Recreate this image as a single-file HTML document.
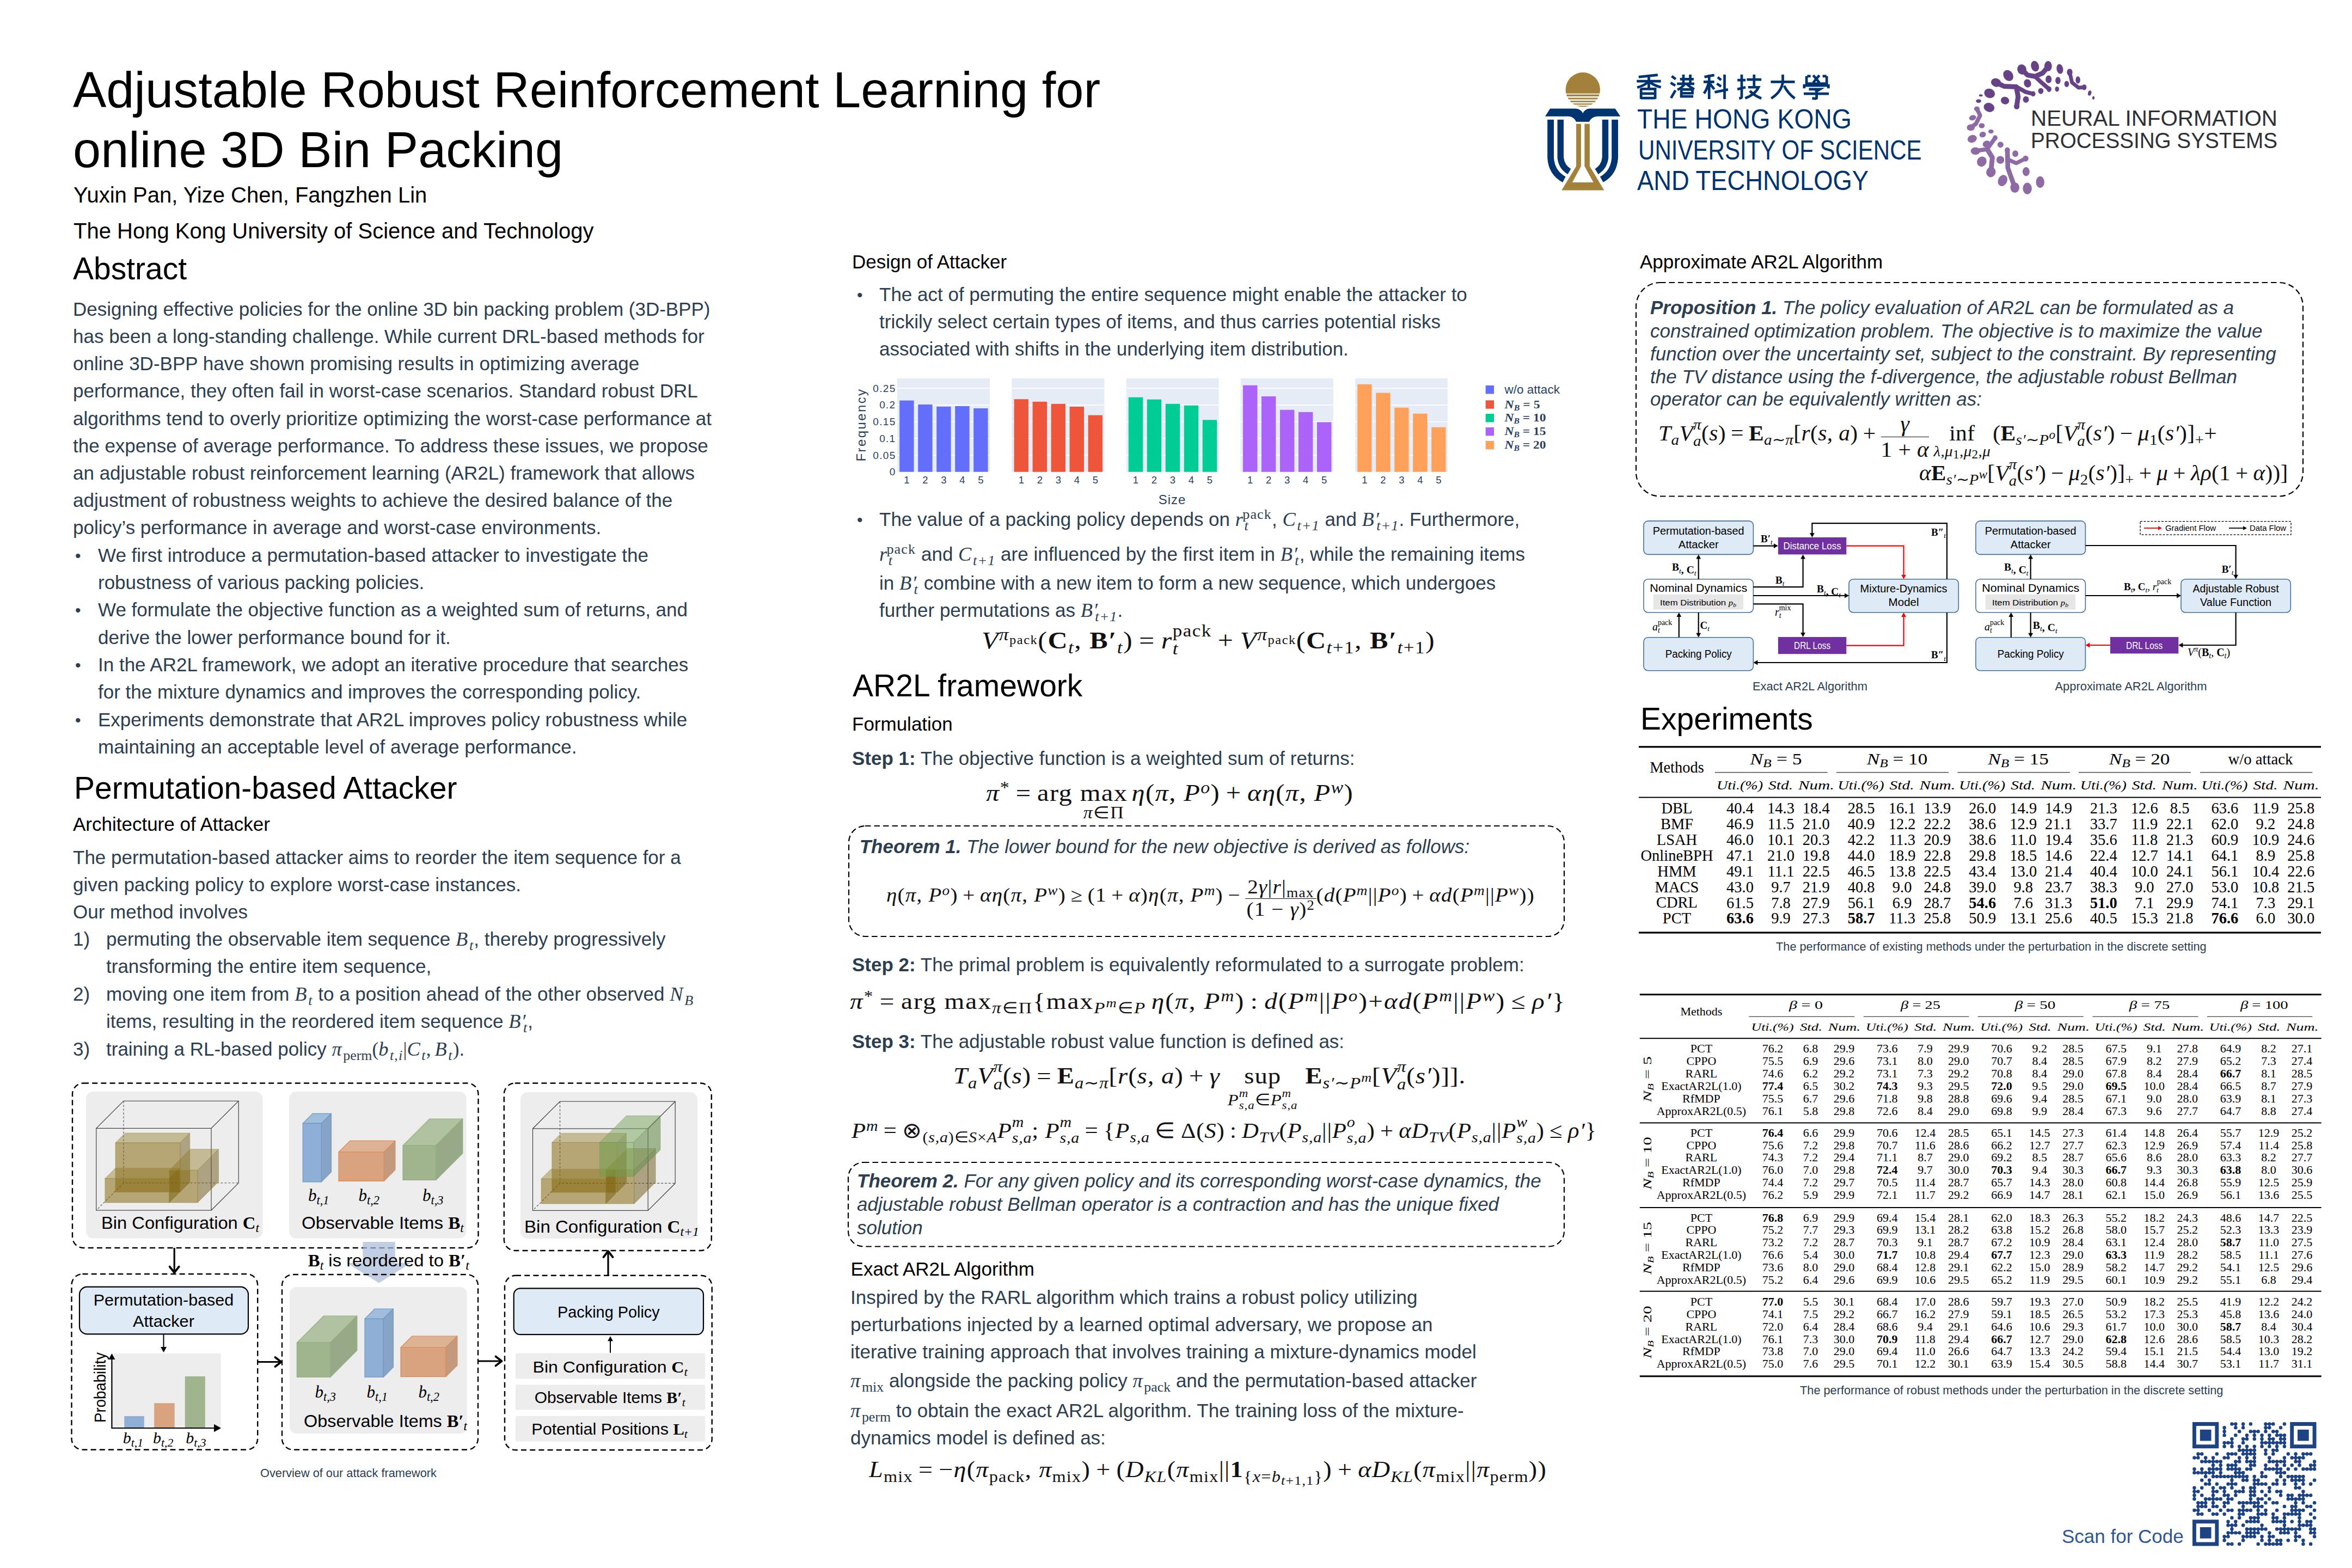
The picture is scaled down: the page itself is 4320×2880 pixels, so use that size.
<!DOCTYPE html>
<html><head><meta charset="utf-8"><title>AR2L poster</title>
<style>
html,body{margin:0;padding:0;background:#fff;}
body{width:4320px;height:2880px;position:relative;overflow:hidden;font-family:'Liberation Sans', sans-serif;}
.t{position:absolute;white-space:nowrap;}
.m{font-family:'Liberation Serif', serif;font-style:italic;font-size:1.04em;letter-spacing:0.03em;} .m sub,.m sup{font-size:72%;} .pr{margin-left:0.02em;}
.r{font-family:'Liberation Serif', serif;font-style:normal;}
.b{font-family:'Liberation Serif', serif;font-weight:bold;font-style:normal;}
sub,sup{font-size:74%;line-height:0;position:relative;vertical-align:baseline;margin-left:0.06em;}
sup{top:-0.5em;} sub{top:0.3em;}
svg{position:absolute;}
.eq{font-family:'Liberation Serif', serif;}
.eq i{font-style:italic;} .eq b{font-weight:bold;} .rm{font-style:normal;}
.sb{font-size:70%;position:relative;top:0.3em;line-height:0;}
.su{font-size:70%;position:relative;top:-0.45em;line-height:0;}
.su2{font-size:80%;position:relative;top:-0.5em;line-height:0;}
.sb2{font-size:80%;position:relative;top:0.2em;line-height:0;}
.ss{display:inline-block;vertical-align:-0.35em;line-height:1.05;font-size:70%;text-align:left;}
.ss .ssu,.ss .ssb{display:block;}
.ul{display:inline-table;vertical-align:baseline;text-align:center;line-height:1.0;}
.ul .ulb,.ul .ull{display:table-row;} .ul .ull{font-size:70%;line-height:0.95;}
.fr{display:inline-block;vertical-align:-0.75em;text-align:center;line-height:1.15;}
.fr .frn{display:block;border-bottom:1.5px solid currentColor;padding:0 0.1em;} .fr .frd{display:block;}
.cal{font-family:'Liberation Serif', serif;font-style:italic;}
.bbm{font-family:'Liberation Serif', serif;font-weight:bold;}
</style></head><body>
<div class="t" style="left:134px;top:106.3px;font-size:92px;line-height:119.6px;color:#000;font-family:'Liberation Sans', sans-serif;font-weight:normal;font-style:normal;">Adjustable Robust Reinforcement Learning for</div>
<div class="t" style="left:134px;top:216.3px;font-size:92px;line-height:119.6px;color:#000;font-family:'Liberation Sans', sans-serif;font-weight:normal;font-style:normal;">online 3D Bin Packing</div>
<div class="t" style="left:135px;top:332.1px;font-size:40px;line-height:52.0px;color:#000;font-family:'Liberation Sans', sans-serif;font-weight:normal;font-style:normal;">Yuxin Pan, Yize Chen, Fangzhen Lin</div>
<div class="t" style="left:135px;top:398.1px;font-size:40px;line-height:52.0px;color:#000;font-family:'Liberation Sans', sans-serif;font-weight:normal;font-style:normal;">The Hong Kong University of Science and Technology</div>
<div class="t" style="left:134px;top:456.2px;font-size:57px;line-height:74.1px;color:#000;font-family:'Liberation Sans', sans-serif;font-weight:normal;font-style:normal;">Abstract</div>
<div class="t" style="left:134px;top:544.8px;font-size:35px;line-height:45.5px;color:#2C3E50;font-family:'Liberation Sans', sans-serif;font-weight:normal;font-style:normal;">Designing effective policies for the online 3D bin packing problem (3D-BPP)</div>
<div class="t" style="left:134px;top:595.0px;font-size:35px;line-height:45.5px;color:#2C3E50;font-family:'Liberation Sans', sans-serif;font-weight:normal;font-style:normal;">has been a long-standing challenge. While current DRL-based methods for</div>
<div class="t" style="left:134px;top:645.2px;font-size:35px;line-height:45.5px;color:#2C3E50;font-family:'Liberation Sans', sans-serif;font-weight:normal;font-style:normal;">online 3D-BPP have shown promising results in optimizing average</div>
<div class="t" style="left:134px;top:695.4px;font-size:35px;line-height:45.5px;color:#2C3E50;font-family:'Liberation Sans', sans-serif;font-weight:normal;font-style:normal;">performance, they often fail in worst-case scenarios. Standard robust DRL</div>
<div class="t" style="left:134px;top:745.5px;font-size:35px;line-height:45.5px;color:#2C3E50;font-family:'Liberation Sans', sans-serif;font-weight:normal;font-style:normal;">algorithms tend to overly prioritize optimizing the worst-case performance at</div>
<div class="t" style="left:134px;top:795.7px;font-size:35px;line-height:45.5px;color:#2C3E50;font-family:'Liberation Sans', sans-serif;font-weight:normal;font-style:normal;">the expense of average performance. To address these issues, we propose</div>
<div class="t" style="left:134px;top:845.9px;font-size:35px;line-height:45.5px;color:#2C3E50;font-family:'Liberation Sans', sans-serif;font-weight:normal;font-style:normal;">an adjustable robust reinforcement learning (AR2L) framework that allows</div>
<div class="t" style="left:134px;top:896.1px;font-size:35px;line-height:45.5px;color:#2C3E50;font-family:'Liberation Sans', sans-serif;font-weight:normal;font-style:normal;">adjustment of robustness weights to achieve the desired balance of the</div>
<div class="t" style="left:134px;top:946.3px;font-size:35px;line-height:45.5px;color:#2C3E50;font-family:'Liberation Sans', sans-serif;font-weight:normal;font-style:normal;">policy&#8217;s performance in average and worst-case environments.</div>
<div class="t" style="left:180px;top:996.5px;font-size:35px;line-height:45.5px;color:#2C3E50;font-family:'Liberation Sans', sans-serif;font-weight:normal;font-style:normal;">We first introduce a permutation-based attacker to investigate the</div>
<div class="t" style="left:180px;top:1046.9px;font-size:35px;line-height:45.5px;color:#2C3E50;font-family:'Liberation Sans', sans-serif;font-weight:normal;font-style:normal;">robustness of various packing policies.</div>
<div class="t" style="left:180px;top:1097.2px;font-size:35px;line-height:45.5px;color:#2C3E50;font-family:'Liberation Sans', sans-serif;font-weight:normal;font-style:normal;">We formulate the objective function as a weighted sum of returns, and</div>
<div class="t" style="left:180px;top:1147.6px;font-size:35px;line-height:45.5px;color:#2C3E50;font-family:'Liberation Sans', sans-serif;font-weight:normal;font-style:normal;">derive the lower performance bound for it.</div>
<div class="t" style="left:180px;top:1198.0px;font-size:35px;line-height:45.5px;color:#2C3E50;font-family:'Liberation Sans', sans-serif;font-weight:normal;font-style:normal;">In the AR2L framework, we adopt an iterative procedure that searches</div>
<div class="t" style="left:180px;top:1248.3px;font-size:35px;line-height:45.5px;color:#2C3E50;font-family:'Liberation Sans', sans-serif;font-weight:normal;font-style:normal;">for the mixture dynamics and improves the corresponding policy.</div>
<div class="t" style="left:180px;top:1298.7px;font-size:35px;line-height:45.5px;color:#2C3E50;font-family:'Liberation Sans', sans-serif;font-weight:normal;font-style:normal;">Experiments demonstrate that AR2L improves policy robustness while</div>
<div class="t" style="left:180px;top:1349.0px;font-size:35px;line-height:45.5px;color:#2C3E50;font-family:'Liberation Sans', sans-serif;font-weight:normal;font-style:normal;">maintaining an acceptable level of average performance.</div>
<div class="t" style="left:138px;top:1000.5px;font-size:30px;line-height:39.0px;color:#2C3E50;font-family:'Liberation Sans', sans-serif;font-weight:normal;font-style:normal;">&#8226;</div>
<div class="t" style="left:138px;top:1101.2px;font-size:30px;line-height:39.0px;color:#2C3E50;font-family:'Liberation Sans', sans-serif;font-weight:normal;font-style:normal;">&#8226;</div>
<div class="t" style="left:138px;top:1201.9px;font-size:30px;line-height:39.0px;color:#2C3E50;font-family:'Liberation Sans', sans-serif;font-weight:normal;font-style:normal;">&#8226;</div>
<div class="t" style="left:138px;top:1302.7px;font-size:30px;line-height:39.0px;color:#2C3E50;font-family:'Liberation Sans', sans-serif;font-weight:normal;font-style:normal;">&#8226;</div>
<div class="t" style="left:136px;top:1410.2px;font-size:57px;line-height:74.1px;color:#000;font-family:'Liberation Sans', sans-serif;font-weight:normal;font-style:normal;">Permutation-based Attacker</div>
<div class="t" style="left:134px;top:1491.1px;font-size:35px;line-height:45.5px;color:#000;font-family:'Liberation Sans', sans-serif;font-weight:normal;font-style:normal;">Architecture of Attacker</div>
<div class="t" style="left:134px;top:1552.1px;font-size:35px;line-height:45.5px;color:#2C3E50;font-family:'Liberation Sans', sans-serif;font-weight:normal;font-style:normal;">The permutation-based attacker aims to reorder the item sequence for a</div>
<div class="t" style="left:134px;top:1601.8px;font-size:35px;line-height:45.5px;color:#2C3E50;font-family:'Liberation Sans', sans-serif;font-weight:normal;font-style:normal;">given packing policy to explore worst-case instances.</div>
<div class="t" style="left:134px;top:1651.5px;font-size:35px;line-height:45.5px;color:#2C3E50;font-family:'Liberation Sans', sans-serif;font-weight:normal;font-style:normal;">Our method involves</div>
<div class="t" style="left:195px;top:1702.1px;font-size:35px;line-height:45.5px;color:#2C3E50;font-family:'Liberation Sans', sans-serif;font-weight:normal;font-style:normal;">permuting the observable item sequence <span class="m">B<sub>t</sub></span>, thereby progressively</div>
<div class="t" style="left:195px;top:1752.1px;font-size:35px;line-height:45.5px;color:#2C3E50;font-family:'Liberation Sans', sans-serif;font-weight:normal;font-style:normal;">transforming the entire item sequence,</div>
<div class="t" style="left:195px;top:1803.1px;font-size:35px;line-height:45.5px;color:#2C3E50;font-family:'Liberation Sans', sans-serif;font-weight:normal;font-style:normal;">moving one item from <span class="m">B<sub>t</sub></span> to a position ahead of the other observed <span class="m">N<sub>B</sub></span></div>
<div class="t" style="left:195px;top:1852.8px;font-size:35px;line-height:45.5px;color:#2C3E50;font-family:'Liberation Sans', sans-serif;font-weight:normal;font-style:normal;">items, resulting in the reordered item sequence <span class="m">B&#8242;<sub style="margin-left:-0.22em">t</sub></span>,</div>
<div class="t" style="left:195px;top:1904.1px;font-size:35px;line-height:45.5px;color:#2C3E50;font-family:'Liberation Sans', sans-serif;font-weight:normal;font-style:normal;">training a RL-based policy <span class="m">&#960;</span><span class="r"><sub>perm</sub>(</span><span class="m">b<sub>t,i</sub></span><span class="r">|</span><span class="m">C<sub>t</sub></span><span class="r">,&#8201;</span><span class="m">B<sub>t</sub></span><span class="r">)</span>.</div>
<div class="t" style="left:134px;top:1702.1px;font-size:35px;line-height:45.5px;color:#2C3E50;font-family:'Liberation Sans', sans-serif;font-weight:normal;font-style:normal;">1)</div>
<div class="t" style="left:134px;top:1803.1px;font-size:35px;line-height:45.5px;color:#2C3E50;font-family:'Liberation Sans', sans-serif;font-weight:normal;font-style:normal;">2)</div>
<div class="t" style="left:134px;top:1904.1px;font-size:35px;line-height:45.5px;color:#2C3E50;font-family:'Liberation Sans', sans-serif;font-weight:normal;font-style:normal;">3)</div>
<div class="t" style="left:478px;top:2692.3px;font-size:21.75px;line-height:28.28px;color:#2C3E50;font-family:'Liberation Sans', sans-serif;font-weight:normal;font-style:normal;">Overview of our attack framework</div>
<div class="t" style="left:1565px;top:458.1px;font-size:35px;line-height:45.5px;color:#000;font-family:'Liberation Sans', sans-serif;font-weight:normal;font-style:normal;">Design of Attacker</div>
<div class="t" style="left:1615px;top:517.9px;font-size:35px;line-height:45.5px;color:#2C3E50;font-family:'Liberation Sans', sans-serif;font-weight:normal;font-style:normal;">The act of permuting the entire sequence might enable the attacker to</div>
<div class="t" style="left:1615px;top:568.1px;font-size:35px;line-height:45.5px;color:#2C3E50;font-family:'Liberation Sans', sans-serif;font-weight:normal;font-style:normal;">trickily select certain types of items, and thus carries potential risks</div>
<div class="t" style="left:1615px;top:617.9px;font-size:35px;line-height:45.5px;color:#2C3E50;font-family:'Liberation Sans', sans-serif;font-weight:normal;font-style:normal;">associated with shifts in the underlying item distribution.</div>
<div class="t" style="left:1574px;top:521.9px;font-size:30px;line-height:39.0px;color:#2C3E50;font-family:'Liberation Sans', sans-serif;font-weight:normal;font-style:normal;">&#8226;</div>
<div class="t" style="left:1615px;top:931.4px;font-size:35px;line-height:45.5px;color:#2C3E50;font-family:'Liberation Sans', sans-serif;font-weight:normal;font-style:normal;">The value of a packing policy depends on <span class="m">r<sub>t</sub><sup style="margin-left:-0.45em;font-style:normal">pack</sup></span>, <span class="m">C<sub>t+1</sub></span> and <span class="m">B&#8242;<sub style="margin-left:-0.22em">t+1</sub></span>. Furthermore,</div>
<div class="t" style="left:1615px;top:995.0px;font-size:35px;line-height:45.5px;color:#2C3E50;font-family:'Liberation Sans', sans-serif;font-weight:normal;font-style:normal;"><span class="m">r<sub>t</sub><sup style="margin-left:-0.45em;font-style:normal">pack</sup></span> and <span class="m">C<sub>t+1</sub></span> are influenced by the first item in <span class="m">B&#8242;<sub style="margin-left:-0.22em">t</sub></span>, while the remaining items</div>
<div class="t" style="left:1615px;top:1048.1px;font-size:35px;line-height:45.5px;color:#2C3E50;font-family:'Liberation Sans', sans-serif;font-weight:normal;font-style:normal;">in <span class="m">B&#8242;<sub style="margin-left:-0.22em">t</sub></span> combine with a new item to form a new sequence, which undergoes</div>
<div class="t" style="left:1615px;top:1097.9px;font-size:35px;line-height:45.5px;color:#2C3E50;font-family:'Liberation Sans', sans-serif;font-weight:normal;font-style:normal;">further permutations as <span class="m">B&#8242;<sub style="margin-left:-0.22em">t+1</sub></span>.</div>
<div class="t" style="left:1574px;top:935.4px;font-size:30px;line-height:39.0px;color:#2C3E50;font-family:'Liberation Sans', sans-serif;font-weight:normal;font-style:normal;">&#8226;</div>
<div class="t" style="left:1566px;top:1221.7px;font-size:57px;line-height:74.1px;color:#000;font-family:'Liberation Sans', sans-serif;font-weight:normal;font-style:normal;">AR2L framework</div>
<div class="t" style="left:1565px;top:1307.1px;font-size:35px;line-height:45.5px;color:#000;font-family:'Liberation Sans', sans-serif;font-weight:normal;font-style:normal;">Formulation</div>
<div class="t" style="left:1565px;top:1369.7px;font-size:35px;line-height:45.5px;color:#2C3E50;font-family:'Liberation Sans', sans-serif;font-weight:normal;font-style:normal;"><b>Step 1:</b> The objective function is a weighted sum of returns:</div>
<div class="t" style="left:1578.7px;top:1531.8px;font-size:35px;line-height:45.5px;color:#2C3E50;font-family:'Liberation Sans', sans-serif;font-weight:normal;font-style:italic;"><b>Theorem 1.</b> The lower bound for the new objective is derived as follows:</div>
<div class="t" style="left:1565px;top:1749.1px;font-size:35px;line-height:45.5px;color:#2C3E50;font-family:'Liberation Sans', sans-serif;font-weight:normal;font-style:normal;"><b>Step 2:</b> The primal problem is equivalently reformulated to a surrogate problem:</div>
<div class="t" style="left:1565px;top:1889.7px;font-size:35px;line-height:45.5px;color:#2C3E50;font-family:'Liberation Sans', sans-serif;font-weight:normal;font-style:normal;"><b>Step 3:</b> The adjustable robust value function is defined as:</div>
<div class="t" style="left:1574px;top:2145.7px;font-size:35px;line-height:45.5px;color:#2C3E50;font-family:'Liberation Sans', sans-serif;font-weight:normal;font-style:italic;"><b>Theorem 2.</b> For any given policy and its corresponding worst-case dynamics, the</div>
<div class="t" style="left:1574px;top:2189.1px;font-size:35px;line-height:45.5px;color:#2C3E50;font-family:'Liberation Sans', sans-serif;font-weight:normal;font-style:italic;">adjustable robust Bellman operator is a contraction and has the unique fixed</div>
<div class="t" style="left:1574px;top:2232.1px;font-size:35px;line-height:45.5px;color:#2C3E50;font-family:'Liberation Sans', sans-serif;font-weight:normal;font-style:italic;">solution</div>
<div class="t" style="left:1562.6px;top:2308.1px;font-size:35px;line-height:45.5px;color:#000;font-family:'Liberation Sans', sans-serif;font-weight:normal;font-style:normal;">Exact AR2L Algorithm</div>
<div class="t" style="left:1562px;top:2359.5px;font-size:35px;line-height:45.5px;color:#2C3E50;font-family:'Liberation Sans', sans-serif;font-weight:normal;font-style:normal;">Inspired by the RARL algorithm which trains a robust policy utilizing</div>
<div class="t" style="left:1562px;top:2410.1px;font-size:35px;line-height:45.5px;color:#2C3E50;font-family:'Liberation Sans', sans-serif;font-weight:normal;font-style:normal;">perturbations injected by a learned optimal adversary, we propose an</div>
<div class="t" style="left:1562px;top:2459.5px;font-size:35px;line-height:45.5px;color:#2C3E50;font-family:'Liberation Sans', sans-serif;font-weight:normal;font-style:normal;">iterative training approach that involves training a mixture-dynamics model</div>
<div class="t" style="left:1562px;top:2513.1px;font-size:35px;line-height:45.5px;color:#2C3E50;font-family:'Liberation Sans', sans-serif;font-weight:normal;font-style:normal;"><span class="m">&#960;</span><span class="r"><sub>mix</sub></span> alongside the packing policy <span class="m">&#960;</span><span class="r"><sub>pack</sub></span> and the permutation-based attacker</div>
<div class="t" style="left:1562px;top:2567.8px;font-size:35px;line-height:45.5px;color:#2C3E50;font-family:'Liberation Sans', sans-serif;font-weight:normal;font-style:normal;"><span class="m">&#960;</span><span class="r"><sub>perm</sub></span> to obtain the exact AR2L algorithm. The training loss of the mixture-</div>
<div class="t" style="left:1562px;top:2618.4px;font-size:35px;line-height:45.5px;color:#2C3E50;font-family:'Liberation Sans', sans-serif;font-weight:normal;font-style:normal;">dynamics model is defined as:</div>
<div class="t" style="left:3012px;top:457.6px;font-size:35px;line-height:45.5px;color:#000;font-family:'Liberation Sans', sans-serif;font-weight:normal;font-style:normal;">Approximate AR2L Algorithm</div>
<div class="t" style="left:3031px;top:542.1px;font-size:35px;line-height:45.5px;color:#2C3E50;font-family:'Liberation Sans', sans-serif;font-weight:normal;font-style:italic;"><b>Proposition 1.</b> The policy evaluation of AR2L can be formulated as a</div>
<div class="t" style="left:3031px;top:584.8px;font-size:35px;line-height:45.5px;color:#2C3E50;font-family:'Liberation Sans', sans-serif;font-weight:normal;font-style:italic;">constrained optimization problem. The objective is to maximize the value</div>
<div class="t" style="left:3031px;top:627.1px;font-size:35px;line-height:45.5px;color:#2C3E50;font-family:'Liberation Sans', sans-serif;font-weight:normal;font-style:italic;">function over the uncertainty set, subject to the constraint. By representing</div>
<div class="t" style="left:3031px;top:668.8px;font-size:35px;line-height:45.5px;color:#2C3E50;font-family:'Liberation Sans', sans-serif;font-weight:normal;font-style:italic;">the TV distance using the f-divergence, the adjustable robust Bellman</div>
<div class="t" style="left:3031px;top:710.1px;font-size:35px;line-height:45.5px;color:#2C3E50;font-family:'Liberation Sans', sans-serif;font-weight:normal;font-style:italic;">operator can be equivalently written as:</div>
<div class="t" style="left:3013px;top:1282.9px;font-size:57px;line-height:74.1px;color:#000;font-family:'Liberation Sans', sans-serif;font-weight:normal;font-style:normal;">Experiments</div>
<div class="t" style="left:3262px;top:1725.3px;font-size:21.75px;line-height:28.28px;color:#2C3E50;font-family:'Liberation Sans', sans-serif;font-weight:normal;font-style:normal;">The performance of existing methods under the perturbation in the discrete setting</div>
<div class="t" style="left:3306px;top:2540.3px;font-size:21.75px;line-height:28.28px;color:#2C3E50;font-family:'Liberation Sans', sans-serif;font-weight:normal;font-style:normal;">The performance of robust methods under the perturbation in the discrete setting</div>
<div class="t" style="left:3787px;top:2798.7px;font-size:35px;line-height:45.5px;color:#2F5597;font-family:'Liberation Sans', sans-serif;font-weight:normal;font-style:normal;">Scan for Code</div>
<svg style="left:1540px;top:680px" width="1360" height="260" viewBox="1540 680 1360 260"><rect x="1648" y="694.7" width="170" height="172" fill="#E5ECF6"/><rect x="1648" y="835.2" width="170" height="1.6" fill="#fff"/><rect x="1648" y="804.5" width="170" height="1.6" fill="#fff"/><rect x="1648" y="773.8" width="170" height="1.6" fill="#fff"/><rect x="1648" y="743.1" width="170" height="1.6" fill="#fff"/><rect x="1648" y="712.4" width="170" height="1.6" fill="#fff"/><rect x="1652.2" y="735.6" width="26.4" height="131.1" fill="#636EFA"/><text x="1665.4" y="888" font-size="18.5" text-anchor="middle" fill="#2a3f5f" font-family="Liberation Sans">1</text><rect x="1686.2" y="743" width="26.4" height="123.7" fill="#636EFA"/><text x="1699.4" y="888" font-size="18.5" text-anchor="middle" fill="#2a3f5f" font-family="Liberation Sans">2</text><rect x="1720.2" y="746.8" width="26.4" height="119.9" fill="#636EFA"/><text x="1733.4" y="888" font-size="18.5" text-anchor="middle" fill="#2a3f5f" font-family="Liberation Sans">3</text><rect x="1754.2" y="746" width="26.4" height="120.7" fill="#636EFA"/><text x="1767.4" y="888" font-size="18.5" text-anchor="middle" fill="#2a3f5f" font-family="Liberation Sans">4</text><rect x="1788.2" y="750" width="26.4" height="116.7" fill="#636EFA"/><text x="1801.4" y="888" font-size="18.5" text-anchor="middle" fill="#2a3f5f" font-family="Liberation Sans">5</text><rect x="1858.4" y="694.7" width="170" height="172" fill="#E5ECF6"/><rect x="1858.4" y="835.2" width="170" height="1.6" fill="#fff"/><rect x="1858.4" y="804.5" width="170" height="1.6" fill="#fff"/><rect x="1858.4" y="773.8" width="170" height="1.6" fill="#fff"/><rect x="1858.4" y="743.1" width="170" height="1.6" fill="#fff"/><rect x="1858.4" y="712.4" width="170" height="1.6" fill="#fff"/><rect x="1862.6" y="733.2" width="26.4" height="133.5" fill="#EF553B"/><text x="1875.8" y="888" font-size="18.5" text-anchor="middle" fill="#2a3f5f" font-family="Liberation Sans">1</text><rect x="1896.6" y="737.8" width="26.4" height="128.9" fill="#EF553B"/><text x="1909.8" y="888" font-size="18.5" text-anchor="middle" fill="#2a3f5f" font-family="Liberation Sans">2</text><rect x="1930.6" y="741.8" width="26.4" height="124.9" fill="#EF553B"/><text x="1943.8" y="888" font-size="18.5" text-anchor="middle" fill="#2a3f5f" font-family="Liberation Sans">3</text><rect x="1964.6" y="747" width="26.4" height="119.7" fill="#EF553B"/><text x="1977.8" y="888" font-size="18.5" text-anchor="middle" fill="#2a3f5f" font-family="Liberation Sans">4</text><rect x="1998.6" y="762.6" width="26.4" height="104.1" fill="#EF553B"/><text x="2011.8" y="888" font-size="18.5" text-anchor="middle" fill="#2a3f5f" font-family="Liberation Sans">5</text><rect x="2068.6" y="694.7" width="170" height="172" fill="#E5ECF6"/><rect x="2068.6" y="835.2" width="170" height="1.6" fill="#fff"/><rect x="2068.6" y="804.5" width="170" height="1.6" fill="#fff"/><rect x="2068.6" y="773.8" width="170" height="1.6" fill="#fff"/><rect x="2068.6" y="743.1" width="170" height="1.6" fill="#fff"/><rect x="2068.6" y="712.4" width="170" height="1.6" fill="#fff"/><rect x="2072.8" y="729.7" width="26.4" height="137.0" fill="#00CC96"/><text x="2086.0" y="888" font-size="18.5" text-anchor="middle" fill="#2a3f5f" font-family="Liberation Sans">1</text><rect x="2106.8" y="733.7" width="26.4" height="133.0" fill="#00CC96"/><text x="2120.0" y="888" font-size="18.5" text-anchor="middle" fill="#2a3f5f" font-family="Liberation Sans">2</text><rect x="2140.8" y="741.8" width="26.4" height="124.9" fill="#00CC96"/><text x="2154.0" y="888" font-size="18.5" text-anchor="middle" fill="#2a3f5f" font-family="Liberation Sans">3</text><rect x="2174.8" y="744.7" width="26.4" height="122.0" fill="#00CC96"/><text x="2188.0" y="888" font-size="18.5" text-anchor="middle" fill="#2a3f5f" font-family="Liberation Sans">4</text><rect x="2208.8" y="771.3" width="26.4" height="95.4" fill="#00CC96"/><text x="2222.0" y="888" font-size="18.5" text-anchor="middle" fill="#2a3f5f" font-family="Liberation Sans">5</text><rect x="2278.8" y="694.7" width="170" height="172" fill="#E5ECF6"/><rect x="2278.8" y="835.2" width="170" height="1.6" fill="#fff"/><rect x="2278.8" y="804.5" width="170" height="1.6" fill="#fff"/><rect x="2278.8" y="773.8" width="170" height="1.6" fill="#fff"/><rect x="2278.8" y="743.1" width="170" height="1.6" fill="#fff"/><rect x="2278.8" y="712.4" width="170" height="1.6" fill="#fff"/><rect x="2283.0" y="707.7" width="26.4" height="159.0" fill="#AB63FA"/><text x="2296.2" y="888" font-size="18.5" text-anchor="middle" fill="#2a3f5f" font-family="Liberation Sans">1</text><rect x="2317.0" y="728" width="26.4" height="138.7" fill="#AB63FA"/><text x="2330.2" y="888" font-size="18.5" text-anchor="middle" fill="#2a3f5f" font-family="Liberation Sans">2</text><rect x="2351.0" y="752.8" width="26.4" height="113.9" fill="#AB63FA"/><text x="2364.2" y="888" font-size="18.5" text-anchor="middle" fill="#2a3f5f" font-family="Liberation Sans">3</text><rect x="2385.0" y="756.9" width="26.4" height="109.8" fill="#AB63FA"/><text x="2398.2" y="888" font-size="18.5" text-anchor="middle" fill="#2a3f5f" font-family="Liberation Sans">4</text><rect x="2419.0" y="775.4" width="26.4" height="91.3" fill="#AB63FA"/><text x="2432.2" y="888" font-size="18.5" text-anchor="middle" fill="#2a3f5f" font-family="Liberation Sans">5</text><rect x="2489" y="694.7" width="170" height="172" fill="#E5ECF6"/><rect x="2489" y="835.2" width="170" height="1.6" fill="#fff"/><rect x="2489" y="804.5" width="170" height="1.6" fill="#fff"/><rect x="2489" y="773.8" width="170" height="1.6" fill="#fff"/><rect x="2489" y="743.1" width="170" height="1.6" fill="#fff"/><rect x="2489" y="712.4" width="170" height="1.6" fill="#fff"/><rect x="2493.2" y="705.8" width="26.4" height="160.9" fill="#FFA15A"/><text x="2506.4" y="888" font-size="18.5" text-anchor="middle" fill="#2a3f5f" font-family="Liberation Sans">1</text><rect x="2527.2" y="721.5" width="26.4" height="145.2" fill="#FFA15A"/><text x="2540.4" y="888" font-size="18.5" text-anchor="middle" fill="#2a3f5f" font-family="Liberation Sans">2</text><rect x="2561.2" y="748.7" width="26.4" height="118.0" fill="#FFA15A"/><text x="2574.4" y="888" font-size="18.5" text-anchor="middle" fill="#2a3f5f" font-family="Liberation Sans">3</text><rect x="2595.2" y="759.7" width="26.4" height="107.0" fill="#FFA15A"/><text x="2608.4" y="888" font-size="18.5" text-anchor="middle" fill="#2a3f5f" font-family="Liberation Sans">4</text><rect x="2629.2" y="784.7" width="26.4" height="82.0" fill="#FFA15A"/><text x="2642.4" y="888" font-size="18.5" text-anchor="middle" fill="#2a3f5f" font-family="Liberation Sans">5</text><text x="1645.5" y="873.2" font-size="19" text-anchor="end" fill="#2a3f5f" font-family="Liberation Sans" letter-spacing="1.3">0</text><text x="1645.5" y="842.5" font-size="19" text-anchor="end" fill="#2a3f5f" font-family="Liberation Sans" letter-spacing="1.3">0.05</text><text x="1645.5" y="811.8" font-size="19" text-anchor="end" fill="#2a3f5f" font-family="Liberation Sans" letter-spacing="1.3">0.1</text><text x="1645.5" y="781.1" font-size="19" text-anchor="end" fill="#2a3f5f" font-family="Liberation Sans" letter-spacing="1.3">0.15</text><text x="1645.5" y="750.4" font-size="19" text-anchor="end" fill="#2a3f5f" font-family="Liberation Sans" letter-spacing="1.3">0.2</text><text x="1645.5" y="719.7" font-size="19" text-anchor="end" fill="#2a3f5f" font-family="Liberation Sans" letter-spacing="1.3">0.25</text><text transform="translate(1589.5,780) rotate(-90)" font-size="24" text-anchor="middle" fill="#2a3f5f" font-family="Liberation Sans" letter-spacing="2.4">Frequency</text><text x="2153" y="925.7" font-size="24" text-anchor="middle" fill="#2a3f5f" font-family="Liberation Sans" letter-spacing="1">Size</text><rect x="2728.7" y="708.0" width="15.4" height="15.4" fill="#636EFA"/><text x="2763.6" y="723.0" font-size="22.5" fill="#2a3f5f" font-family="Liberation Sans">w/o attack</text><rect x="2728.7" y="735.3" width="15.4" height="15.4" fill="#EF553B"/><text x="2763.6" y="749.5" font-size="21" fill="#2a3f5f" font-family="Liberation Serif" font-weight="bold" textLength="65" lengthAdjust="spacingAndGlyphs"><tspan font-style="italic">N</tspan><tspan font-size="14" dy="4" font-style="italic">B</tspan><tspan dy="-4"> = 5</tspan></text><rect x="2728.7" y="760.0" width="15.4" height="15.4" fill="#00CC96"/><text x="2763.6" y="774.2" font-size="21" fill="#2a3f5f" font-family="Liberation Serif" font-weight="bold" textLength="76" lengthAdjust="spacingAndGlyphs"><tspan font-style="italic">N</tspan><tspan font-size="14" dy="4" font-style="italic">B</tspan><tspan dy="-4"> = 10</tspan></text><rect x="2728.7" y="785.0" width="15.4" height="15.4" fill="#AB63FA"/><text x="2763.6" y="799.2" font-size="21" fill="#2a3f5f" font-family="Liberation Serif" font-weight="bold" textLength="76" lengthAdjust="spacingAndGlyphs"><tspan font-style="italic">N</tspan><tspan font-size="14" dy="4" font-style="italic">B</tspan><tspan dy="-4"> = 15</tspan></text><rect x="2728.7" y="809.9" width="15.4" height="15.4" fill="#FFA15A"/><text x="2763.6" y="824.1" font-size="21" fill="#2a3f5f" font-family="Liberation Serif" font-weight="bold" textLength="76" lengthAdjust="spacingAndGlyphs"><tspan font-style="italic">N</tspan><tspan font-size="14" dy="4" font-style="italic">B</tspan><tspan dy="-4"> = 20</tspan></text></svg>
<svg style="left:100px;top:1960px" width="1260" height="740" viewBox="100 1960 1260 740"><rect x="133" y="1989.5" width="745.5" height="302.5" rx="20" fill="none" stroke="#000" stroke-width="2.4" stroke-dasharray="10 6.2"/><rect x="158" y="2005" width="324.5" height="269.5" rx="13" fill="#EDEDED"/><rect x="531" y="2005" width="325.5" height="269.5" rx="13" fill="#EDEDED"/><g fill="none" stroke="#333" stroke-width="1.1"><path d="M227.0,2022.2 V2172.8 H438.2 M227.0,2172.8 L176.8,2223.0" stroke-dasharray="4 3" stroke="#555"/><rect x="176.8" y="2072.4" width="211.2" height="150.6"/><path d="M176.8,2072.4 L227.0,2022.2 H438.2 V2172.8 L388.0,2223.0 M388.0,2072.4 L438.2,2022.2"/></g><g stroke="#9A8A3A" stroke-width="0.8" stroke-opacity="0.6"><polygon points="212,2098.9 229.8,2081.1 348.7,2081.1 330.9,2098.9" fill="#8C7420" fill-opacity="0.42"/><polygon points="330.9,2098.9 348.7,2081.1 348.7,2171.7 330.9,2189.5" fill="#6E5A18" fill-opacity="0.5"/><rect x="212" y="2098.9" width="118.9" height="90.6" fill="#7F6000" fill-opacity="0.5"/></g><g stroke="#9A8A3A" stroke-width="0.8" stroke-opacity="0.6"><polygon points="192.9,2164.4 211.9,2145.4 329.8,2145.4 310.8,2164.4" fill="#8C7420" fill-opacity="0.42"/><polygon points="310.8,2164.4 329.8,2145.4 329.8,2190.0 310.8,2209.0" fill="#6E5A18" fill-opacity="0.5"/><rect x="192.9" y="2164.4" width="117.9" height="44.6" fill="#7F6000" fill-opacity="0.5"/></g><g stroke="#9A8A3A" stroke-width="0.8" stroke-opacity="0.6"><polygon points="310.8,2149.3 349.3,2110.8 401.5,2110.8 363.0,2149.3" fill="#8C7420" fill-opacity="0.42"/><polygon points="363.0,2149.3 401.5,2110.8 401.5,2170.5 363.0,2209.0" fill="#6E5A18" fill-opacity="0.5"/><rect x="310.8" y="2149.3" width="52.2" height="59.7" fill="#7F6000" fill-opacity="0.5"/></g><text x="186" y="2257.2" font-size="32" font-family="Liberation Sans" fill="#000" text-anchor="start" font-weight="normal" font-style="normal" textLength="290" lengthAdjust="spacingAndGlyphs" >Bin Configuration <tspan font-family="Liberation Serif" font-weight="bold">C</tspan><tspan font-family="Liberation Serif" font-style="italic" font-size="23" dy="6">t</tspan></text><g opacity="1" stroke="#6E98C8" stroke-width="1.2" stroke-linejoin="round"><polygon points="556.2,2063.3 574.2,2045.3000000000002 608.3000000000001,2045.3000000000002 590.3000000000001,2063.3" fill="#A1BDDC"/><polygon points="590.3000000000001,2063.3 608.3000000000001,2045.3000000000002 608.3000000000001,2152.8 590.3000000000001,2170.8" fill="#87A4C6"/><rect x="556.2" y="2063.3" width="34.1" height="107.5" fill="#8FAFD6"/></g><g opacity="1" stroke="#DB8B5A" stroke-width="1.2" stroke-linejoin="round"><polygon points="622,2116 642.7,2095.3 725.9000000000001,2095.3 705.2,2116" fill="#DEB295"/><polygon points="705.2,2116 725.9000000000001,2095.3 725.9000000000001,2148.7000000000003 705.2,2169.4" fill="#C49A7E"/><rect x="622" y="2116" width="83.2" height="53.4" fill="#D9A37F"/></g><g opacity="1" stroke="#90B07E" stroke-width="1.2" stroke-linejoin="round"><polygon points="740,2104 789,2055 849.8,2055 800.8,2104" fill="#B0C2A0"/><polygon points="800.8,2104 849.8,2055 849.8,2118.4 800.8,2167.4" fill="#97A986"/><rect x="740" y="2104" width="60.8" height="63.4" fill="#A0B58D"/></g><text x="566" y="2206" font-size="31" font-family="Liberation Serif" font-style="italic" fill="#000">b<tspan font-size="22.3" dy="6.2">t,1</tspan></text><text x="658.6" y="2206" font-size="31" font-family="Liberation Serif" font-style="italic" fill="#000">b<tspan font-size="22.3" dy="6.2">t,2</tspan></text><text x="776" y="2206" font-size="31" font-family="Liberation Serif" font-style="italic" fill="#000">b<tspan font-size="22.3" dy="6.2">t,3</tspan></text><text x="554" y="2257.2" font-size="32" font-family="Liberation Sans" fill="#000" text-anchor="start" font-weight="normal" font-style="normal" textLength="298" lengthAdjust="spacingAndGlyphs" >Observable Items <tspan font-family="Liberation Serif" font-weight="bold">B</tspan><tspan font-family="Liberation Serif" font-style="italic" font-size="23" dy="6">t</tspan></text><rect x="925.8" y="1989.5" width="381.0" height="307.5" rx="20" fill="none" stroke="#000" stroke-width="2.4" stroke-dasharray="10 6.2"/><rect x="956" y="2006" width="325" height="269" rx="13" fill="#EDEDED"/><g fill="none" stroke="#333" stroke-width="1.1"><path d="M1028.5,2023 V2173.4 H1240.2 M1028.5,2173.4 L978.5,2223.4" stroke-dasharray="4 3" stroke="#555"/><rect x="978.5" y="2073" width="211.7" height="150.4"/><path d="M978.5,2073 L1028.5,2023 H1240.2 V2173.4 L1190.2,2223.4 M1190.2,2073 L1240.2,2023"/></g><g stroke="#9A8A3A" stroke-width="0.8" stroke-opacity="0.6"><polygon points="1013.8,2098.4 1030.8,2081.4 1150.5,2081.4 1133.5,2098.4" fill="#8C7420" fill-opacity="0.42"/><polygon points="1133.5,2098.4 1150.5,2081.4 1150.5,2173.0 1133.5,2190.0" fill="#6E5A18" fill-opacity="0.5"/><rect x="1013.8" y="2098.4" width="119.7" height="91.6" fill="#7F6000" fill-opacity="0.5"/></g><g stroke="#9A8A3A" stroke-width="0.8" stroke-opacity="0.6"><polygon points="994,2165.3 1012,2147.3 1130.5,2147.3 1112.5,2165.3" fill="#8C7420" fill-opacity="0.42"/><polygon points="1112.5,2165.3 1130.5,2147.3 1130.5,2193.0 1112.5,2211.0" fill="#6E5A18" fill-opacity="0.5"/><rect x="994" y="2165.3" width="118.5" height="45.7" fill="#7F6000" fill-opacity="0.5"/></g><g stroke="#9A8A3A" stroke-width="0.8" stroke-opacity="0.6"><polygon points="1112.5,2148.8 1151.8,2109.5 1204.1,2109.5 1164.8,2148.8" fill="#8C7420" fill-opacity="0.42"/><polygon points="1164.8,2148.8 1204.1,2109.5 1204.1,2171.7 1164.8,2211.0" fill="#6E5A18" fill-opacity="0.5"/><rect x="1112.5" y="2148.8" width="52.3" height="62.2" fill="#7F6000" fill-opacity="0.5"/></g><g stroke="#6F9A55" stroke-width="0.8" stroke-opacity="0.7"><polygon points="1101.4,2098.4 1150.4,2049.4 1212.9,2049.4 1163.9,2098.4" fill="#82A868" fill-opacity="0.55"/><polygon points="1163.9,2098.4 1212.9,2049.4 1212.9,2112.0 1163.9,2161.0" fill="#6A8F52" fill-opacity="0.6000000000000001"/><rect x="1101.4" y="2098.4" width="62.5" height="62.6" fill="#70A050" fill-opacity="0.55"/></g><text x="963" y="2263.6" font-size="32" font-family="Liberation Sans" fill="#000" text-anchor="start" font-weight="normal" font-style="normal" textLength="321" lengthAdjust="spacingAndGlyphs" >Bin Configuration <tspan font-family="Liberation Serif" font-weight="bold">C</tspan><tspan font-family="Liberation Serif" font-style="italic" font-size="23" dy="6">t+1</tspan></text><polygon points="666.3,2281 725.8,2281 725.8,2319.5 755,2319.5 696,2356.5 636.5,2319.5 666.3,2319.5" fill="#A9BBD8" fill-opacity="0.72"/><text x="565.8" y="2326" font-size="32" font-family="Liberation Sans" fill="#000" text-anchor="start" font-weight="normal" font-style="normal" textLength="296" lengthAdjust="spacingAndGlyphs" ><tspan font-family="Liberation Serif" font-weight="bold">B</tspan><tspan font-family="Liberation Serif" font-style="italic" font-size="23" dy="6">t</tspan><tspan dy="-6"> is reordered to </tspan><tspan font-family="Liberation Serif" font-weight="bold">B&#8242;</tspan><tspan font-family="Liberation Serif" font-style="italic" font-size="23" dy="6">t</tspan></text><line x1="320.2" y1="2292" x2="320.2" y2="2337.5" stroke="#000" stroke-width="3.2"/><polyline points="311.7,2326.5 320.2,2337.5 328.7,2326.5" fill="none" stroke="#000" stroke-width="3.8" stroke-linecap="round" stroke-linejoin="round"/><line x1="473.5" y1="2501.5" x2="516.5" y2="2501.5" stroke="#000" stroke-width="3.2"/><polyline points="505.5,2493.0 516.5,2501.5 505.5,2510.0" fill="none" stroke="#000" stroke-width="3.8" stroke-linecap="round" stroke-linejoin="round"/><line x1="878.5" y1="2500" x2="921.5" y2="2500" stroke="#000" stroke-width="3.2"/><polyline points="910.5,2491.5 921.5,2500 910.5,2508.5" fill="none" stroke="#000" stroke-width="3.8" stroke-linecap="round" stroke-linejoin="round"/><line x1="1117" y1="2342" x2="1117" y2="2298" stroke="#000" stroke-width="3.2"/><polyline points="1108.5,2309 1117,2298 1125.5,2309" fill="none" stroke="#000" stroke-width="3.8" stroke-linecap="round" stroke-linejoin="round"/><rect x="131.5" y="2340" width="341.7" height="322.6999999999998" rx="20" fill="none" stroke="#000" stroke-width="2.4" stroke-dasharray="10 6.2"/><rect x="146" y="2363.7" width="310" height="86.7" rx="14" fill="#DEEAF6" stroke="#000" stroke-width="2.2"/><text x="300.5" y="2397.9" font-size="29" font-family="Liberation Sans" fill="#000" text-anchor="middle" font-weight="normal" font-style="normal" textLength="257.5" lengthAdjust="spacingAndGlyphs" >Permutation-based</text><text x="300.5" y="2436.9" font-size="29" font-family="Liberation Sans" fill="#000" text-anchor="middle" font-weight="normal" font-style="normal" textLength="113" lengthAdjust="spacingAndGlyphs" >Attacker</text><line x1="300.5" y1="2450.4" x2="300.5" y2="2476" stroke="#000" stroke-width="2"/><polygon points="300.5,2484 295.0,2474 306.0,2474" fill="#000"/><rect x="206" y="2486" width="199.6" height="137" fill="#EDEDED"/><rect x="228.3" y="2601" width="36.5" height="22" fill="#8FAFD6"/><rect x="283.2" y="2577.2" width="37.5" height="45.8" fill="#D9A37F"/><rect x="339.8" y="2528" width="37" height="95" fill="#A0B58D"/><polyline points="205.4,2494 205.4,2623 398,2623" fill="none" stroke="#000" stroke-width="2.2"/><polygon points="205.4,2486 199.35,2497 211.45000000000002,2497" fill="#000"/><polygon points="406,2623 393,2615.85 393,2630.15" fill="#000"/><text transform="translate(193.5,2548.5) rotate(-90)" font-size="29" font-family="Liberation Sans" text-anchor="middle" textLength="129" lengthAdjust="spacingAndGlyphs">Probability</text><text x="225.8" y="2651" font-size="30" font-family="Liberation Serif" font-style="italic" fill="#000">b<tspan font-size="21.6" dy="6.0">t,1</tspan></text><text x="281" y="2651" font-size="30" font-family="Liberation Serif" font-style="italic" fill="#000">b<tspan font-size="21.6" dy="6.0">t,2</tspan></text><text x="341.3" y="2651" font-size="30" font-family="Liberation Serif" font-style="italic" fill="#000">b<tspan font-size="21.6" dy="6.0">t,3</tspan></text><rect x="518" y="2341" width="360" height="321.6999999999998" rx="20" fill="none" stroke="#000" stroke-width="2.4" stroke-dasharray="10 6.2"/><rect x="532" y="2363.7" width="325.7" height="269.6" rx="13" fill="#EDEDED"/><g opacity="1" stroke="#90B07E" stroke-width="1.2" stroke-linejoin="round"><polygon points="545.4,2466.2 594.6,2417.0 655.8000000000001,2417.0 606.6,2466.2" fill="#B0C2A0"/><polygon points="606.6,2466.2 655.8000000000001,2417.0 655.8000000000001,2480.3 606.6,2529.5" fill="#97A986"/><rect x="545.4" y="2466.2" width="61.2" height="63.3" fill="#A0B58D"/></g><g opacity="1" stroke="#6E98C8" stroke-width="1.2" stroke-linejoin="round"><polygon points="670,2422.3 688.3,2404.0 722.3,2404.0 704,2422.3" fill="#A1BDDC"/><polygon points="704,2422.3 722.3,2404.0 722.3,2511.2 704,2529.5" fill="#87A4C6"/><rect x="670" y="2422.3" width="34" height="107.2" fill="#8FAFD6"/></g><g opacity="1" stroke="#DB8B5A" stroke-width="1.2" stroke-linejoin="round"><polygon points="736,2475 757,2454 839.9,2454 818.9,2475" fill="#DEB295"/><polygon points="818.9,2475 839.9,2454 839.9,2507.7 818.9,2528.7" fill="#C49A7E"/><rect x="736" y="2475" width="82.9" height="53.7" fill="#D9A37F"/></g><text x="578.6" y="2567" font-size="31" font-family="Liberation Serif" font-style="italic" fill="#000">b<tspan font-size="22.3" dy="6.2">t,3</tspan></text><text x="673.5" y="2567" font-size="31" font-family="Liberation Serif" font-style="italic" fill="#000">b<tspan font-size="22.3" dy="6.2">t,1</tspan></text><text x="768.4" y="2567" font-size="31" font-family="Liberation Serif" font-style="italic" fill="#000">b<tspan font-size="22.3" dy="6.2">t,2</tspan></text><text x="558" y="2620.6" font-size="32" font-family="Liberation Sans" fill="#000" text-anchor="start" font-weight="normal" font-style="normal" textLength="300" lengthAdjust="spacingAndGlyphs" >Observable Items <tspan font-family="Liberation Serif" font-weight="bold">B&#8242;</tspan><tspan font-family="Liberation Serif" font-style="italic" font-size="23" dy="6">t</tspan></text><rect x="927" y="2342.7" width="380.70000000000005" height="320.60000000000036" rx="20" fill="none" stroke="#000" stroke-width="2.4" stroke-dasharray="10 6.2"/><rect x="943.7" y="2366.3" width="348.3" height="84.9" rx="12" fill="#DEEAF6" stroke="#000" stroke-width="2.2"/><text x="1024" y="2420" font-size="30" font-family="Liberation Sans" fill="#000" text-anchor="start" font-weight="normal" font-style="normal" textLength="187.7" lengthAdjust="spacingAndGlyphs" >Packing Policy</text><line x1="1121" y1="2484.7" x2="1121" y2="2462" stroke="#000" stroke-width="2"/><polygon points="1121,2454.3 1116.05,2463.3 1125.95,2463.3" fill="#000"/><rect x="946.8" y="2485.6" width="348.4" height="46.9" rx="3" fill="#EDEDED"/><rect x="946.8" y="2543.6" width="348.4" height="46.0" rx="3" fill="#EDEDED"/><rect x="946.8" y="2600.8" width="348.4" height="46.9" rx="3" fill="#EDEDED"/><text x="978.5" y="2521.3" font-size="29" font-family="Liberation Sans" fill="#000" text-anchor="start" font-weight="normal" font-style="normal" textLength="284.5" lengthAdjust="spacingAndGlyphs" >Bin Configuration <tspan font-family="Liberation Serif" font-weight="bold">C</tspan><tspan font-family="Liberation Serif" font-style="italic" font-size="21" dy="6">t</tspan></text><text x="981.7" y="2577" font-size="29" font-family="Liberation Sans" fill="#000" text-anchor="start" font-weight="normal" font-style="normal" textLength="277" lengthAdjust="spacingAndGlyphs" >Observable Items <tspan font-family="Liberation Serif" font-weight="bold">B&#8242;</tspan><tspan font-family="Liberation Serif" font-style="italic" font-size="21" dy="6">t</tspan></text><text x="976.3" y="2635.2" font-size="29" font-family="Liberation Sans" fill="#000" text-anchor="start" font-weight="normal" font-style="normal" textLength="286.7" lengthAdjust="spacingAndGlyphs" >Potential Positions <tspan font-family="Liberation Serif" font-weight="bold">L</tspan><tspan font-family="Liberation Serif" font-style="italic" font-size="21" dy="6">t</tspan></text></svg>
<svg style="left:2990px;top:940px" width="1300" height="350" viewBox="2990 940 1300 350"><rect x="3019" y="956.9" width="201.4000000000001" height="61.5" rx="8" fill="#DEEAF6" stroke="#41719C" stroke-width="1.6"/><text x="3119.7" y="982" font-size="19.5" font-family="Liberation Sans" fill="#000" text-anchor="middle" font-weight="normal" font-style="normal" textLength="168" lengthAdjust="spacingAndGlyphs" >Permutation-based</text><text x="3119.7" y="1006.7" font-size="19.5" font-family="Liberation Sans" fill="#000" text-anchor="middle" font-weight="normal" font-style="normal" textLength="74" lengthAdjust="spacingAndGlyphs" >Attacker</text><rect x="3019" y="1063.8" width="201.4000000000001" height="61.200000000000045" rx="8" fill="#fff" stroke="#41719C" stroke-width="1.6"/><text x="3119.7" y="1087" font-size="20" font-family="Liberation Sans" fill="#000" text-anchor="middle" font-weight="normal" font-style="normal" textLength="179" lengthAdjust="spacingAndGlyphs" >Nominal Dynamics</text><rect x="3036.7" y="1091.8" width="165.3" height="27.8" fill="#E7E6E6"/><text x="3049" y="1112" font-size="14.5" font-family="Liberation Sans" fill="#000" text-anchor="start" font-weight="normal" font-style="normal" textLength="140" lengthAdjust="spacingAndGlyphs" >Item Distribution <tspan font-family="Liberation Serif" font-style="italic">p</tspan><tspan font-family="Liberation Serif" font-style="italic" font-size="10" dy="3">b</tspan></text><rect x="3019" y="1170.7" width="201.4000000000001" height="61.0" rx="8" fill="#DEEAF6" stroke="#41719C" stroke-width="1.6"/><text x="3119.7" y="1208" font-size="20" font-family="Liberation Sans" fill="#000" text-anchor="middle" font-weight="normal" font-style="normal" textLength="122" lengthAdjust="spacingAndGlyphs" >Packing Policy</text><polyline points="3119.7,1063.8 3119.7,1026" fill="none" stroke="#000" stroke-width="2.2"/><polygon points="3119.7,1018.4 3115.2999999999997,1026.4 3124.1,1026.4" fill="#000"/><text x="3071" y="1048.3" font-size="19" font-family="Liberation Sans" fill="#000" text-anchor="start" font-weight="normal" font-style="normal" textLength="44.6" lengthAdjust="spacingAndGlyphs" ><tspan font-family="Liberation Serif" font-weight="bold">B</tspan><tspan font-family="Liberation Serif" font-style="italic" font-size="13.3" dy="4.2">t</tspan><tspan dy="-4.2"></tspan><tspan font-family="Liberation Serif" font-weight="bold">, </tspan><tspan font-family="Liberation Serif" font-weight="bold">C</tspan><tspan font-family="Liberation Serif" font-style="italic" font-size="13.3" dy="4.2">t</tspan><tspan dy="-4.2"></tspan></text><polyline points="3083.8,1170.7 3083.8,1133" fill="none" stroke="#000" stroke-width="2.2"/><polygon points="3083.8,1125 3079.4,1133 3088.2000000000003,1133" fill="#000"/><text x="3035" y="1157.7" font-size="20" font-family="Liberation Serif" font-style="italic">a<tspan font-size="14" dy="4">t</tspan><tspan font-style="normal" font-size="14" dy="-14" dx="-4">pack</tspan></text><polyline points="3119.7,1125 3119.7,1163" fill="none" stroke="#000" stroke-width="2.2"/><polygon points="3119.7,1170.7 3115.2999999999997,1162.7 3124.1,1162.7" fill="#000"/><text x="3122.4" y="1155" font-size="19" font-family="Liberation Sans" fill="#000" text-anchor="start" font-weight="normal" font-style="normal" ><tspan font-family="Liberation Serif" font-weight="bold">C</tspan><tspan font-family="Liberation Serif" font-style="italic" font-size="13.3" dy="4.2">t</tspan><tspan dy="-4.2"></tspan></text><rect x="3265.9" y="987" width="125.40000000000009" height="31.399999999999977" rx="0" fill="#7030A0" stroke="#7030A0" stroke-width="0"/><text x="3328.6" y="1009.4" font-size="17.5" font-family="Liberation Sans" fill="#fff" text-anchor="middle" font-weight="normal" font-style="normal" textLength="106" lengthAdjust="spacingAndGlyphs" >Distance Loss</text><rect x="3265.9" y="1170" width="125.40000000000009" height="31.200000000000045" rx="0" fill="#7030A0" stroke="#7030A0" stroke-width="0"/><text x="3328.6" y="1191.7" font-size="17.5" font-family="Liberation Sans" fill="#fff" text-anchor="middle" font-weight="normal" font-style="normal" textLength="67" lengthAdjust="spacingAndGlyphs" >DRL Loss</text><rect x="3396" y="1063.8" width="201.30000000000018" height="61.200000000000045" rx="8" fill="#DEEAF6" stroke="#41719C" stroke-width="1.6"/><text x="3496.6" y="1088.3" font-size="20" font-family="Liberation Sans" fill="#000" text-anchor="middle" font-weight="normal" font-style="normal" textLength="160" lengthAdjust="spacingAndGlyphs" >Mixture-Dynamics</text><text x="3496.6" y="1112.8" font-size="20" font-family="Liberation Sans" fill="#000" text-anchor="middle" font-weight="normal" font-style="normal" textLength="56" lengthAdjust="spacingAndGlyphs" >Model</text><polyline points="3220.4,1002.6 3258,1002.6" fill="none" stroke="#000" stroke-width="2.2"/><polygon points="3265.9,1002.6 3257.9,998.2 3257.9,1007.0" fill="#000"/><text x="3234" y="995.8" font-size="19" font-family="Liberation Sans" fill="#000" text-anchor="start" font-weight="normal" font-style="normal" ><tspan font-family="Liberation Serif" font-weight="bold">B&#8242;</tspan><tspan font-family="Liberation Serif" font-style="italic" font-size="13.3" dy="4.2">t</tspan><tspan dy="-4.2"></tspan></text><polyline points="3576,1063.8 3576,961.2 3328.4,961.2 3328.4,979" fill="none" stroke="#000" stroke-width="2.2"/><polygon points="3328.4,987 3324.0,979 3332.8,979" fill="#000"/><text x="3547" y="983.5" font-size="19" font-family="Liberation Sans" fill="#000" text-anchor="start" font-weight="normal" font-style="normal" ><tspan font-family="Liberation Serif" font-weight="bold">B&#8243;</tspan><tspan font-family="Liberation Serif" font-style="italic" font-size="13.3" dy="4.2">t</tspan><tspan dy="-4.2"></tspan></text><polyline points="3391.3,1002.6 3496.6,1002.6 3496.6,1056" fill="none" stroke="#FF0000" stroke-width="2.2"/><polygon points="3496.6,1063.8 3492.2,1055.8 3501.0,1055.8" fill="#FF0000"/><polyline points="3391.3,1185.7 3496.6,1185.7 3496.6,1133" fill="none" stroke="#FF0000" stroke-width="2.2"/><polygon points="3496.6,1125 3492.2,1133 3501.0,1133" fill="#FF0000"/><polyline points="3220.4,1078.2 3311.6,1078.2 3311.6,1026" fill="none" stroke="#000" stroke-width="2.2"/><polygon points="3311.6,1018.4 3307.2,1026.4 3316.0,1026.4" fill="#000"/><text x="3261" y="1072" font-size="19" font-family="Liberation Sans" fill="#000" text-anchor="start" font-weight="normal" font-style="normal" ><tspan font-family="Liberation Serif" font-weight="bold">B</tspan><tspan font-family="Liberation Serif" font-style="italic" font-size="13.3" dy="4.2">t</tspan><tspan dy="-4.2"></tspan></text><polyline points="3220.4,1094 3388,1094" fill="none" stroke="#000" stroke-width="2.2"/><polygon points="3396,1094 3388,1089.6 3388,1098.4" fill="#000"/><text x="3337" y="1088.3" font-size="19" font-family="Liberation Sans" fill="#000" text-anchor="start" font-weight="normal" font-style="normal" textLength="44" lengthAdjust="spacingAndGlyphs" ><tspan font-family="Liberation Serif" font-weight="bold">B</tspan><tspan font-family="Liberation Serif" font-style="italic" font-size="13.3" dy="4.2">t</tspan><tspan dy="-4.2"></tspan><tspan font-family="Liberation Serif" font-weight="bold">, </tspan><tspan font-family="Liberation Serif" font-weight="bold">C</tspan><tspan font-family="Liberation Serif" font-style="italic" font-size="13.3" dy="4.2">t</tspan><tspan dy="-4.2"></tspan></text><polyline points="3220.4,1109.3 3311.6,1109.3 3311.6,1162" fill="none" stroke="#000" stroke-width="2.2"/><polygon points="3311.6,1170 3307.2,1162 3316.0,1162" fill="#000"/><text x="3260" y="1130.5" font-size="20" font-family="Liberation Serif" font-style="italic">r<tspan font-size="14" dy="4">t</tspan><tspan font-style="normal" font-size="14" dy="-14" dx="-4">mix</tspan></text><polyline points="3576,1125 3576,1217 3228,1217" fill="none" stroke="#000" stroke-width="2.2"/><polygon points="3220.4,1217 3228.4,1212.6 3228.4,1221.4" fill="#000"/><text x="3547" y="1209.4" font-size="19" font-family="Liberation Sans" fill="#000" text-anchor="start" font-weight="normal" font-style="normal" ><tspan font-family="Liberation Serif" font-weight="bold">B&#8243;</tspan><tspan font-family="Liberation Serif" font-style="italic" font-size="13.3" dy="4.2">t</tspan><tspan dy="-4.2"></tspan></text><text x="3324.5" y="1268" font-size="22" font-family="Liberation Sans" fill="#2C3E50" text-anchor="middle" font-weight="normal" font-style="normal" textLength="211" lengthAdjust="spacingAndGlyphs" >Exact AR2L Algorithm</text><rect x="3629" y="956.9" width="201.4000000000001" height="61.5" rx="8" fill="#DEEAF6" stroke="#41719C" stroke-width="1.6"/><text x="3729.7" y="982" font-size="19.5" font-family="Liberation Sans" fill="#000" text-anchor="middle" font-weight="normal" font-style="normal" textLength="168" lengthAdjust="spacingAndGlyphs" >Permutation-based</text><text x="3729.7" y="1006.7" font-size="19.5" font-family="Liberation Sans" fill="#000" text-anchor="middle" font-weight="normal" font-style="normal" textLength="74" lengthAdjust="spacingAndGlyphs" >Attacker</text><rect x="3629" y="1063.8" width="201.4000000000001" height="61.200000000000045" rx="8" fill="#fff" stroke="#41719C" stroke-width="1.6"/><text x="3729.7" y="1087" font-size="20" font-family="Liberation Sans" fill="#000" text-anchor="middle" font-weight="normal" font-style="normal" textLength="179" lengthAdjust="spacingAndGlyphs" >Nominal Dynamics</text><rect x="3646.7" y="1091.8" width="165.3" height="27.8" fill="#E7E6E6"/><text x="3659" y="1112" font-size="14.5" font-family="Liberation Sans" fill="#000" text-anchor="start" font-weight="normal" font-style="normal" textLength="140" lengthAdjust="spacingAndGlyphs" >Item Distribution <tspan font-family="Liberation Serif" font-style="italic">p</tspan><tspan font-family="Liberation Serif" font-style="italic" font-size="10" dy="3">b</tspan></text><rect x="3629" y="1170.7" width="201.4000000000001" height="61.0" rx="8" fill="#DEEAF6" stroke="#41719C" stroke-width="1.6"/><text x="3729.7" y="1208" font-size="20" font-family="Liberation Sans" fill="#000" text-anchor="middle" font-weight="normal" font-style="normal" textLength="122" lengthAdjust="spacingAndGlyphs" >Packing Policy</text><polyline points="3729.7,1063.8 3729.7,1026" fill="none" stroke="#000" stroke-width="2.2"/><polygon points="3729.7,1018.4 3725.2999999999997,1026.4 3734.1,1026.4" fill="#000"/><text x="3681" y="1048.3" font-size="19" font-family="Liberation Sans" fill="#000" text-anchor="start" font-weight="normal" font-style="normal" textLength="44.6" lengthAdjust="spacingAndGlyphs" ><tspan font-family="Liberation Serif" font-weight="bold">B</tspan><tspan font-family="Liberation Serif" font-style="italic" font-size="13.3" dy="4.2">t</tspan><tspan dy="-4.2"></tspan><tspan font-family="Liberation Serif" font-weight="bold">, </tspan><tspan font-family="Liberation Serif" font-weight="bold">C</tspan><tspan font-family="Liberation Serif" font-style="italic" font-size="13.3" dy="4.2">t</tspan><tspan dy="-4.2"></tspan></text><polyline points="3693.8,1170.7 3693.8,1133" fill="none" stroke="#000" stroke-width="2.2"/><polygon points="3693.8,1125 3689.4,1133 3698.2000000000003,1133" fill="#000"/><text x="3645" y="1157.7" font-size="20" font-family="Liberation Serif" font-style="italic">a<tspan font-size="14" dy="4">t</tspan><tspan font-style="normal" font-size="14" dy="-14" dx="-4">pack</tspan></text><polyline points="3729.7,1125 3729.7,1163" fill="none" stroke="#000" stroke-width="2.2"/><polygon points="3729.7,1170.7 3725.2999999999997,1162.7 3734.1,1162.7" fill="#000"/><text x="3733.8" y="1155" font-size="19" font-family="Liberation Sans" fill="#000" text-anchor="start" font-weight="normal" font-style="normal" textLength="45" lengthAdjust="spacingAndGlyphs" ><tspan font-family="Liberation Serif" font-weight="bold">B</tspan><tspan font-family="Liberation Serif" font-style="italic" font-size="13.3" dy="4.2">t</tspan><tspan dy="-4.2"></tspan><tspan font-family="Liberation Serif" font-weight="bold">, </tspan><tspan font-family="Liberation Serif" font-weight="bold">C</tspan><tspan font-family="Liberation Serif" font-style="italic" font-size="13.3" dy="4.2">t</tspan><tspan dy="-4.2"></tspan></text><rect x="4006" y="1063.8" width="201.30000000000018" height="61.200000000000045" rx="8" fill="#DEEAF6" stroke="#41719C" stroke-width="1.6"/><text x="4106.6" y="1088.3" font-size="20" font-family="Liberation Sans" fill="#000" text-anchor="middle" font-weight="normal" font-style="normal" textLength="158" lengthAdjust="spacingAndGlyphs" >Adjustable Robust</text><text x="4106.6" y="1112.8" font-size="20" font-family="Liberation Sans" fill="#000" text-anchor="middle" font-weight="normal" font-style="normal" textLength="131" lengthAdjust="spacingAndGlyphs" >Value Function</text><rect x="3875.9" y="1170" width="125.40000000000009" height="30.40000000000009" rx="0" fill="#7030A0" stroke="#7030A0" stroke-width="0"/><text x="3938.6" y="1191.5" font-size="17.5" font-family="Liberation Sans" fill="#fff" text-anchor="middle" font-weight="normal" font-style="normal" textLength="67" lengthAdjust="spacingAndGlyphs" >DRL Loss</text><polyline points="3830.4,1002 4106.6,1002 4106.6,1056" fill="none" stroke="#000" stroke-width="2.2"/><polygon points="4106.6,1063.8 4102.200000000001,1055.8 4111.0,1055.8" fill="#000"/><text x="4080.7" y="1051.6" font-size="19" font-family="Liberation Sans" fill="#000" text-anchor="start" font-weight="normal" font-style="normal" ><tspan font-family="Liberation Serif" font-weight="bold">B&#8242;</tspan><tspan font-family="Liberation Serif" font-style="italic" font-size="13.3" dy="4.2">t</tspan><tspan dy="-4.2"></tspan></text><polyline points="3830.4,1094 3998,1094" fill="none" stroke="#000" stroke-width="2.2"/><polygon points="4006,1094 3998,1089.6 3998,1098.4" fill="#000"/><text x="3901" y="1083.7" font-size="19" font-family="Liberation Serif" font-weight="bold">B<tspan font-style="italic" font-weight="normal" font-size="13" dy="4">t</tspan><tspan dy="-4">, C</tspan><tspan font-style="italic" font-weight="normal" font-size="13" dy="4">t</tspan><tspan dy="-4" font-weight="normal">, </tspan><tspan font-style="italic" font-weight="normal">r</tspan><tspan font-style="italic" font-weight="normal" font-size="13" dy="4">t</tspan><tspan font-weight="normal" font-size="14" dy="-15" dx="-3">pack</tspan></text><polyline points="4106.6,1125 4106.6,1185 4009,1185" fill="none" stroke="#000" stroke-width="2.2"/><polygon points="4001.3,1185 4009.3,1180.6 4009.3,1189.4" fill="#000"/><polyline points="3875.9,1185 3838,1185" fill="none" stroke="#FF0000" stroke-width="2.2"/><polygon points="3830.4,1185 3838.4,1180.6 3838.4,1189.4" fill="#FF0000"/><text x="4018" y="1205.3" font-size="20" font-family="Liberation Serif" font-style="italic">V<tspan font-size="14" dy="-8">&#960;</tspan><tspan dy="8" font-style="normal">(</tspan><tspan font-weight="bold" font-style="normal">B</tspan><tspan font-size="14" dy="4">t</tspan><tspan dy="-4" font-style="normal">, </tspan><tspan font-weight="bold" font-style="normal">C</tspan><tspan font-size="14" dy="4">t</tspan><tspan dy="-4" font-style="normal">)</tspan></text><rect x="3931" y="957.7" width="277" height="24.5" rx="0" fill="none" stroke="#000" stroke-width="1.3" stroke-dasharray="4 2.5"/><polyline points="3938,970 3964,970" fill="none" stroke="#FF0000" stroke-width="1.8"/><polygon points="3971,970 3964,966.15 3964,973.85" fill="#FF0000"/><text x="3977" y="974.8" font-size="14" font-family="Liberation Sans" fill="#000" text-anchor="start" font-weight="normal" font-style="normal" textLength="93" lengthAdjust="spacingAndGlyphs" >Gradient Flow</text><polyline points="4094,970 4120,970" fill="none" stroke="#000" stroke-width="1.8"/><polygon points="4127,970 4120,966.15 4120,973.85" fill="#000"/><text x="4132" y="974.8" font-size="14" font-family="Liberation Sans" fill="#000" text-anchor="start" font-weight="normal" font-style="normal" textLength="67" lengthAdjust="spacingAndGlyphs" >Data Flow</text><text x="3914" y="1268" font-size="22" font-family="Liberation Sans" fill="#2C3E50" text-anchor="middle" font-weight="normal" font-style="normal" textLength="279" lengthAdjust="spacingAndGlyphs" >Approximate AR2L Algorithm</text></svg>
<svg style="left:2990px;top:1350px" width="1300" height="1200" viewBox="2990 1350 1300 1200"><rect x="3010" y="1370.20" width="1253.0" height="3.2" fill="#000"/><text x="3080" y="1419.3" font-size="28.5" font-family="Liberation Serif" font-weight="normal" font-style="normal" text-anchor="middle" >Methods</text><text x="3262" y="1404" font-size="28.5" font-family="Liberation Serif" font-weight="normal" font-style="normal" text-anchor="middle" textLength="95.5" lengthAdjust="spacingAndGlyphs" ><tspan font-style="italic">N</tspan><tspan font-style="italic" font-size="20.5" dy="5">B</tspan><tspan dy="-5"> = 5</tspan></text><text x="3484.5" y="1404" font-size="28.5" font-family="Liberation Serif" font-weight="normal" font-style="normal" text-anchor="middle" textLength="111.7" lengthAdjust="spacingAndGlyphs" ><tspan font-style="italic">N</tspan><tspan font-style="italic" font-size="20.5" dy="5">B</tspan><tspan dy="-5"> = 10</tspan></text><text x="3707" y="1404" font-size="28.5" font-family="Liberation Serif" font-weight="normal" font-style="normal" text-anchor="middle" textLength="111.7" lengthAdjust="spacingAndGlyphs" ><tspan font-style="italic">N</tspan><tspan font-style="italic" font-size="20.5" dy="5">B</tspan><tspan dy="-5"> = 15</tspan></text><text x="3929.6" y="1404" font-size="28.5" font-family="Liberation Serif" font-weight="normal" font-style="normal" text-anchor="middle" textLength="111.7" lengthAdjust="spacingAndGlyphs" ><tspan font-style="italic">N</tspan><tspan font-style="italic" font-size="20.5" dy="5">B</tspan><tspan dy="-5"> = 20</tspan></text><text x="4152" y="1404" font-size="28.5" font-family="Liberation Serif" font-weight="normal" font-style="normal" text-anchor="middle" textLength="119" lengthAdjust="spacingAndGlyphs" >w/o attack</text><rect x="3150" y="1417.90" width="206.6" height="1.6" fill="#555"/><rect x="3372.9" y="1417.90" width="206.1" height="1.6" fill="#555"/><rect x="3595.5" y="1417.90" width="206.3" height="1.6" fill="#555"/><rect x="3818" y="1417.90" width="206.0" height="1.6" fill="#555"/><rect x="4041" y="1417.90" width="206.3" height="1.6" fill="#555"/><text x="3153.0" y="1450" font-size="24" font-family="Liberation Serif" font-weight="normal" font-style="italic" text-anchor="start" textLength="85" lengthAdjust="spacingAndGlyphs" >Uti.(%)</text><text x="3248.0" y="1450" font-size="24" font-family="Liberation Serif" font-weight="normal" font-style="italic" text-anchor="start" textLength="45" lengthAdjust="spacingAndGlyphs" >Std.</text><text x="3303.0" y="1450" font-size="24" font-family="Liberation Serif" font-weight="normal" font-style="italic" text-anchor="start" textLength="66" lengthAdjust="spacingAndGlyphs" >Num.</text><text x="3375.6" y="1450" font-size="24" font-family="Liberation Serif" font-weight="normal" font-style="italic" text-anchor="start" textLength="85" lengthAdjust="spacingAndGlyphs" >Uti.(%)</text><text x="3470.6" y="1450" font-size="24" font-family="Liberation Serif" font-weight="normal" font-style="italic" text-anchor="start" textLength="45" lengthAdjust="spacingAndGlyphs" >Std.</text><text x="3525.6" y="1450" font-size="24" font-family="Liberation Serif" font-weight="normal" font-style="italic" text-anchor="start" textLength="66" lengthAdjust="spacingAndGlyphs" >Num.</text><text x="3598.2" y="1450" font-size="24" font-family="Liberation Serif" font-weight="normal" font-style="italic" text-anchor="start" textLength="85" lengthAdjust="spacingAndGlyphs" >Uti.(%)</text><text x="3693.2" y="1450" font-size="24" font-family="Liberation Serif" font-weight="normal" font-style="italic" text-anchor="start" textLength="45" lengthAdjust="spacingAndGlyphs" >Std.</text><text x="3748.2" y="1450" font-size="24" font-family="Liberation Serif" font-weight="normal" font-style="italic" text-anchor="start" textLength="66" lengthAdjust="spacingAndGlyphs" >Num.</text><text x="3820.8" y="1450" font-size="24" font-family="Liberation Serif" font-weight="normal" font-style="italic" text-anchor="start" textLength="85" lengthAdjust="spacingAndGlyphs" >Uti.(%)</text><text x="3915.8" y="1450" font-size="24" font-family="Liberation Serif" font-weight="normal" font-style="italic" text-anchor="start" textLength="45" lengthAdjust="spacingAndGlyphs" >Std.</text><text x="3970.8" y="1450" font-size="24" font-family="Liberation Serif" font-weight="normal" font-style="italic" text-anchor="start" textLength="66" lengthAdjust="spacingAndGlyphs" >Num.</text><text x="4043.4" y="1450" font-size="24" font-family="Liberation Serif" font-weight="normal" font-style="italic" text-anchor="start" textLength="85" lengthAdjust="spacingAndGlyphs" >Uti.(%)</text><text x="4138.4" y="1450" font-size="24" font-family="Liberation Serif" font-weight="normal" font-style="italic" text-anchor="start" textLength="45" lengthAdjust="spacingAndGlyphs" >Std.</text><text x="4193.4" y="1450" font-size="24" font-family="Liberation Serif" font-weight="normal" font-style="italic" text-anchor="start" textLength="66" lengthAdjust="spacingAndGlyphs" >Num.</text><rect x="3010" y="1463.60" width="1253.0" height="2" fill="#000"/><text x="3080" y="1494.3" font-size="28.5" font-family="Liberation Serif" font-weight="normal" font-style="normal" text-anchor="middle" >DBL</text><text x="3196.0" y="1494.3" font-size="28.5" font-family="Liberation Serif" font-weight="normal" font-style="normal" text-anchor="middle" >40.4</text><text x="3271.0" y="1494.3" font-size="28.5" font-family="Liberation Serif" font-weight="normal" font-style="normal" text-anchor="middle" >14.3</text><text x="3335.8" y="1494.3" font-size="28.5" font-family="Liberation Serif" font-weight="normal" font-style="normal" text-anchor="middle" >18.4</text><text x="3418.6" y="1494.3" font-size="28.5" font-family="Liberation Serif" font-weight="normal" font-style="normal" text-anchor="middle" >28.5</text><text x="3493.6" y="1494.3" font-size="28.5" font-family="Liberation Serif" font-weight="normal" font-style="normal" text-anchor="middle" >16.1</text><text x="3558.4" y="1494.3" font-size="28.5" font-family="Liberation Serif" font-weight="normal" font-style="normal" text-anchor="middle" >13.9</text><text x="3641.2" y="1494.3" font-size="28.5" font-family="Liberation Serif" font-weight="normal" font-style="normal" text-anchor="middle" >26.0</text><text x="3716.2" y="1494.3" font-size="28.5" font-family="Liberation Serif" font-weight="normal" font-style="normal" text-anchor="middle" >14.9</text><text x="3781.0" y="1494.3" font-size="28.5" font-family="Liberation Serif" font-weight="normal" font-style="normal" text-anchor="middle" >14.9</text><text x="3863.8" y="1494.3" font-size="28.5" font-family="Liberation Serif" font-weight="normal" font-style="normal" text-anchor="middle" >21.3</text><text x="3938.8" y="1494.3" font-size="28.5" font-family="Liberation Serif" font-weight="normal" font-style="normal" text-anchor="middle" >12.6</text><text x="4003.6" y="1494.3" font-size="28.5" font-family="Liberation Serif" font-weight="normal" font-style="normal" text-anchor="middle" >8.5</text><text x="4086.4" y="1494.3" font-size="28.5" font-family="Liberation Serif" font-weight="normal" font-style="normal" text-anchor="middle" >63.6</text><text x="4161.4" y="1494.3" font-size="28.5" font-family="Liberation Serif" font-weight="normal" font-style="normal" text-anchor="middle" >11.9</text><text x="4226.2" y="1494.3" font-size="28.5" font-family="Liberation Serif" font-weight="normal" font-style="normal" text-anchor="middle" >25.8</text><text x="3080" y="1523.1599999999999" font-size="28.5" font-family="Liberation Serif" font-weight="normal" font-style="normal" text-anchor="middle" >BMF</text><text x="3196.0" y="1523.2" font-size="28.5" font-family="Liberation Serif" font-weight="normal" font-style="normal" text-anchor="middle" >46.9</text><text x="3271.0" y="1523.2" font-size="28.5" font-family="Liberation Serif" font-weight="normal" font-style="normal" text-anchor="middle" >11.5</text><text x="3335.8" y="1523.2" font-size="28.5" font-family="Liberation Serif" font-weight="normal" font-style="normal" text-anchor="middle" >21.0</text><text x="3418.6" y="1523.2" font-size="28.5" font-family="Liberation Serif" font-weight="normal" font-style="normal" text-anchor="middle" >40.9</text><text x="3493.6" y="1523.2" font-size="28.5" font-family="Liberation Serif" font-weight="normal" font-style="normal" text-anchor="middle" >12.2</text><text x="3558.4" y="1523.2" font-size="28.5" font-family="Liberation Serif" font-weight="normal" font-style="normal" text-anchor="middle" >22.2</text><text x="3641.2" y="1523.2" font-size="28.5" font-family="Liberation Serif" font-weight="normal" font-style="normal" text-anchor="middle" >38.6</text><text x="3716.2" y="1523.2" font-size="28.5" font-family="Liberation Serif" font-weight="normal" font-style="normal" text-anchor="middle" >12.9</text><text x="3781.0" y="1523.2" font-size="28.5" font-family="Liberation Serif" font-weight="normal" font-style="normal" text-anchor="middle" >21.1</text><text x="3863.8" y="1523.2" font-size="28.5" font-family="Liberation Serif" font-weight="normal" font-style="normal" text-anchor="middle" >33.7</text><text x="3938.8" y="1523.2" font-size="28.5" font-family="Liberation Serif" font-weight="normal" font-style="normal" text-anchor="middle" >11.9</text><text x="4003.6" y="1523.2" font-size="28.5" font-family="Liberation Serif" font-weight="normal" font-style="normal" text-anchor="middle" >22.1</text><text x="4086.4" y="1523.2" font-size="28.5" font-family="Liberation Serif" font-weight="normal" font-style="normal" text-anchor="middle" >62.0</text><text x="4161.4" y="1523.2" font-size="28.5" font-family="Liberation Serif" font-weight="normal" font-style="normal" text-anchor="middle" >9.2</text><text x="4226.2" y="1523.2" font-size="28.5" font-family="Liberation Serif" font-weight="normal" font-style="normal" text-anchor="middle" >24.8</text><text x="3080" y="1552.02" font-size="28.5" font-family="Liberation Serif" font-weight="normal" font-style="normal" text-anchor="middle" >LSAH</text><text x="3196.0" y="1552.0" font-size="28.5" font-family="Liberation Serif" font-weight="normal" font-style="normal" text-anchor="middle" >46.0</text><text x="3271.0" y="1552.0" font-size="28.5" font-family="Liberation Serif" font-weight="normal" font-style="normal" text-anchor="middle" >10.1</text><text x="3335.8" y="1552.0" font-size="28.5" font-family="Liberation Serif" font-weight="normal" font-style="normal" text-anchor="middle" >20.3</text><text x="3418.6" y="1552.0" font-size="28.5" font-family="Liberation Serif" font-weight="normal" font-style="normal" text-anchor="middle" >42.2</text><text x="3493.6" y="1552.0" font-size="28.5" font-family="Liberation Serif" font-weight="normal" font-style="normal" text-anchor="middle" >11.3</text><text x="3558.4" y="1552.0" font-size="28.5" font-family="Liberation Serif" font-weight="normal" font-style="normal" text-anchor="middle" >20.9</text><text x="3641.2" y="1552.0" font-size="28.5" font-family="Liberation Serif" font-weight="normal" font-style="normal" text-anchor="middle" >38.6</text><text x="3716.2" y="1552.0" font-size="28.5" font-family="Liberation Serif" font-weight="normal" font-style="normal" text-anchor="middle" >11.0</text><text x="3781.0" y="1552.0" font-size="28.5" font-family="Liberation Serif" font-weight="normal" font-style="normal" text-anchor="middle" >19.4</text><text x="3863.8" y="1552.0" font-size="28.5" font-family="Liberation Serif" font-weight="normal" font-style="normal" text-anchor="middle" >35.6</text><text x="3938.8" y="1552.0" font-size="28.5" font-family="Liberation Serif" font-weight="normal" font-style="normal" text-anchor="middle" >11.8</text><text x="4003.6" y="1552.0" font-size="28.5" font-family="Liberation Serif" font-weight="normal" font-style="normal" text-anchor="middle" >21.3</text><text x="4086.4" y="1552.0" font-size="28.5" font-family="Liberation Serif" font-weight="normal" font-style="normal" text-anchor="middle" >60.9</text><text x="4161.4" y="1552.0" font-size="28.5" font-family="Liberation Serif" font-weight="normal" font-style="normal" text-anchor="middle" >10.9</text><text x="4226.2" y="1552.0" font-size="28.5" font-family="Liberation Serif" font-weight="normal" font-style="normal" text-anchor="middle" >24.6</text><text x="3080" y="1580.8799999999999" font-size="28.5" font-family="Liberation Serif" font-weight="normal" font-style="normal" text-anchor="middle" >OnlineBPH</text><text x="3196.0" y="1580.9" font-size="28.5" font-family="Liberation Serif" font-weight="normal" font-style="normal" text-anchor="middle" >47.1</text><text x="3271.0" y="1580.9" font-size="28.5" font-family="Liberation Serif" font-weight="normal" font-style="normal" text-anchor="middle" >21.0</text><text x="3335.8" y="1580.9" font-size="28.5" font-family="Liberation Serif" font-weight="normal" font-style="normal" text-anchor="middle" >19.8</text><text x="3418.6" y="1580.9" font-size="28.5" font-family="Liberation Serif" font-weight="normal" font-style="normal" text-anchor="middle" >44.0</text><text x="3493.6" y="1580.9" font-size="28.5" font-family="Liberation Serif" font-weight="normal" font-style="normal" text-anchor="middle" >18.9</text><text x="3558.4" y="1580.9" font-size="28.5" font-family="Liberation Serif" font-weight="normal" font-style="normal" text-anchor="middle" >22.8</text><text x="3641.2" y="1580.9" font-size="28.5" font-family="Liberation Serif" font-weight="normal" font-style="normal" text-anchor="middle" >29.8</text><text x="3716.2" y="1580.9" font-size="28.5" font-family="Liberation Serif" font-weight="normal" font-style="normal" text-anchor="middle" >18.5</text><text x="3781.0" y="1580.9" font-size="28.5" font-family="Liberation Serif" font-weight="normal" font-style="normal" text-anchor="middle" >14.6</text><text x="3863.8" y="1580.9" font-size="28.5" font-family="Liberation Serif" font-weight="normal" font-style="normal" text-anchor="middle" >22.4</text><text x="3938.8" y="1580.9" font-size="28.5" font-family="Liberation Serif" font-weight="normal" font-style="normal" text-anchor="middle" >12.7</text><text x="4003.6" y="1580.9" font-size="28.5" font-family="Liberation Serif" font-weight="normal" font-style="normal" text-anchor="middle" >14.1</text><text x="4086.4" y="1580.9" font-size="28.5" font-family="Liberation Serif" font-weight="normal" font-style="normal" text-anchor="middle" >64.1</text><text x="4161.4" y="1580.9" font-size="28.5" font-family="Liberation Serif" font-weight="normal" font-style="normal" text-anchor="middle" >8.9</text><text x="4226.2" y="1580.9" font-size="28.5" font-family="Liberation Serif" font-weight="normal" font-style="normal" text-anchor="middle" >25.8</text><text x="3080" y="1609.74" font-size="28.5" font-family="Liberation Serif" font-weight="normal" font-style="normal" text-anchor="middle" >HMM</text><text x="3196.0" y="1609.7" font-size="28.5" font-family="Liberation Serif" font-weight="normal" font-style="normal" text-anchor="middle" >49.1</text><text x="3271.0" y="1609.7" font-size="28.5" font-family="Liberation Serif" font-weight="normal" font-style="normal" text-anchor="middle" >11.1</text><text x="3335.8" y="1609.7" font-size="28.5" font-family="Liberation Serif" font-weight="normal" font-style="normal" text-anchor="middle" >22.5</text><text x="3418.6" y="1609.7" font-size="28.5" font-family="Liberation Serif" font-weight="normal" font-style="normal" text-anchor="middle" >46.5</text><text x="3493.6" y="1609.7" font-size="28.5" font-family="Liberation Serif" font-weight="normal" font-style="normal" text-anchor="middle" >13.8</text><text x="3558.4" y="1609.7" font-size="28.5" font-family="Liberation Serif" font-weight="normal" font-style="normal" text-anchor="middle" >22.5</text><text x="3641.2" y="1609.7" font-size="28.5" font-family="Liberation Serif" font-weight="normal" font-style="normal" text-anchor="middle" >43.4</text><text x="3716.2" y="1609.7" font-size="28.5" font-family="Liberation Serif" font-weight="normal" font-style="normal" text-anchor="middle" >13.0</text><text x="3781.0" y="1609.7" font-size="28.5" font-family="Liberation Serif" font-weight="normal" font-style="normal" text-anchor="middle" >21.4</text><text x="3863.8" y="1609.7" font-size="28.5" font-family="Liberation Serif" font-weight="normal" font-style="normal" text-anchor="middle" >40.4</text><text x="3938.8" y="1609.7" font-size="28.5" font-family="Liberation Serif" font-weight="normal" font-style="normal" text-anchor="middle" >10.0</text><text x="4003.6" y="1609.7" font-size="28.5" font-family="Liberation Serif" font-weight="normal" font-style="normal" text-anchor="middle" >24.1</text><text x="4086.4" y="1609.7" font-size="28.5" font-family="Liberation Serif" font-weight="normal" font-style="normal" text-anchor="middle" >56.1</text><text x="4161.4" y="1609.7" font-size="28.5" font-family="Liberation Serif" font-weight="normal" font-style="normal" text-anchor="middle" >10.4</text><text x="4226.2" y="1609.7" font-size="28.5" font-family="Liberation Serif" font-weight="normal" font-style="normal" text-anchor="middle" >22.6</text><text x="3080" y="1638.6" font-size="28.5" font-family="Liberation Serif" font-weight="normal" font-style="normal" text-anchor="middle" >MACS</text><text x="3196.0" y="1638.6" font-size="28.5" font-family="Liberation Serif" font-weight="normal" font-style="normal" text-anchor="middle" >43.0</text><text x="3271.0" y="1638.6" font-size="28.5" font-family="Liberation Serif" font-weight="normal" font-style="normal" text-anchor="middle" >9.7</text><text x="3335.8" y="1638.6" font-size="28.5" font-family="Liberation Serif" font-weight="normal" font-style="normal" text-anchor="middle" >21.9</text><text x="3418.6" y="1638.6" font-size="28.5" font-family="Liberation Serif" font-weight="normal" font-style="normal" text-anchor="middle" >40.8</text><text x="3493.6" y="1638.6" font-size="28.5" font-family="Liberation Serif" font-weight="normal" font-style="normal" text-anchor="middle" >9.0</text><text x="3558.4" y="1638.6" font-size="28.5" font-family="Liberation Serif" font-weight="normal" font-style="normal" text-anchor="middle" >24.8</text><text x="3641.2" y="1638.6" font-size="28.5" font-family="Liberation Serif" font-weight="normal" font-style="normal" text-anchor="middle" >39.0</text><text x="3716.2" y="1638.6" font-size="28.5" font-family="Liberation Serif" font-weight="normal" font-style="normal" text-anchor="middle" >9.8</text><text x="3781.0" y="1638.6" font-size="28.5" font-family="Liberation Serif" font-weight="normal" font-style="normal" text-anchor="middle" >23.7</text><text x="3863.8" y="1638.6" font-size="28.5" font-family="Liberation Serif" font-weight="normal" font-style="normal" text-anchor="middle" >38.3</text><text x="3938.8" y="1638.6" font-size="28.5" font-family="Liberation Serif" font-weight="normal" font-style="normal" text-anchor="middle" >9.0</text><text x="4003.6" y="1638.6" font-size="28.5" font-family="Liberation Serif" font-weight="normal" font-style="normal" text-anchor="middle" >27.0</text><text x="4086.4" y="1638.6" font-size="28.5" font-family="Liberation Serif" font-weight="normal" font-style="normal" text-anchor="middle" >53.0</text><text x="4161.4" y="1638.6" font-size="28.5" font-family="Liberation Serif" font-weight="normal" font-style="normal" text-anchor="middle" >10.8</text><text x="4226.2" y="1638.6" font-size="28.5" font-family="Liberation Serif" font-weight="normal" font-style="normal" text-anchor="middle" >21.5</text><text x="3080" y="1667.46" font-size="28.5" font-family="Liberation Serif" font-weight="normal" font-style="normal" text-anchor="middle" >CDRL</text><text x="3196.0" y="1667.5" font-size="28.5" font-family="Liberation Serif" font-weight="normal" font-style="normal" text-anchor="middle" >61.5</text><text x="3271.0" y="1667.5" font-size="28.5" font-family="Liberation Serif" font-weight="normal" font-style="normal" text-anchor="middle" >7.8</text><text x="3335.8" y="1667.5" font-size="28.5" font-family="Liberation Serif" font-weight="normal" font-style="normal" text-anchor="middle" >27.9</text><text x="3418.6" y="1667.5" font-size="28.5" font-family="Liberation Serif" font-weight="normal" font-style="normal" text-anchor="middle" >56.1</text><text x="3493.6" y="1667.5" font-size="28.5" font-family="Liberation Serif" font-weight="normal" font-style="normal" text-anchor="middle" >6.9</text><text x="3558.4" y="1667.5" font-size="28.5" font-family="Liberation Serif" font-weight="normal" font-style="normal" text-anchor="middle" >28.7</text><text x="3641.2" y="1667.5" font-size="28.5" font-family="Liberation Serif" font-weight="bold" font-style="normal" text-anchor="middle" >54.6</text><text x="3716.2" y="1667.5" font-size="28.5" font-family="Liberation Serif" font-weight="normal" font-style="normal" text-anchor="middle" >7.6</text><text x="3781.0" y="1667.5" font-size="28.5" font-family="Liberation Serif" font-weight="normal" font-style="normal" text-anchor="middle" >31.3</text><text x="3863.8" y="1667.5" font-size="28.5" font-family="Liberation Serif" font-weight="bold" font-style="normal" text-anchor="middle" >51.0</text><text x="3938.8" y="1667.5" font-size="28.5" font-family="Liberation Serif" font-weight="normal" font-style="normal" text-anchor="middle" >7.1</text><text x="4003.6" y="1667.5" font-size="28.5" font-family="Liberation Serif" font-weight="normal" font-style="normal" text-anchor="middle" >29.9</text><text x="4086.4" y="1667.5" font-size="28.5" font-family="Liberation Serif" font-weight="normal" font-style="normal" text-anchor="middle" >74.1</text><text x="4161.4" y="1667.5" font-size="28.5" font-family="Liberation Serif" font-weight="normal" font-style="normal" text-anchor="middle" >7.3</text><text x="4226.2" y="1667.5" font-size="28.5" font-family="Liberation Serif" font-weight="normal" font-style="normal" text-anchor="middle" >29.1</text><text x="3080" y="1696.32" font-size="28.5" font-family="Liberation Serif" font-weight="normal" font-style="normal" text-anchor="middle" >PCT</text><text x="3196.0" y="1696.3" font-size="28.5" font-family="Liberation Serif" font-weight="bold" font-style="normal" text-anchor="middle" >63.6</text><text x="3271.0" y="1696.3" font-size="28.5" font-family="Liberation Serif" font-weight="normal" font-style="normal" text-anchor="middle" >9.9</text><text x="3335.8" y="1696.3" font-size="28.5" font-family="Liberation Serif" font-weight="normal" font-style="normal" text-anchor="middle" >27.3</text><text x="3418.6" y="1696.3" font-size="28.5" font-family="Liberation Serif" font-weight="bold" font-style="normal" text-anchor="middle" >58.7</text><text x="3493.6" y="1696.3" font-size="28.5" font-family="Liberation Serif" font-weight="normal" font-style="normal" text-anchor="middle" >11.3</text><text x="3558.4" y="1696.3" font-size="28.5" font-family="Liberation Serif" font-weight="normal" font-style="normal" text-anchor="middle" >25.8</text><text x="3641.2" y="1696.3" font-size="28.5" font-family="Liberation Serif" font-weight="normal" font-style="normal" text-anchor="middle" >50.9</text><text x="3716.2" y="1696.3" font-size="28.5" font-family="Liberation Serif" font-weight="normal" font-style="normal" text-anchor="middle" >13.1</text><text x="3781.0" y="1696.3" font-size="28.5" font-family="Liberation Serif" font-weight="normal" font-style="normal" text-anchor="middle" >25.6</text><text x="3863.8" y="1696.3" font-size="28.5" font-family="Liberation Serif" font-weight="normal" font-style="normal" text-anchor="middle" >40.5</text><text x="3938.8" y="1696.3" font-size="28.5" font-family="Liberation Serif" font-weight="normal" font-style="normal" text-anchor="middle" >15.3</text><text x="4003.6" y="1696.3" font-size="28.5" font-family="Liberation Serif" font-weight="normal" font-style="normal" text-anchor="middle" >21.8</text><text x="4086.4" y="1696.3" font-size="28.5" font-family="Liberation Serif" font-weight="bold" font-style="normal" text-anchor="middle" >76.6</text><text x="4161.4" y="1696.3" font-size="28.5" font-family="Liberation Serif" font-weight="normal" font-style="normal" text-anchor="middle" >6.0</text><text x="4226.2" y="1696.3" font-size="28.5" font-family="Liberation Serif" font-weight="normal" font-style="normal" text-anchor="middle" >30.0</text><rect x="3010" y="1711.40" width="1253.0" height="3.2" fill="#000"/><rect x="3011.8" y="1825.20" width="1251.9" height="3" fill="#000"/><text x="3124.9" y="1865" font-size="22" font-family="Liberation Serif" font-weight="normal" font-style="normal" text-anchor="middle" >Methods</text><text x="3317" y="1853.3" font-size="22" font-family="Liberation Serif" font-weight="normal" font-style="normal" text-anchor="middle" textLength="62" lengthAdjust="spacingAndGlyphs" ><tspan font-style="italic">&#946;</tspan> = 0</text><text x="3527.6" y="1853.3" font-size="22" font-family="Liberation Serif" font-weight="normal" font-style="normal" text-anchor="middle" textLength="73" lengthAdjust="spacingAndGlyphs" ><tspan font-style="italic">&#946;</tspan> = 25</text><text x="3738" y="1853.3" font-size="22" font-family="Liberation Serif" font-weight="normal" font-style="normal" text-anchor="middle" textLength="74.6" lengthAdjust="spacingAndGlyphs" ><tspan font-style="italic">&#946;</tspan> = 50</text><text x="3948" y="1853.3" font-size="22" font-family="Liberation Serif" font-weight="normal" font-style="normal" text-anchor="middle" textLength="74.4" lengthAdjust="spacingAndGlyphs" ><tspan font-style="italic">&#946;</tspan> = 75</text><text x="4158.8" y="1853.3" font-size="22" font-family="Liberation Serif" font-weight="normal" font-style="normal" text-anchor="middle" textLength="87.8" lengthAdjust="spacingAndGlyphs" ><tspan font-style="italic">&#946;</tspan> = 100</text><rect x="3212.4" y="1866.60" width="193.9" height="1.4" fill="#555"/><rect x="3423" y="1866.60" width="193.5" height="1.4" fill="#555"/><rect x="3632.7" y="1866.60" width="194.1" height="1.4" fill="#555"/><rect x="3843.5" y="1866.60" width="194.0" height="1.4" fill="#555"/><rect x="4053.9" y="1866.60" width="193.4" height="1.4" fill="#555"/><text x="3216.6" y="1892.6" font-size="19" font-family="Liberation Serif" font-weight="normal" font-style="italic" text-anchor="start" textLength="78" lengthAdjust="spacingAndGlyphs" >Uti.(%)</text><text x="3305.9" y="1892.6" font-size="19" font-family="Liberation Serif" font-weight="normal" font-style="italic" text-anchor="start" textLength="41" lengthAdjust="spacingAndGlyphs" >Std.</text><text x="3357.8" y="1892.6" font-size="19" font-family="Liberation Serif" font-weight="normal" font-style="italic" text-anchor="start" textLength="59.5" lengthAdjust="spacingAndGlyphs" >Num.</text><text x="3426.9" y="1892.6" font-size="19" font-family="Liberation Serif" font-weight="normal" font-style="italic" text-anchor="start" textLength="78" lengthAdjust="spacingAndGlyphs" >Uti.(%)</text><text x="3516.2000000000003" y="1892.6" font-size="19" font-family="Liberation Serif" font-weight="normal" font-style="italic" text-anchor="start" textLength="41" lengthAdjust="spacingAndGlyphs" >Std.</text><text x="3568.1000000000004" y="1892.6" font-size="19" font-family="Liberation Serif" font-weight="normal" font-style="italic" text-anchor="start" textLength="59.5" lengthAdjust="spacingAndGlyphs" >Num.</text><text x="3637.2" y="1892.6" font-size="19" font-family="Liberation Serif" font-weight="normal" font-style="italic" text-anchor="start" textLength="78" lengthAdjust="spacingAndGlyphs" >Uti.(%)</text><text x="3726.5" y="1892.6" font-size="19" font-family="Liberation Serif" font-weight="normal" font-style="italic" text-anchor="start" textLength="41" lengthAdjust="spacingAndGlyphs" >Std.</text><text x="3778.4" y="1892.6" font-size="19" font-family="Liberation Serif" font-weight="normal" font-style="italic" text-anchor="start" textLength="59.5" lengthAdjust="spacingAndGlyphs" >Num.</text><text x="3847.5" y="1892.6" font-size="19" font-family="Liberation Serif" font-weight="normal" font-style="italic" text-anchor="start" textLength="78" lengthAdjust="spacingAndGlyphs" >Uti.(%)</text><text x="3936.8" y="1892.6" font-size="19" font-family="Liberation Serif" font-weight="normal" font-style="italic" text-anchor="start" textLength="41" lengthAdjust="spacingAndGlyphs" >Std.</text><text x="3988.7000000000003" y="1892.6" font-size="19" font-family="Liberation Serif" font-weight="normal" font-style="italic" text-anchor="start" textLength="59.5" lengthAdjust="spacingAndGlyphs" >Num.</text><text x="4057.8" y="1892.6" font-size="19" font-family="Liberation Serif" font-weight="normal" font-style="italic" text-anchor="start" textLength="78" lengthAdjust="spacingAndGlyphs" >Uti.(%)</text><text x="4147.1" y="1892.6" font-size="19" font-family="Liberation Serif" font-weight="normal" font-style="italic" text-anchor="start" textLength="41" lengthAdjust="spacingAndGlyphs" >Std.</text><text x="4199.0" y="1892.6" font-size="19" font-family="Liberation Serif" font-weight="normal" font-style="italic" text-anchor="start" textLength="59.5" lengthAdjust="spacingAndGlyphs" >Num.</text><rect x="3011.8" y="1906.20" width="1251.9" height="2" fill="#000"/><text x="3124.9" y="1933.3" font-size="22" font-family="Liberation Serif" font-weight="normal" font-style="normal" text-anchor="middle" >PCT</text><text x="3256.0" y="1933.3" font-size="22" font-family="Liberation Serif" font-weight="normal" font-style="normal" text-anchor="middle" >76.2</text><text x="3325.5" y="1933.3" font-size="22" font-family="Liberation Serif" font-weight="normal" font-style="normal" text-anchor="middle" >6.8</text><text x="3387.0" y="1933.3" font-size="22" font-family="Liberation Serif" font-weight="normal" font-style="normal" text-anchor="middle" >29.9</text><text x="3466.2" y="1933.3" font-size="22" font-family="Liberation Serif" font-weight="normal" font-style="normal" text-anchor="middle" >73.6</text><text x="3535.9" y="1933.3" font-size="22" font-family="Liberation Serif" font-weight="normal" font-style="normal" text-anchor="middle" >7.9</text><text x="3597.2" y="1933.3" font-size="22" font-family="Liberation Serif" font-weight="normal" font-style="normal" text-anchor="middle" >29.9</text><text x="3676.5" y="1933.3" font-size="22" font-family="Liberation Serif" font-weight="normal" font-style="normal" text-anchor="middle" >70.6</text><text x="3746.3" y="1933.3" font-size="22" font-family="Liberation Serif" font-weight="normal" font-style="normal" text-anchor="middle" >9.2</text><text x="3807.5" y="1933.3" font-size="22" font-family="Liberation Serif" font-weight="normal" font-style="normal" text-anchor="middle" >28.5</text><text x="3886.8" y="1933.3" font-size="22" font-family="Liberation Serif" font-weight="normal" font-style="normal" text-anchor="middle" >67.5</text><text x="3956.7" y="1933.3" font-size="22" font-family="Liberation Serif" font-weight="normal" font-style="normal" text-anchor="middle" >9.1</text><text x="4017.8" y="1933.3" font-size="22" font-family="Liberation Serif" font-weight="normal" font-style="normal" text-anchor="middle" >27.8</text><text x="4097.0" y="1933.3" font-size="22" font-family="Liberation Serif" font-weight="normal" font-style="normal" text-anchor="middle" >64.9</text><text x="4167.1" y="1933.3" font-size="22" font-family="Liberation Serif" font-weight="normal" font-style="normal" text-anchor="middle" >8.2</text><text x="4228.0" y="1933.3" font-size="22" font-family="Liberation Serif" font-weight="normal" font-style="normal" text-anchor="middle" >27.1</text><text x="3124.9" y="1956.2" font-size="22" font-family="Liberation Serif" font-weight="normal" font-style="normal" text-anchor="middle" >CPPO</text><text x="3256.0" y="1956.2" font-size="22" font-family="Liberation Serif" font-weight="normal" font-style="normal" text-anchor="middle" >75.5</text><text x="3325.5" y="1956.2" font-size="22" font-family="Liberation Serif" font-weight="normal" font-style="normal" text-anchor="middle" >6.9</text><text x="3387.0" y="1956.2" font-size="22" font-family="Liberation Serif" font-weight="normal" font-style="normal" text-anchor="middle" >29.6</text><text x="3466.2" y="1956.2" font-size="22" font-family="Liberation Serif" font-weight="normal" font-style="normal" text-anchor="middle" >73.1</text><text x="3535.9" y="1956.2" font-size="22" font-family="Liberation Serif" font-weight="normal" font-style="normal" text-anchor="middle" >8.0</text><text x="3597.2" y="1956.2" font-size="22" font-family="Liberation Serif" font-weight="normal" font-style="normal" text-anchor="middle" >29.0</text><text x="3676.5" y="1956.2" font-size="22" font-family="Liberation Serif" font-weight="normal" font-style="normal" text-anchor="middle" >70.7</text><text x="3746.3" y="1956.2" font-size="22" font-family="Liberation Serif" font-weight="normal" font-style="normal" text-anchor="middle" >8.4</text><text x="3807.5" y="1956.2" font-size="22" font-family="Liberation Serif" font-weight="normal" font-style="normal" text-anchor="middle" >28.5</text><text x="3886.8" y="1956.2" font-size="22" font-family="Liberation Serif" font-weight="normal" font-style="normal" text-anchor="middle" >67.9</text><text x="3956.7" y="1956.2" font-size="22" font-family="Liberation Serif" font-weight="normal" font-style="normal" text-anchor="middle" >8.2</text><text x="4017.8" y="1956.2" font-size="22" font-family="Liberation Serif" font-weight="normal" font-style="normal" text-anchor="middle" >27.9</text><text x="4097.0" y="1956.2" font-size="22" font-family="Liberation Serif" font-weight="normal" font-style="normal" text-anchor="middle" >65.2</text><text x="4167.1" y="1956.2" font-size="22" font-family="Liberation Serif" font-weight="normal" font-style="normal" text-anchor="middle" >7.3</text><text x="4228.0" y="1956.2" font-size="22" font-family="Liberation Serif" font-weight="normal" font-style="normal" text-anchor="middle" >27.4</text><text x="3124.9" y="1979.1" font-size="22" font-family="Liberation Serif" font-weight="normal" font-style="normal" text-anchor="middle" >RARL</text><text x="3256.0" y="1979.1" font-size="22" font-family="Liberation Serif" font-weight="normal" font-style="normal" text-anchor="middle" >74.6</text><text x="3325.5" y="1979.1" font-size="22" font-family="Liberation Serif" font-weight="normal" font-style="normal" text-anchor="middle" >6.2</text><text x="3387.0" y="1979.1" font-size="22" font-family="Liberation Serif" font-weight="normal" font-style="normal" text-anchor="middle" >29.2</text><text x="3466.2" y="1979.1" font-size="22" font-family="Liberation Serif" font-weight="normal" font-style="normal" text-anchor="middle" >73.1</text><text x="3535.9" y="1979.1" font-size="22" font-family="Liberation Serif" font-weight="normal" font-style="normal" text-anchor="middle" >7.3</text><text x="3597.2" y="1979.1" font-size="22" font-family="Liberation Serif" font-weight="normal" font-style="normal" text-anchor="middle" >29.2</text><text x="3676.5" y="1979.1" font-size="22" font-family="Liberation Serif" font-weight="normal" font-style="normal" text-anchor="middle" >70.8</text><text x="3746.3" y="1979.1" font-size="22" font-family="Liberation Serif" font-weight="normal" font-style="normal" text-anchor="middle" >8.4</text><text x="3807.5" y="1979.1" font-size="22" font-family="Liberation Serif" font-weight="normal" font-style="normal" text-anchor="middle" >29.0</text><text x="3886.8" y="1979.1" font-size="22" font-family="Liberation Serif" font-weight="normal" font-style="normal" text-anchor="middle" >67.8</text><text x="3956.7" y="1979.1" font-size="22" font-family="Liberation Serif" font-weight="normal" font-style="normal" text-anchor="middle" >8.4</text><text x="4017.8" y="1979.1" font-size="22" font-family="Liberation Serif" font-weight="normal" font-style="normal" text-anchor="middle" >28.4</text><text x="4097.0" y="1979.1" font-size="22" font-family="Liberation Serif" font-weight="bold" font-style="normal" text-anchor="middle" >66.7</text><text x="4167.1" y="1979.1" font-size="22" font-family="Liberation Serif" font-weight="normal" font-style="normal" text-anchor="middle" >8.1</text><text x="4228.0" y="1979.1" font-size="22" font-family="Liberation Serif" font-weight="normal" font-style="normal" text-anchor="middle" >28.5</text><text x="3124.9" y="2002.0" font-size="22" font-family="Liberation Serif" font-weight="normal" font-style="normal" text-anchor="middle" >ExactAR2L(1.0)</text><text x="3256.0" y="2002.0" font-size="22" font-family="Liberation Serif" font-weight="bold" font-style="normal" text-anchor="middle" >77.4</text><text x="3325.5" y="2002.0" font-size="22" font-family="Liberation Serif" font-weight="normal" font-style="normal" text-anchor="middle" >6.5</text><text x="3387.0" y="2002.0" font-size="22" font-family="Liberation Serif" font-weight="normal" font-style="normal" text-anchor="middle" >30.2</text><text x="3466.2" y="2002.0" font-size="22" font-family="Liberation Serif" font-weight="bold" font-style="normal" text-anchor="middle" >74.3</text><text x="3535.9" y="2002.0" font-size="22" font-family="Liberation Serif" font-weight="normal" font-style="normal" text-anchor="middle" >9.3</text><text x="3597.2" y="2002.0" font-size="22" font-family="Liberation Serif" font-weight="normal" font-style="normal" text-anchor="middle" >29.5</text><text x="3676.5" y="2002.0" font-size="22" font-family="Liberation Serif" font-weight="bold" font-style="normal" text-anchor="middle" >72.0</text><text x="3746.3" y="2002.0" font-size="22" font-family="Liberation Serif" font-weight="normal" font-style="normal" text-anchor="middle" >9.5</text><text x="3807.5" y="2002.0" font-size="22" font-family="Liberation Serif" font-weight="normal" font-style="normal" text-anchor="middle" >29.0</text><text x="3886.8" y="2002.0" font-size="22" font-family="Liberation Serif" font-weight="bold" font-style="normal" text-anchor="middle" >69.5</text><text x="3956.7" y="2002.0" font-size="22" font-family="Liberation Serif" font-weight="normal" font-style="normal" text-anchor="middle" >10.0</text><text x="4017.8" y="2002.0" font-size="22" font-family="Liberation Serif" font-weight="normal" font-style="normal" text-anchor="middle" >28.4</text><text x="4097.0" y="2002.0" font-size="22" font-family="Liberation Serif" font-weight="normal" font-style="normal" text-anchor="middle" >66.5</text><text x="4167.1" y="2002.0" font-size="22" font-family="Liberation Serif" font-weight="normal" font-style="normal" text-anchor="middle" >8.7</text><text x="4228.0" y="2002.0" font-size="22" font-family="Liberation Serif" font-weight="normal" font-style="normal" text-anchor="middle" >27.9</text><text x="3124.9" y="2024.9" font-size="22" font-family="Liberation Serif" font-weight="normal" font-style="normal" text-anchor="middle" >RfMDP</text><text x="3256.0" y="2024.9" font-size="22" font-family="Liberation Serif" font-weight="normal" font-style="normal" text-anchor="middle" >75.5</text><text x="3325.5" y="2024.9" font-size="22" font-family="Liberation Serif" font-weight="normal" font-style="normal" text-anchor="middle" >6.7</text><text x="3387.0" y="2024.9" font-size="22" font-family="Liberation Serif" font-weight="normal" font-style="normal" text-anchor="middle" >29.6</text><text x="3466.2" y="2024.9" font-size="22" font-family="Liberation Serif" font-weight="normal" font-style="normal" text-anchor="middle" >71.8</text><text x="3535.9" y="2024.9" font-size="22" font-family="Liberation Serif" font-weight="normal" font-style="normal" text-anchor="middle" >9.8</text><text x="3597.2" y="2024.9" font-size="22" font-family="Liberation Serif" font-weight="normal" font-style="normal" text-anchor="middle" >28.8</text><text x="3676.5" y="2024.9" font-size="22" font-family="Liberation Serif" font-weight="normal" font-style="normal" text-anchor="middle" >69.6</text><text x="3746.3" y="2024.9" font-size="22" font-family="Liberation Serif" font-weight="normal" font-style="normal" text-anchor="middle" >9.4</text><text x="3807.5" y="2024.9" font-size="22" font-family="Liberation Serif" font-weight="normal" font-style="normal" text-anchor="middle" >28.5</text><text x="3886.8" y="2024.9" font-size="22" font-family="Liberation Serif" font-weight="normal" font-style="normal" text-anchor="middle" >67.1</text><text x="3956.7" y="2024.9" font-size="22" font-family="Liberation Serif" font-weight="normal" font-style="normal" text-anchor="middle" >9.0</text><text x="4017.8" y="2024.9" font-size="22" font-family="Liberation Serif" font-weight="normal" font-style="normal" text-anchor="middle" >28.0</text><text x="4097.0" y="2024.9" font-size="22" font-family="Liberation Serif" font-weight="normal" font-style="normal" text-anchor="middle" >63.9</text><text x="4167.1" y="2024.9" font-size="22" font-family="Liberation Serif" font-weight="normal" font-style="normal" text-anchor="middle" >8.1</text><text x="4228.0" y="2024.9" font-size="22" font-family="Liberation Serif" font-weight="normal" font-style="normal" text-anchor="middle" >27.3</text><text x="3124.9" y="2047.8" font-size="22" font-family="Liberation Serif" font-weight="normal" font-style="normal" text-anchor="middle" >ApproxAR2L(0.5)</text><text x="3256.0" y="2047.8" font-size="22" font-family="Liberation Serif" font-weight="normal" font-style="normal" text-anchor="middle" >76.1</text><text x="3325.5" y="2047.8" font-size="22" font-family="Liberation Serif" font-weight="normal" font-style="normal" text-anchor="middle" >5.8</text><text x="3387.0" y="2047.8" font-size="22" font-family="Liberation Serif" font-weight="normal" font-style="normal" text-anchor="middle" >29.8</text><text x="3466.2" y="2047.8" font-size="22" font-family="Liberation Serif" font-weight="normal" font-style="normal" text-anchor="middle" >72.6</text><text x="3535.9" y="2047.8" font-size="22" font-family="Liberation Serif" font-weight="normal" font-style="normal" text-anchor="middle" >8.4</text><text x="3597.2" y="2047.8" font-size="22" font-family="Liberation Serif" font-weight="normal" font-style="normal" text-anchor="middle" >29.0</text><text x="3676.5" y="2047.8" font-size="22" font-family="Liberation Serif" font-weight="normal" font-style="normal" text-anchor="middle" >69.8</text><text x="3746.3" y="2047.8" font-size="22" font-family="Liberation Serif" font-weight="normal" font-style="normal" text-anchor="middle" >9.9</text><text x="3807.5" y="2047.8" font-size="22" font-family="Liberation Serif" font-weight="normal" font-style="normal" text-anchor="middle" >28.4</text><text x="3886.8" y="2047.8" font-size="22" font-family="Liberation Serif" font-weight="normal" font-style="normal" text-anchor="middle" >67.3</text><text x="3956.7" y="2047.8" font-size="22" font-family="Liberation Serif" font-weight="normal" font-style="normal" text-anchor="middle" >9.6</text><text x="4017.8" y="2047.8" font-size="22" font-family="Liberation Serif" font-weight="normal" font-style="normal" text-anchor="middle" >27.7</text><text x="4097.0" y="2047.8" font-size="22" font-family="Liberation Serif" font-weight="normal" font-style="normal" text-anchor="middle" >64.7</text><text x="4167.1" y="2047.8" font-size="22" font-family="Liberation Serif" font-weight="normal" font-style="normal" text-anchor="middle" >8.8</text><text x="4228.0" y="2047.8" font-size="22" font-family="Liberation Serif" font-weight="normal" font-style="normal" text-anchor="middle" >27.4</text><text transform="translate(3033,1982.3) rotate(-90)" font-size="22" font-family="Liberation Serif" text-anchor="middle" textLength="84.5" lengthAdjust="spacingAndGlyphs"><tspan font-style="italic">N</tspan><tspan font-style="italic" font-size="15" dy="4">B</tspan><tspan dy="-4"> = 5</tspan></text><rect x="3011.8" y="2061.40" width="1251.9" height="2" fill="#000"/><text x="3124.9" y="2087.6" font-size="22" font-family="Liberation Serif" font-weight="normal" font-style="normal" text-anchor="middle" >PCT</text><text x="3256.0" y="2087.6" font-size="22" font-family="Liberation Serif" font-weight="bold" font-style="normal" text-anchor="middle" >76.4</text><text x="3325.5" y="2087.6" font-size="22" font-family="Liberation Serif" font-weight="normal" font-style="normal" text-anchor="middle" >6.6</text><text x="3387.0" y="2087.6" font-size="22" font-family="Liberation Serif" font-weight="normal" font-style="normal" text-anchor="middle" >29.9</text><text x="3466.2" y="2087.6" font-size="22" font-family="Liberation Serif" font-weight="normal" font-style="normal" text-anchor="middle" >70.6</text><text x="3535.9" y="2087.6" font-size="22" font-family="Liberation Serif" font-weight="normal" font-style="normal" text-anchor="middle" >12.4</text><text x="3597.2" y="2087.6" font-size="22" font-family="Liberation Serif" font-weight="normal" font-style="normal" text-anchor="middle" >28.5</text><text x="3676.5" y="2087.6" font-size="22" font-family="Liberation Serif" font-weight="normal" font-style="normal" text-anchor="middle" >65.1</text><text x="3746.3" y="2087.6" font-size="22" font-family="Liberation Serif" font-weight="normal" font-style="normal" text-anchor="middle" >14.5</text><text x="3807.5" y="2087.6" font-size="22" font-family="Liberation Serif" font-weight="normal" font-style="normal" text-anchor="middle" >27.3</text><text x="3886.8" y="2087.6" font-size="22" font-family="Liberation Serif" font-weight="normal" font-style="normal" text-anchor="middle" >61.4</text><text x="3956.7" y="2087.6" font-size="22" font-family="Liberation Serif" font-weight="normal" font-style="normal" text-anchor="middle" >14.8</text><text x="4017.8" y="2087.6" font-size="22" font-family="Liberation Serif" font-weight="normal" font-style="normal" text-anchor="middle" >26.4</text><text x="4097.0" y="2087.6" font-size="22" font-family="Liberation Serif" font-weight="normal" font-style="normal" text-anchor="middle" >55.7</text><text x="4167.1" y="2087.6" font-size="22" font-family="Liberation Serif" font-weight="normal" font-style="normal" text-anchor="middle" >12.9</text><text x="4228.0" y="2087.6" font-size="22" font-family="Liberation Serif" font-weight="normal" font-style="normal" text-anchor="middle" >25.2</text><text x="3124.9" y="2110.5" font-size="22" font-family="Liberation Serif" font-weight="normal" font-style="normal" text-anchor="middle" >CPPO</text><text x="3256.0" y="2110.5" font-size="22" font-family="Liberation Serif" font-weight="normal" font-style="normal" text-anchor="middle" >75.6</text><text x="3325.5" y="2110.5" font-size="22" font-family="Liberation Serif" font-weight="normal" font-style="normal" text-anchor="middle" >7.2</text><text x="3387.0" y="2110.5" font-size="22" font-family="Liberation Serif" font-weight="normal" font-style="normal" text-anchor="middle" >29.8</text><text x="3466.2" y="2110.5" font-size="22" font-family="Liberation Serif" font-weight="normal" font-style="normal" text-anchor="middle" >70.7</text><text x="3535.9" y="2110.5" font-size="22" font-family="Liberation Serif" font-weight="normal" font-style="normal" text-anchor="middle" >11.6</text><text x="3597.2" y="2110.5" font-size="22" font-family="Liberation Serif" font-weight="normal" font-style="normal" text-anchor="middle" >28.6</text><text x="3676.5" y="2110.5" font-size="22" font-family="Liberation Serif" font-weight="normal" font-style="normal" text-anchor="middle" >66.2</text><text x="3746.3" y="2110.5" font-size="22" font-family="Liberation Serif" font-weight="normal" font-style="normal" text-anchor="middle" >12.7</text><text x="3807.5" y="2110.5" font-size="22" font-family="Liberation Serif" font-weight="normal" font-style="normal" text-anchor="middle" >27.7</text><text x="3886.8" y="2110.5" font-size="22" font-family="Liberation Serif" font-weight="normal" font-style="normal" text-anchor="middle" >62.3</text><text x="3956.7" y="2110.5" font-size="22" font-family="Liberation Serif" font-weight="normal" font-style="normal" text-anchor="middle" >12.9</text><text x="4017.8" y="2110.5" font-size="22" font-family="Liberation Serif" font-weight="normal" font-style="normal" text-anchor="middle" >26.9</text><text x="4097.0" y="2110.5" font-size="22" font-family="Liberation Serif" font-weight="normal" font-style="normal" text-anchor="middle" >57.4</text><text x="4167.1" y="2110.5" font-size="22" font-family="Liberation Serif" font-weight="normal" font-style="normal" text-anchor="middle" >11.4</text><text x="4228.0" y="2110.5" font-size="22" font-family="Liberation Serif" font-weight="normal" font-style="normal" text-anchor="middle" >25.8</text><text x="3124.9" y="2133.4" font-size="22" font-family="Liberation Serif" font-weight="normal" font-style="normal" text-anchor="middle" >RARL</text><text x="3256.0" y="2133.4" font-size="22" font-family="Liberation Serif" font-weight="normal" font-style="normal" text-anchor="middle" >74.3</text><text x="3325.5" y="2133.4" font-size="22" font-family="Liberation Serif" font-weight="normal" font-style="normal" text-anchor="middle" >7.2</text><text x="3387.0" y="2133.4" font-size="22" font-family="Liberation Serif" font-weight="normal" font-style="normal" text-anchor="middle" >29.4</text><text x="3466.2" y="2133.4" font-size="22" font-family="Liberation Serif" font-weight="normal" font-style="normal" text-anchor="middle" >71.1</text><text x="3535.9" y="2133.4" font-size="22" font-family="Liberation Serif" font-weight="normal" font-style="normal" text-anchor="middle" >8.7</text><text x="3597.2" y="2133.4" font-size="22" font-family="Liberation Serif" font-weight="normal" font-style="normal" text-anchor="middle" >29.0</text><text x="3676.5" y="2133.4" font-size="22" font-family="Liberation Serif" font-weight="normal" font-style="normal" text-anchor="middle" >69.2</text><text x="3746.3" y="2133.4" font-size="22" font-family="Liberation Serif" font-weight="normal" font-style="normal" text-anchor="middle" >8.5</text><text x="3807.5" y="2133.4" font-size="22" font-family="Liberation Serif" font-weight="normal" font-style="normal" text-anchor="middle" >28.7</text><text x="3886.8" y="2133.4" font-size="22" font-family="Liberation Serif" font-weight="normal" font-style="normal" text-anchor="middle" >65.6</text><text x="3956.7" y="2133.4" font-size="22" font-family="Liberation Serif" font-weight="normal" font-style="normal" text-anchor="middle" >8.6</text><text x="4017.8" y="2133.4" font-size="22" font-family="Liberation Serif" font-weight="normal" font-style="normal" text-anchor="middle" >28.0</text><text x="4097.0" y="2133.4" font-size="22" font-family="Liberation Serif" font-weight="normal" font-style="normal" text-anchor="middle" >63.3</text><text x="4167.1" y="2133.4" font-size="22" font-family="Liberation Serif" font-weight="normal" font-style="normal" text-anchor="middle" >8.2</text><text x="4228.0" y="2133.4" font-size="22" font-family="Liberation Serif" font-weight="normal" font-style="normal" text-anchor="middle" >27.7</text><text x="3124.9" y="2156.3" font-size="22" font-family="Liberation Serif" font-weight="normal" font-style="normal" text-anchor="middle" >ExactAR2L(1.0)</text><text x="3256.0" y="2156.3" font-size="22" font-family="Liberation Serif" font-weight="normal" font-style="normal" text-anchor="middle" >76.0</text><text x="3325.5" y="2156.3" font-size="22" font-family="Liberation Serif" font-weight="normal" font-style="normal" text-anchor="middle" >7.0</text><text x="3387.0" y="2156.3" font-size="22" font-family="Liberation Serif" font-weight="normal" font-style="normal" text-anchor="middle" >29.8</text><text x="3466.2" y="2156.3" font-size="22" font-family="Liberation Serif" font-weight="bold" font-style="normal" text-anchor="middle" >72.4</text><text x="3535.9" y="2156.3" font-size="22" font-family="Liberation Serif" font-weight="normal" font-style="normal" text-anchor="middle" >9.7</text><text x="3597.2" y="2156.3" font-size="22" font-family="Liberation Serif" font-weight="normal" font-style="normal" text-anchor="middle" >30.0</text><text x="3676.5" y="2156.3" font-size="22" font-family="Liberation Serif" font-weight="bold" font-style="normal" text-anchor="middle" >70.3</text><text x="3746.3" y="2156.3" font-size="22" font-family="Liberation Serif" font-weight="normal" font-style="normal" text-anchor="middle" >9.4</text><text x="3807.5" y="2156.3" font-size="22" font-family="Liberation Serif" font-weight="normal" font-style="normal" text-anchor="middle" >30.3</text><text x="3886.8" y="2156.3" font-size="22" font-family="Liberation Serif" font-weight="bold" font-style="normal" text-anchor="middle" >66.7</text><text x="3956.7" y="2156.3" font-size="22" font-family="Liberation Serif" font-weight="normal" font-style="normal" text-anchor="middle" >9.3</text><text x="4017.8" y="2156.3" font-size="22" font-family="Liberation Serif" font-weight="normal" font-style="normal" text-anchor="middle" >30.3</text><text x="4097.0" y="2156.3" font-size="22" font-family="Liberation Serif" font-weight="bold" font-style="normal" text-anchor="middle" >63.8</text><text x="4167.1" y="2156.3" font-size="22" font-family="Liberation Serif" font-weight="normal" font-style="normal" text-anchor="middle" >8.0</text><text x="4228.0" y="2156.3" font-size="22" font-family="Liberation Serif" font-weight="normal" font-style="normal" text-anchor="middle" >30.6</text><text x="3124.9" y="2179.2" font-size="22" font-family="Liberation Serif" font-weight="normal" font-style="normal" text-anchor="middle" >RfMDP</text><text x="3256.0" y="2179.2" font-size="22" font-family="Liberation Serif" font-weight="normal" font-style="normal" text-anchor="middle" >74.4</text><text x="3325.5" y="2179.2" font-size="22" font-family="Liberation Serif" font-weight="normal" font-style="normal" text-anchor="middle" >7.2</text><text x="3387.0" y="2179.2" font-size="22" font-family="Liberation Serif" font-weight="normal" font-style="normal" text-anchor="middle" >29.7</text><text x="3466.2" y="2179.2" font-size="22" font-family="Liberation Serif" font-weight="normal" font-style="normal" text-anchor="middle" >70.5</text><text x="3535.9" y="2179.2" font-size="22" font-family="Liberation Serif" font-weight="normal" font-style="normal" text-anchor="middle" >11.4</text><text x="3597.2" y="2179.2" font-size="22" font-family="Liberation Serif" font-weight="normal" font-style="normal" text-anchor="middle" >28.7</text><text x="3676.5" y="2179.2" font-size="22" font-family="Liberation Serif" font-weight="normal" font-style="normal" text-anchor="middle" >65.7</text><text x="3746.3" y="2179.2" font-size="22" font-family="Liberation Serif" font-weight="normal" font-style="normal" text-anchor="middle" >14.3</text><text x="3807.5" y="2179.2" font-size="22" font-family="Liberation Serif" font-weight="normal" font-style="normal" text-anchor="middle" >28.0</text><text x="3886.8" y="2179.2" font-size="22" font-family="Liberation Serif" font-weight="normal" font-style="normal" text-anchor="middle" >60.8</text><text x="3956.7" y="2179.2" font-size="22" font-family="Liberation Serif" font-weight="normal" font-style="normal" text-anchor="middle" >14.4</text><text x="4017.8" y="2179.2" font-size="22" font-family="Liberation Serif" font-weight="normal" font-style="normal" text-anchor="middle" >26.8</text><text x="4097.0" y="2179.2" font-size="22" font-family="Liberation Serif" font-weight="normal" font-style="normal" text-anchor="middle" >55.9</text><text x="4167.1" y="2179.2" font-size="22" font-family="Liberation Serif" font-weight="normal" font-style="normal" text-anchor="middle" >12.5</text><text x="4228.0" y="2179.2" font-size="22" font-family="Liberation Serif" font-weight="normal" font-style="normal" text-anchor="middle" >25.9</text><text x="3124.9" y="2202.1" font-size="22" font-family="Liberation Serif" font-weight="normal" font-style="normal" text-anchor="middle" >ApproxAR2L(0.5)</text><text x="3256.0" y="2202.1" font-size="22" font-family="Liberation Serif" font-weight="normal" font-style="normal" text-anchor="middle" >76.2</text><text x="3325.5" y="2202.1" font-size="22" font-family="Liberation Serif" font-weight="normal" font-style="normal" text-anchor="middle" >5.9</text><text x="3387.0" y="2202.1" font-size="22" font-family="Liberation Serif" font-weight="normal" font-style="normal" text-anchor="middle" >29.9</text><text x="3466.2" y="2202.1" font-size="22" font-family="Liberation Serif" font-weight="normal" font-style="normal" text-anchor="middle" >72.1</text><text x="3535.9" y="2202.1" font-size="22" font-family="Liberation Serif" font-weight="normal" font-style="normal" text-anchor="middle" >11.7</text><text x="3597.2" y="2202.1" font-size="22" font-family="Liberation Serif" font-weight="normal" font-style="normal" text-anchor="middle" >29.2</text><text x="3676.5" y="2202.1" font-size="22" font-family="Liberation Serif" font-weight="normal" font-style="normal" text-anchor="middle" >66.9</text><text x="3746.3" y="2202.1" font-size="22" font-family="Liberation Serif" font-weight="normal" font-style="normal" text-anchor="middle" >14.7</text><text x="3807.5" y="2202.1" font-size="22" font-family="Liberation Serif" font-weight="normal" font-style="normal" text-anchor="middle" >28.1</text><text x="3886.8" y="2202.1" font-size="22" font-family="Liberation Serif" font-weight="normal" font-style="normal" text-anchor="middle" >62.1</text><text x="3956.7" y="2202.1" font-size="22" font-family="Liberation Serif" font-weight="normal" font-style="normal" text-anchor="middle" >15.0</text><text x="4017.8" y="2202.1" font-size="22" font-family="Liberation Serif" font-weight="normal" font-style="normal" text-anchor="middle" >26.9</text><text x="4097.0" y="2202.1" font-size="22" font-family="Liberation Serif" font-weight="normal" font-style="normal" text-anchor="middle" >56.1</text><text x="4167.1" y="2202.1" font-size="22" font-family="Liberation Serif" font-weight="normal" font-style="normal" text-anchor="middle" >13.6</text><text x="4228.0" y="2202.1" font-size="22" font-family="Liberation Serif" font-weight="normal" font-style="normal" text-anchor="middle" >25.5</text><text transform="translate(3033,2136.6) rotate(-90)" font-size="22" font-family="Liberation Serif" text-anchor="middle" textLength="96.8" lengthAdjust="spacingAndGlyphs"><tspan font-style="italic">N</tspan><tspan font-style="italic" font-size="15" dy="4">B</tspan><tspan dy="-4"> = 10</tspan></text><rect x="3011.8" y="2217.00" width="1251.9" height="2" fill="#000"/><text x="3124.9" y="2243.5" font-size="22" font-family="Liberation Serif" font-weight="normal" font-style="normal" text-anchor="middle" >PCT</text><text x="3256.0" y="2243.5" font-size="22" font-family="Liberation Serif" font-weight="bold" font-style="normal" text-anchor="middle" >76.8</text><text x="3325.5" y="2243.5" font-size="22" font-family="Liberation Serif" font-weight="normal" font-style="normal" text-anchor="middle" >6.9</text><text x="3387.0" y="2243.5" font-size="22" font-family="Liberation Serif" font-weight="normal" font-style="normal" text-anchor="middle" >29.9</text><text x="3466.2" y="2243.5" font-size="22" font-family="Liberation Serif" font-weight="normal" font-style="normal" text-anchor="middle" >69.4</text><text x="3535.9" y="2243.5" font-size="22" font-family="Liberation Serif" font-weight="normal" font-style="normal" text-anchor="middle" >15.4</text><text x="3597.2" y="2243.5" font-size="22" font-family="Liberation Serif" font-weight="normal" font-style="normal" text-anchor="middle" >28.1</text><text x="3676.5" y="2243.5" font-size="22" font-family="Liberation Serif" font-weight="normal" font-style="normal" text-anchor="middle" >62.0</text><text x="3746.3" y="2243.5" font-size="22" font-family="Liberation Serif" font-weight="normal" font-style="normal" text-anchor="middle" >18.3</text><text x="3807.5" y="2243.5" font-size="22" font-family="Liberation Serif" font-weight="normal" font-style="normal" text-anchor="middle" >26.3</text><text x="3886.8" y="2243.5" font-size="22" font-family="Liberation Serif" font-weight="normal" font-style="normal" text-anchor="middle" >55.2</text><text x="3956.7" y="2243.5" font-size="22" font-family="Liberation Serif" font-weight="normal" font-style="normal" text-anchor="middle" >18.2</text><text x="4017.8" y="2243.5" font-size="22" font-family="Liberation Serif" font-weight="normal" font-style="normal" text-anchor="middle" >24.3</text><text x="4097.0" y="2243.5" font-size="22" font-family="Liberation Serif" font-weight="normal" font-style="normal" text-anchor="middle" >48.6</text><text x="4167.1" y="2243.5" font-size="22" font-family="Liberation Serif" font-weight="normal" font-style="normal" text-anchor="middle" >14.7</text><text x="4228.0" y="2243.5" font-size="22" font-family="Liberation Serif" font-weight="normal" font-style="normal" text-anchor="middle" >22.5</text><text x="3124.9" y="2266.4" font-size="22" font-family="Liberation Serif" font-weight="normal" font-style="normal" text-anchor="middle" >CPPO</text><text x="3256.0" y="2266.4" font-size="22" font-family="Liberation Serif" font-weight="normal" font-style="normal" text-anchor="middle" >75.2</text><text x="3325.5" y="2266.4" font-size="22" font-family="Liberation Serif" font-weight="normal" font-style="normal" text-anchor="middle" >7.7</text><text x="3387.0" y="2266.4" font-size="22" font-family="Liberation Serif" font-weight="normal" font-style="normal" text-anchor="middle" >29.3</text><text x="3466.2" y="2266.4" font-size="22" font-family="Liberation Serif" font-weight="normal" font-style="normal" text-anchor="middle" >69.9</text><text x="3535.9" y="2266.4" font-size="22" font-family="Liberation Serif" font-weight="normal" font-style="normal" text-anchor="middle" >13.1</text><text x="3597.2" y="2266.4" font-size="22" font-family="Liberation Serif" font-weight="normal" font-style="normal" text-anchor="middle" >28.2</text><text x="3676.5" y="2266.4" font-size="22" font-family="Liberation Serif" font-weight="normal" font-style="normal" text-anchor="middle" >63.8</text><text x="3746.3" y="2266.4" font-size="22" font-family="Liberation Serif" font-weight="normal" font-style="normal" text-anchor="middle" >15.2</text><text x="3807.5" y="2266.4" font-size="22" font-family="Liberation Serif" font-weight="normal" font-style="normal" text-anchor="middle" >26.8</text><text x="3886.8" y="2266.4" font-size="22" font-family="Liberation Serif" font-weight="normal" font-style="normal" text-anchor="middle" >58.0</text><text x="3956.7" y="2266.4" font-size="22" font-family="Liberation Serif" font-weight="normal" font-style="normal" text-anchor="middle" >15.7</text><text x="4017.8" y="2266.4" font-size="22" font-family="Liberation Serif" font-weight="normal" font-style="normal" text-anchor="middle" >25.2</text><text x="4097.0" y="2266.4" font-size="22" font-family="Liberation Serif" font-weight="normal" font-style="normal" text-anchor="middle" >52.3</text><text x="4167.1" y="2266.4" font-size="22" font-family="Liberation Serif" font-weight="normal" font-style="normal" text-anchor="middle" >13.3</text><text x="4228.0" y="2266.4" font-size="22" font-family="Liberation Serif" font-weight="normal" font-style="normal" text-anchor="middle" >23.9</text><text x="3124.9" y="2289.3" font-size="22" font-family="Liberation Serif" font-weight="normal" font-style="normal" text-anchor="middle" >RARL</text><text x="3256.0" y="2289.3" font-size="22" font-family="Liberation Serif" font-weight="normal" font-style="normal" text-anchor="middle" >73.2</text><text x="3325.5" y="2289.3" font-size="22" font-family="Liberation Serif" font-weight="normal" font-style="normal" text-anchor="middle" >7.2</text><text x="3387.0" y="2289.3" font-size="22" font-family="Liberation Serif" font-weight="normal" font-style="normal" text-anchor="middle" >28.7</text><text x="3466.2" y="2289.3" font-size="22" font-family="Liberation Serif" font-weight="normal" font-style="normal" text-anchor="middle" >70.3</text><text x="3535.9" y="2289.3" font-size="22" font-family="Liberation Serif" font-weight="normal" font-style="normal" text-anchor="middle" >9.1</text><text x="3597.2" y="2289.3" font-size="22" font-family="Liberation Serif" font-weight="normal" font-style="normal" text-anchor="middle" >28.7</text><text x="3676.5" y="2289.3" font-size="22" font-family="Liberation Serif" font-weight="normal" font-style="normal" text-anchor="middle" >67.2</text><text x="3746.3" y="2289.3" font-size="22" font-family="Liberation Serif" font-weight="normal" font-style="normal" text-anchor="middle" >10.9</text><text x="3807.5" y="2289.3" font-size="22" font-family="Liberation Serif" font-weight="normal" font-style="normal" text-anchor="middle" >28.4</text><text x="3886.8" y="2289.3" font-size="22" font-family="Liberation Serif" font-weight="normal" font-style="normal" text-anchor="middle" >63.1</text><text x="3956.7" y="2289.3" font-size="22" font-family="Liberation Serif" font-weight="normal" font-style="normal" text-anchor="middle" >12.4</text><text x="4017.8" y="2289.3" font-size="22" font-family="Liberation Serif" font-weight="normal" font-style="normal" text-anchor="middle" >28.0</text><text x="4097.0" y="2289.3" font-size="22" font-family="Liberation Serif" font-weight="bold" font-style="normal" text-anchor="middle" >58.7</text><text x="4167.1" y="2289.3" font-size="22" font-family="Liberation Serif" font-weight="normal" font-style="normal" text-anchor="middle" >11.0</text><text x="4228.0" y="2289.3" font-size="22" font-family="Liberation Serif" font-weight="normal" font-style="normal" text-anchor="middle" >27.5</text><text x="3124.9" y="2312.2" font-size="22" font-family="Liberation Serif" font-weight="normal" font-style="normal" text-anchor="middle" >ExactAR2L(1.0)</text><text x="3256.0" y="2312.2" font-size="22" font-family="Liberation Serif" font-weight="normal" font-style="normal" text-anchor="middle" >76.6</text><text x="3325.5" y="2312.2" font-size="22" font-family="Liberation Serif" font-weight="normal" font-style="normal" text-anchor="middle" >5.4</text><text x="3387.0" y="2312.2" font-size="22" font-family="Liberation Serif" font-weight="normal" font-style="normal" text-anchor="middle" >30.0</text><text x="3466.2" y="2312.2" font-size="22" font-family="Liberation Serif" font-weight="bold" font-style="normal" text-anchor="middle" >71.7</text><text x="3535.9" y="2312.2" font-size="22" font-family="Liberation Serif" font-weight="normal" font-style="normal" text-anchor="middle" >10.8</text><text x="3597.2" y="2312.2" font-size="22" font-family="Liberation Serif" font-weight="normal" font-style="normal" text-anchor="middle" >29.4</text><text x="3676.5" y="2312.2" font-size="22" font-family="Liberation Serif" font-weight="bold" font-style="normal" text-anchor="middle" >67.7</text><text x="3746.3" y="2312.2" font-size="22" font-family="Liberation Serif" font-weight="normal" font-style="normal" text-anchor="middle" >12.3</text><text x="3807.5" y="2312.2" font-size="22" font-family="Liberation Serif" font-weight="normal" font-style="normal" text-anchor="middle" >29.0</text><text x="3886.8" y="2312.2" font-size="22" font-family="Liberation Serif" font-weight="bold" font-style="normal" text-anchor="middle" >63.3</text><text x="3956.7" y="2312.2" font-size="22" font-family="Liberation Serif" font-weight="normal" font-style="normal" text-anchor="middle" >11.9</text><text x="4017.8" y="2312.2" font-size="22" font-family="Liberation Serif" font-weight="normal" font-style="normal" text-anchor="middle" >28.2</text><text x="4097.0" y="2312.2" font-size="22" font-family="Liberation Serif" font-weight="normal" font-style="normal" text-anchor="middle" >58.5</text><text x="4167.1" y="2312.2" font-size="22" font-family="Liberation Serif" font-weight="normal" font-style="normal" text-anchor="middle" >11.1</text><text x="4228.0" y="2312.2" font-size="22" font-family="Liberation Serif" font-weight="normal" font-style="normal" text-anchor="middle" >27.6</text><text x="3124.9" y="2335.1" font-size="22" font-family="Liberation Serif" font-weight="normal" font-style="normal" text-anchor="middle" >RfMDP</text><text x="3256.0" y="2335.1" font-size="22" font-family="Liberation Serif" font-weight="normal" font-style="normal" text-anchor="middle" >73.6</text><text x="3325.5" y="2335.1" font-size="22" font-family="Liberation Serif" font-weight="normal" font-style="normal" text-anchor="middle" >8.0</text><text x="3387.0" y="2335.1" font-size="22" font-family="Liberation Serif" font-weight="normal" font-style="normal" text-anchor="middle" >29.0</text><text x="3466.2" y="2335.1" font-size="22" font-family="Liberation Serif" font-weight="normal" font-style="normal" text-anchor="middle" >68.4</text><text x="3535.9" y="2335.1" font-size="22" font-family="Liberation Serif" font-weight="normal" font-style="normal" text-anchor="middle" >12.8</text><text x="3597.2" y="2335.1" font-size="22" font-family="Liberation Serif" font-weight="normal" font-style="normal" text-anchor="middle" >29.1</text><text x="3676.5" y="2335.1" font-size="22" font-family="Liberation Serif" font-weight="normal" font-style="normal" text-anchor="middle" >62.2</text><text x="3746.3" y="2335.1" font-size="22" font-family="Liberation Serif" font-weight="normal" font-style="normal" text-anchor="middle" >15.0</text><text x="3807.5" y="2335.1" font-size="22" font-family="Liberation Serif" font-weight="normal" font-style="normal" text-anchor="middle" >28.9</text><text x="3886.8" y="2335.1" font-size="22" font-family="Liberation Serif" font-weight="normal" font-style="normal" text-anchor="middle" >58.2</text><text x="3956.7" y="2335.1" font-size="22" font-family="Liberation Serif" font-weight="normal" font-style="normal" text-anchor="middle" >14.7</text><text x="4017.8" y="2335.1" font-size="22" font-family="Liberation Serif" font-weight="normal" font-style="normal" text-anchor="middle" >29.2</text><text x="4097.0" y="2335.1" font-size="22" font-family="Liberation Serif" font-weight="normal" font-style="normal" text-anchor="middle" >54.1</text><text x="4167.1" y="2335.1" font-size="22" font-family="Liberation Serif" font-weight="normal" font-style="normal" text-anchor="middle" >12.5</text><text x="4228.0" y="2335.1" font-size="22" font-family="Liberation Serif" font-weight="normal" font-style="normal" text-anchor="middle" >29.6</text><text x="3124.9" y="2358.0" font-size="22" font-family="Liberation Serif" font-weight="normal" font-style="normal" text-anchor="middle" >ApproxAR2L(0.5)</text><text x="3256.0" y="2358.0" font-size="22" font-family="Liberation Serif" font-weight="normal" font-style="normal" text-anchor="middle" >75.2</text><text x="3325.5" y="2358.0" font-size="22" font-family="Liberation Serif" font-weight="normal" font-style="normal" text-anchor="middle" >6.4</text><text x="3387.0" y="2358.0" font-size="22" font-family="Liberation Serif" font-weight="normal" font-style="normal" text-anchor="middle" >29.6</text><text x="3466.2" y="2358.0" font-size="22" font-family="Liberation Serif" font-weight="normal" font-style="normal" text-anchor="middle" >69.9</text><text x="3535.9" y="2358.0" font-size="22" font-family="Liberation Serif" font-weight="normal" font-style="normal" text-anchor="middle" >10.6</text><text x="3597.2" y="2358.0" font-size="22" font-family="Liberation Serif" font-weight="normal" font-style="normal" text-anchor="middle" >29.5</text><text x="3676.5" y="2358.0" font-size="22" font-family="Liberation Serif" font-weight="normal" font-style="normal" text-anchor="middle" >65.2</text><text x="3746.3" y="2358.0" font-size="22" font-family="Liberation Serif" font-weight="normal" font-style="normal" text-anchor="middle" >11.9</text><text x="3807.5" y="2358.0" font-size="22" font-family="Liberation Serif" font-weight="normal" font-style="normal" text-anchor="middle" >29.5</text><text x="3886.8" y="2358.0" font-size="22" font-family="Liberation Serif" font-weight="normal" font-style="normal" text-anchor="middle" >60.1</text><text x="3956.7" y="2358.0" font-size="22" font-family="Liberation Serif" font-weight="normal" font-style="normal" text-anchor="middle" >10.9</text><text x="4017.8" y="2358.0" font-size="22" font-family="Liberation Serif" font-weight="normal" font-style="normal" text-anchor="middle" >29.2</text><text x="4097.0" y="2358.0" font-size="22" font-family="Liberation Serif" font-weight="normal" font-style="normal" text-anchor="middle" >55.1</text><text x="4167.1" y="2358.0" font-size="22" font-family="Liberation Serif" font-weight="normal" font-style="normal" text-anchor="middle" >6.8</text><text x="4228.0" y="2358.0" font-size="22" font-family="Liberation Serif" font-weight="normal" font-style="normal" text-anchor="middle" >29.4</text><text transform="translate(3033,2292.5) rotate(-90)" font-size="22" font-family="Liberation Serif" text-anchor="middle" textLength="96.8" lengthAdjust="spacingAndGlyphs"><tspan font-style="italic">N</tspan><tspan font-style="italic" font-size="15" dy="4">B</tspan><tspan dy="-4"> = 15</tspan></text><rect x="3011.8" y="2370.70" width="1251.9" height="2" fill="#000"/><text x="3124.9" y="2397.8" font-size="22" font-family="Liberation Serif" font-weight="normal" font-style="normal" text-anchor="middle" >PCT</text><text x="3256.0" y="2397.8" font-size="22" font-family="Liberation Serif" font-weight="bold" font-style="normal" text-anchor="middle" >77.0</text><text x="3325.5" y="2397.8" font-size="22" font-family="Liberation Serif" font-weight="normal" font-style="normal" text-anchor="middle" >5.5</text><text x="3387.0" y="2397.8" font-size="22" font-family="Liberation Serif" font-weight="normal" font-style="normal" text-anchor="middle" >30.1</text><text x="3466.2" y="2397.8" font-size="22" font-family="Liberation Serif" font-weight="normal" font-style="normal" text-anchor="middle" >68.4</text><text x="3535.9" y="2397.8" font-size="22" font-family="Liberation Serif" font-weight="normal" font-style="normal" text-anchor="middle" >17.0</text><text x="3597.2" y="2397.8" font-size="22" font-family="Liberation Serif" font-weight="normal" font-style="normal" text-anchor="middle" >28.6</text><text x="3676.5" y="2397.8" font-size="22" font-family="Liberation Serif" font-weight="normal" font-style="normal" text-anchor="middle" >59.7</text><text x="3746.3" y="2397.8" font-size="22" font-family="Liberation Serif" font-weight="normal" font-style="normal" text-anchor="middle" >19.3</text><text x="3807.5" y="2397.8" font-size="22" font-family="Liberation Serif" font-weight="normal" font-style="normal" text-anchor="middle" >27.0</text><text x="3886.8" y="2397.8" font-size="22" font-family="Liberation Serif" font-weight="normal" font-style="normal" text-anchor="middle" >50.9</text><text x="3956.7" y="2397.8" font-size="22" font-family="Liberation Serif" font-weight="normal" font-style="normal" text-anchor="middle" >18.2</text><text x="4017.8" y="2397.8" font-size="22" font-family="Liberation Serif" font-weight="normal" font-style="normal" text-anchor="middle" >25.5</text><text x="4097.0" y="2397.8" font-size="22" font-family="Liberation Serif" font-weight="normal" font-style="normal" text-anchor="middle" >41.9</text><text x="4167.1" y="2397.8" font-size="22" font-family="Liberation Serif" font-weight="normal" font-style="normal" text-anchor="middle" >12.2</text><text x="4228.0" y="2397.8" font-size="22" font-family="Liberation Serif" font-weight="normal" font-style="normal" text-anchor="middle" >24.2</text><text x="3124.9" y="2420.7" font-size="22" font-family="Liberation Serif" font-weight="normal" font-style="normal" text-anchor="middle" >CPPO</text><text x="3256.0" y="2420.7" font-size="22" font-family="Liberation Serif" font-weight="normal" font-style="normal" text-anchor="middle" >74.1</text><text x="3325.5" y="2420.7" font-size="22" font-family="Liberation Serif" font-weight="normal" font-style="normal" text-anchor="middle" >7.5</text><text x="3387.0" y="2420.7" font-size="22" font-family="Liberation Serif" font-weight="normal" font-style="normal" text-anchor="middle" >29.2</text><text x="3466.2" y="2420.7" font-size="22" font-family="Liberation Serif" font-weight="normal" font-style="normal" text-anchor="middle" >66.7</text><text x="3535.9" y="2420.7" font-size="22" font-family="Liberation Serif" font-weight="normal" font-style="normal" text-anchor="middle" >16.2</text><text x="3597.2" y="2420.7" font-size="22" font-family="Liberation Serif" font-weight="normal" font-style="normal" text-anchor="middle" >27.9</text><text x="3676.5" y="2420.7" font-size="22" font-family="Liberation Serif" font-weight="normal" font-style="normal" text-anchor="middle" >59.1</text><text x="3746.3" y="2420.7" font-size="22" font-family="Liberation Serif" font-weight="normal" font-style="normal" text-anchor="middle" >18.5</text><text x="3807.5" y="2420.7" font-size="22" font-family="Liberation Serif" font-weight="normal" font-style="normal" text-anchor="middle" >26.5</text><text x="3886.8" y="2420.7" font-size="22" font-family="Liberation Serif" font-weight="normal" font-style="normal" text-anchor="middle" >53.2</text><text x="3956.7" y="2420.7" font-size="22" font-family="Liberation Serif" font-weight="normal" font-style="normal" text-anchor="middle" >17.3</text><text x="4017.8" y="2420.7" font-size="22" font-family="Liberation Serif" font-weight="normal" font-style="normal" text-anchor="middle" >25.3</text><text x="4097.0" y="2420.7" font-size="22" font-family="Liberation Serif" font-weight="normal" font-style="normal" text-anchor="middle" >45.8</text><text x="4167.1" y="2420.7" font-size="22" font-family="Liberation Serif" font-weight="normal" font-style="normal" text-anchor="middle" >13.6</text><text x="4228.0" y="2420.7" font-size="22" font-family="Liberation Serif" font-weight="normal" font-style="normal" text-anchor="middle" >24.0</text><text x="3124.9" y="2443.6" font-size="22" font-family="Liberation Serif" font-weight="normal" font-style="normal" text-anchor="middle" >RARL</text><text x="3256.0" y="2443.6" font-size="22" font-family="Liberation Serif" font-weight="normal" font-style="normal" text-anchor="middle" >72.0</text><text x="3325.5" y="2443.6" font-size="22" font-family="Liberation Serif" font-weight="normal" font-style="normal" text-anchor="middle" >6.4</text><text x="3387.0" y="2443.6" font-size="22" font-family="Liberation Serif" font-weight="normal" font-style="normal" text-anchor="middle" >28.4</text><text x="3466.2" y="2443.6" font-size="22" font-family="Liberation Serif" font-weight="normal" font-style="normal" text-anchor="middle" >68.6</text><text x="3535.9" y="2443.6" font-size="22" font-family="Liberation Serif" font-weight="normal" font-style="normal" text-anchor="middle" >9.4</text><text x="3597.2" y="2443.6" font-size="22" font-family="Liberation Serif" font-weight="normal" font-style="normal" text-anchor="middle" >29.1</text><text x="3676.5" y="2443.6" font-size="22" font-family="Liberation Serif" font-weight="normal" font-style="normal" text-anchor="middle" >64.6</text><text x="3746.3" y="2443.6" font-size="22" font-family="Liberation Serif" font-weight="normal" font-style="normal" text-anchor="middle" >10.6</text><text x="3807.5" y="2443.6" font-size="22" font-family="Liberation Serif" font-weight="normal" font-style="normal" text-anchor="middle" >29.3</text><text x="3886.8" y="2443.6" font-size="22" font-family="Liberation Serif" font-weight="normal" font-style="normal" text-anchor="middle" >61.7</text><text x="3956.7" y="2443.6" font-size="22" font-family="Liberation Serif" font-weight="normal" font-style="normal" text-anchor="middle" >10.0</text><text x="4017.8" y="2443.6" font-size="22" font-family="Liberation Serif" font-weight="normal" font-style="normal" text-anchor="middle" >30.0</text><text x="4097.0" y="2443.6" font-size="22" font-family="Liberation Serif" font-weight="bold" font-style="normal" text-anchor="middle" >58.7</text><text x="4167.1" y="2443.6" font-size="22" font-family="Liberation Serif" font-weight="normal" font-style="normal" text-anchor="middle" >8.4</text><text x="4228.0" y="2443.6" font-size="22" font-family="Liberation Serif" font-weight="normal" font-style="normal" text-anchor="middle" >30.4</text><text x="3124.9" y="2466.5" font-size="22" font-family="Liberation Serif" font-weight="normal" font-style="normal" text-anchor="middle" >ExactAR2L(1.0)</text><text x="3256.0" y="2466.5" font-size="22" font-family="Liberation Serif" font-weight="normal" font-style="normal" text-anchor="middle" >76.1</text><text x="3325.5" y="2466.5" font-size="22" font-family="Liberation Serif" font-weight="normal" font-style="normal" text-anchor="middle" >7.3</text><text x="3387.0" y="2466.5" font-size="22" font-family="Liberation Serif" font-weight="normal" font-style="normal" text-anchor="middle" >30.0</text><text x="3466.2" y="2466.5" font-size="22" font-family="Liberation Serif" font-weight="bold" font-style="normal" text-anchor="middle" >70.9</text><text x="3535.9" y="2466.5" font-size="22" font-family="Liberation Serif" font-weight="normal" font-style="normal" text-anchor="middle" >11.8</text><text x="3597.2" y="2466.5" font-size="22" font-family="Liberation Serif" font-weight="normal" font-style="normal" text-anchor="middle" >29.4</text><text x="3676.5" y="2466.5" font-size="22" font-family="Liberation Serif" font-weight="bold" font-style="normal" text-anchor="middle" >66.7</text><text x="3746.3" y="2466.5" font-size="22" font-family="Liberation Serif" font-weight="normal" font-style="normal" text-anchor="middle" >12.7</text><text x="3807.5" y="2466.5" font-size="22" font-family="Liberation Serif" font-weight="normal" font-style="normal" text-anchor="middle" >29.0</text><text x="3886.8" y="2466.5" font-size="22" font-family="Liberation Serif" font-weight="bold" font-style="normal" text-anchor="middle" >62.8</text><text x="3956.7" y="2466.5" font-size="22" font-family="Liberation Serif" font-weight="normal" font-style="normal" text-anchor="middle" >12.6</text><text x="4017.8" y="2466.5" font-size="22" font-family="Liberation Serif" font-weight="normal" font-style="normal" text-anchor="middle" >28.6</text><text x="4097.0" y="2466.5" font-size="22" font-family="Liberation Serif" font-weight="normal" font-style="normal" text-anchor="middle" >58.5</text><text x="4167.1" y="2466.5" font-size="22" font-family="Liberation Serif" font-weight="normal" font-style="normal" text-anchor="middle" >10.3</text><text x="4228.0" y="2466.5" font-size="22" font-family="Liberation Serif" font-weight="normal" font-style="normal" text-anchor="middle" >28.2</text><text x="3124.9" y="2489.4" font-size="22" font-family="Liberation Serif" font-weight="normal" font-style="normal" text-anchor="middle" >RfMDP</text><text x="3256.0" y="2489.4" font-size="22" font-family="Liberation Serif" font-weight="normal" font-style="normal" text-anchor="middle" >73.8</text><text x="3325.5" y="2489.4" font-size="22" font-family="Liberation Serif" font-weight="normal" font-style="normal" text-anchor="middle" >7.0</text><text x="3387.0" y="2489.4" font-size="22" font-family="Liberation Serif" font-weight="normal" font-style="normal" text-anchor="middle" >29.0</text><text x="3466.2" y="2489.4" font-size="22" font-family="Liberation Serif" font-weight="normal" font-style="normal" text-anchor="middle" >69.4</text><text x="3535.9" y="2489.4" font-size="22" font-family="Liberation Serif" font-weight="normal" font-style="normal" text-anchor="middle" >11.0</text><text x="3597.2" y="2489.4" font-size="22" font-family="Liberation Serif" font-weight="normal" font-style="normal" text-anchor="middle" >26.6</text><text x="3676.5" y="2489.4" font-size="22" font-family="Liberation Serif" font-weight="normal" font-style="normal" text-anchor="middle" >64.7</text><text x="3746.3" y="2489.4" font-size="22" font-family="Liberation Serif" font-weight="normal" font-style="normal" text-anchor="middle" >13.3</text><text x="3807.5" y="2489.4" font-size="22" font-family="Liberation Serif" font-weight="normal" font-style="normal" text-anchor="middle" >24.2</text><text x="3886.8" y="2489.4" font-size="22" font-family="Liberation Serif" font-weight="normal" font-style="normal" text-anchor="middle" >59.4</text><text x="3956.7" y="2489.4" font-size="22" font-family="Liberation Serif" font-weight="normal" font-style="normal" text-anchor="middle" >15.1</text><text x="4017.8" y="2489.4" font-size="22" font-family="Liberation Serif" font-weight="normal" font-style="normal" text-anchor="middle" >21.5</text><text x="4097.0" y="2489.4" font-size="22" font-family="Liberation Serif" font-weight="normal" font-style="normal" text-anchor="middle" >54.4</text><text x="4167.1" y="2489.4" font-size="22" font-family="Liberation Serif" font-weight="normal" font-style="normal" text-anchor="middle" >13.0</text><text x="4228.0" y="2489.4" font-size="22" font-family="Liberation Serif" font-weight="normal" font-style="normal" text-anchor="middle" >19.2</text><text x="3124.9" y="2512.3" font-size="22" font-family="Liberation Serif" font-weight="normal" font-style="normal" text-anchor="middle" >ApproxAR2L(0.5)</text><text x="3256.0" y="2512.3" font-size="22" font-family="Liberation Serif" font-weight="normal" font-style="normal" text-anchor="middle" >75.0</text><text x="3325.5" y="2512.3" font-size="22" font-family="Liberation Serif" font-weight="normal" font-style="normal" text-anchor="middle" >7.6</text><text x="3387.0" y="2512.3" font-size="22" font-family="Liberation Serif" font-weight="normal" font-style="normal" text-anchor="middle" >29.5</text><text x="3466.2" y="2512.3" font-size="22" font-family="Liberation Serif" font-weight="normal" font-style="normal" text-anchor="middle" >70.1</text><text x="3535.9" y="2512.3" font-size="22" font-family="Liberation Serif" font-weight="normal" font-style="normal" text-anchor="middle" >12.2</text><text x="3597.2" y="2512.3" font-size="22" font-family="Liberation Serif" font-weight="normal" font-style="normal" text-anchor="middle" >30.1</text><text x="3676.5" y="2512.3" font-size="22" font-family="Liberation Serif" font-weight="normal" font-style="normal" text-anchor="middle" >63.9</text><text x="3746.3" y="2512.3" font-size="22" font-family="Liberation Serif" font-weight="normal" font-style="normal" text-anchor="middle" >15.4</text><text x="3807.5" y="2512.3" font-size="22" font-family="Liberation Serif" font-weight="normal" font-style="normal" text-anchor="middle" >30.5</text><text x="3886.8" y="2512.3" font-size="22" font-family="Liberation Serif" font-weight="normal" font-style="normal" text-anchor="middle" >58.8</text><text x="3956.7" y="2512.3" font-size="22" font-family="Liberation Serif" font-weight="normal" font-style="normal" text-anchor="middle" >14.4</text><text x="4017.8" y="2512.3" font-size="22" font-family="Liberation Serif" font-weight="normal" font-style="normal" text-anchor="middle" >30.7</text><text x="4097.0" y="2512.3" font-size="22" font-family="Liberation Serif" font-weight="normal" font-style="normal" text-anchor="middle" >53.1</text><text x="4167.1" y="2512.3" font-size="22" font-family="Liberation Serif" font-weight="normal" font-style="normal" text-anchor="middle" >11.7</text><text x="4228.0" y="2512.3" font-size="22" font-family="Liberation Serif" font-weight="normal" font-style="normal" text-anchor="middle" >31.1</text><text transform="translate(3033,2446.8) rotate(-90)" font-size="22" font-family="Liberation Serif" text-anchor="middle" textLength="96.8" lengthAdjust="spacingAndGlyphs"><tspan font-style="italic">N</tspan><tspan font-style="italic" font-size="15" dy="4">B</tspan><tspan dy="-4"> = 20</tspan></text><rect x="3011.8" y="2526.30" width="1251.9" height="3" fill="#000"/></svg>
<div class="t eq" style="left:1803px;top:1141.5px;font-size:45px;line-height:58.5px;color:#111;letter-spacing:1.32px;transform:scaleX(1.1127);transform-origin:0 0"><span id="eqV"><i>V</i><span class="su"><i>&#960;</i><span class="sb"><span class="rm">pack</span></span></span><span class="rm">(</span><b>C</b><span class="sb"><i>t</i></span><span class="rm">, </span><b>B&#8242;</b><span class="sb"><i>t</i></span><span class="rm">)</span><span style="display:inline-block;padding:0 0.22em"><span class="rm">=</span></span><i>r</i><span class="ss"><span class="ssu"><span class="rm">pack</span></span><span class="ssb"><i>t</i></span></span><span style="display:inline-block;padding:0 0.22em"><span class="rm">+</span></span><i>V</i><span class="su"><i>&#960;</i><span class="sb"><span class="rm">pack</span></span></span><span class="rm">(</span><b>C</b><span class="sb"><i>t</i><span class="rm">+1</span></span><span class="rm">, </span><b>B&#8242;</b><span class="sb"><i>t</i><span class="rm">+1</span></span><span class="rm">)</span></span><span id="bp_eqV" style="display:inline-block;width:0;height:0;vertical-align:baseline"></span></div>
<div class="t eq" style="left:1811px;top:1428.0px;font-size:44px;line-height:57.2px;color:#111;letter-spacing:1.25px;transform:scaleX(1.1016);transform-origin:0 0"><span id="eqPi"><i>&#960;</i><span class="su"><span class="rm">*</span></span><span style="display:inline-block;padding:0 0.22em"><span class="rm">=</span></span><span class="rm">arg </span><span class="ul"><span class="ulb"><span class="rm">max</span></span><span class="ull"><i>&#960;</i><span class="rm">&#8712;&#928;</span></span></span><span style="display:inline-block;width:0.15em"></span><i>&#951;</i><span class="rm">(</span><i>&#960;</i><span class="rm">, </span><i>P</i><span class="su"><i>o</i></span><span class="rm">)</span><span style="display:inline-block;padding:0 0.22em"><span class="rm">+</span></span><i>&#945;&#951;</i><span class="rm">(</span><i>&#960;</i><span class="rm">, </span><i>P</i><span class="su"><i>w</i></span><span class="rm">)</span></span><span id="bp_eqPi" style="display:inline-block;width:0;height:0;vertical-align:baseline"></span></div>
<div class="t eq" style="left:1628px;top:1609.5px;font-size:35px;line-height:45.5px;color:#111;letter-spacing:1.08px;transform:scaleX(1.1155);transform-origin:0 0"><span id="eqT1"><i>&#951;</i><span class="rm">(</span><i>&#960;</i><span class="rm">, </span><i>P</i><span class="su"><i>o</i></span><span class="rm">)</span><span style="display:inline-block;padding:0 0.22em"><span class="rm">+</span></span><i>&#945;&#951;</i><span class="rm">(</span><i>&#960;</i><span class="rm">, </span><i>P</i><span class="su"><i>w</i></span><span class="rm">)</span><span style="display:inline-block;padding:0 0.22em"><span class="rm">&#8805;</span></span><span class="rm">(1</span><span style="display:inline-block;padding:0 0.22em"><span class="rm">+</span></span><i>&#945;</i><span class="rm">)</span><i>&#951;</i><span class="rm">(</span><i>&#960;</i><span class="rm">, </span><i>P</i><span class="su"><i>m</i></span><span class="rm">)</span><span style="display:inline-block;padding:0 0.22em"><span class="rm">&#8722;</span></span><span class="fr"><span class="frn"><span class="rm">2</span><i>&#947;</i><span class="rm">|</span><i>r</i><span class="rm">|</span><span class="sb"><span class="rm">max</span></span></span><span class="frd"><span class="rm">(1 &#8722; </span><i>&#947;</i><span class="rm">)</span><span class="su"><span class="rm">2</span></span></span></span><span class="rm">(</span><i>d</i><span class="rm">(</span><i>P</i><span class="su"><i>m</i></span><span class="rm">||</span><i>P</i><span class="su"><i>o</i></span><span class="rm">)</span><span style="display:inline-block;padding:0 0.22em"><span class="rm">+</span></span><i>&#945;d</i><span class="rm">(</span><i>P</i><span class="su"><i>m</i></span><span class="rm">||</span><i>P</i><span class="su"><i>w</i></span><span class="rm">))</span></span><span id="bp_eqT1" style="display:inline-block;width:0;height:0;vertical-align:baseline"></span></div>
<div class="t eq" style="left:1561px;top:1811.5px;font-size:42px;line-height:54.6px;color:#111;letter-spacing:1.82px;transform:scaleX(1.1264);transform-origin:0 0"><span id="eqS2"><i>&#960;</i><span class="su"><span class="rm">*</span></span><span style="display:inline-block;padding:0 0.22em"><span class="rm">=</span></span><span class="rm">arg max</span><span class="sb"><i>&#960;</i><span class="rm">&#8712;&#928;</span></span><span class="rm">{max</span><span class="sb"><i>P</i><span class="su2"><i>m</i></span><span class="rm">&#8712;</span><span class="cal">P</span></span><span style="display:inline-block;width:0.2em"></span><i>&#951;</i><span class="rm">(</span><i>&#960;</i><span class="rm">, </span><i>P</i><span class="su"><i>m</i></span><span class="rm">)</span><span style="display:inline-block;padding:0 0.22em"><span class="rm">:</span></span><i>d</i><span class="rm">(</span><i>P</i><span class="su"><i>m</i></span><span class="rm">||</span><i>P</i><span class="su"><i>o</i></span><span class="rm">)+</span><i>&#945;d</i><span class="rm">(</span><i>P</i><span class="su"><i>m</i></span><span class="rm">||</span><i>P</i><span class="su"><i>w</i></span><span class="rm">)</span><span style="display:inline-block;padding:0 0.22em"><span class="rm">&#8804;</span></span><i>&#961;&#8242;</i><span class="rm">}</span></span><span id="bp_eqS2" style="display:inline-block;width:0;height:0;vertical-align:baseline"></span></div>
<div class="t eq" style="left:1751px;top:1944.3px;font-size:43px;line-height:55.9px;color:#111;letter-spacing:0.85px;transform:scaleX(1.0861);transform-origin:0 0"><span id="eqS3"><span class="cal">T</span><span class="sb"><i>a</i></span><i>V</i><span class="ss"><span class="ssu"><i>&#960;</i></span><span class="ssb"><i>a</i></span></span><span class="rm">(</span><i>s</i><span class="rm">)</span><span style="display:inline-block;padding:0 0.22em"><span class="rm">=</span></span><span class="bbm">E</span><span class="sb"><i>a</i><span class="rm">&#8764;</span><i>&#960;</i></span><span class="rm">[</span><i>r</i><span class="rm">(</span><i>s, a</i><span class="rm">)</span><span style="display:inline-block;padding:0 0.22em"><span class="rm">+</span></span><i>&#947;</i><span style="display:inline-block;width:0.3em"></span><span class="ul"><span class="ulb"><span class="rm">sup</span></span><span class="ull"><i>P</i><span class="ss"><span class="ssu"><i>m</i></span><span class="ssb"><i>s,a</i></span></span><span class="rm">&#8712;</span><span class="cal">P</span><span class="ss"><span class="ssu"><i>m</i></span><span class="ssb"><i>s,a</i></span></span></span></span><span style="display:inline-block;width:0.3em"></span><span class="bbm">E</span><span class="sb"><i>s&#8242;</i><span class="rm">&#8764;</span><i>P</i><span class="su2"><i>m</i></span></span><span class="rm">[</span><i>V</i><span class="ss"><span class="ssu"><i>&#960;</i></span><span class="ssb"><i>a</i></span></span><span class="rm">(</span><i>s&#8242;</i><span class="rm">)]].</span></span><span id="bp_eqS3" style="display:inline-block;width:0;height:0;vertical-align:baseline"></span></div>
<div class="t eq" style="left:1564px;top:2046.1px;font-size:40px;line-height:52.0px;color:#111;letter-spacing:0.77px;transform:scaleX(1.0694);transform-origin:0 0"><span id="eqPm"><span class="cal">P</span><span class="su"><i>m</i></span><span style="display:inline-block;padding:0 0.22em"><span class="rm">=</span></span><span class="rm">&#8855;</span><span class="sb"><span class="rm">(</span><i>s,a</i><span class="rm">)&#8712;</span><span class="cal">S</span><span class="rm">&#215;</span><span class="cal">A</span></span><span class="cal">P</span><span class="ss"><span class="ssu"><i>m</i></span><span class="ssb"><i>s,a</i></span></span><span class="rm">; </span><span class="cal">P</span><span class="ss"><span class="ssu"><i>m</i></span><span class="ssb"><i>s,a</i></span></span><span style="display:inline-block;padding:0 0.22em"><span class="rm">=</span></span><span class="rm">{</span><i>P</i><span class="sb"><i>s,a</i></span><span style="display:inline-block;padding:0 0.22em"><span class="rm">&#8712;</span></span><span class="rm">&#916;(</span><span class="cal">S</span><span class="rm">)</span><span style="display:inline-block;padding:0 0.22em"><span class="rm">:</span></span><i>D</i><span class="sb"><i>TV</i></span><span class="rm">(</span><i>P</i><span class="sb"><i>s,a</i></span><span class="rm">||</span><i>P</i><span class="ss"><span class="ssu"><i>o</i></span><span class="ssb"><i>s,a</i></span></span><span class="rm">)</span><span style="display:inline-block;padding:0 0.22em"><span class="rm">+</span></span><i>&#945;D</i><span class="sb"><i>TV</i></span><span class="rm">(</span><i>P</i><span class="sb"><i>s,a</i></span><span class="rm">||</span><i>P</i><span class="ss"><span class="ssu"><i>w</i></span><span class="ssb"><i>s,a</i></span></span><span class="rm">)</span><span style="display:inline-block;padding:0 0.22em"><span class="rm">&#8804;</span></span><i>&#961;&#8242;</i><span class="rm">}</span></span><span id="bp_eqPm" style="display:inline-block;width:0;height:0;vertical-align:baseline"></span></div>
<div class="t eq" style="left:1596px;top:2672.0px;font-size:42px;line-height:54.6px;color:#111;letter-spacing:1.16px;transform:scaleX(1.0964);transform-origin:0 0"><span id="eqL"><span class="cal">L</span><span class="sb"><span class="rm">mix</span></span><span style="display:inline-block;padding:0 0.22em"><span class="rm">=</span></span><span class="rm">&#8722;</span><i>&#951;</i><span class="rm">(</span><i>&#960;</i><span class="sb"><span class="rm">pack</span></span><span class="rm">, </span><i>&#960;</i><span class="sb"><span class="rm">mix</span></span><span class="rm">)</span><span style="display:inline-block;padding:0 0.22em"><span class="rm">+</span></span><span class="rm">(</span><i>D</i><span class="sb"><i>KL</i></span><span class="rm">(</span><i>&#960;</i><span class="sb"><span class="rm">mix</span></span><span class="rm">||</span><span class="bbm">1</span><span class="sb"><span class="rm">{</span><i>x</i><span class="rm">=</span><i>b</i><span class="sb2"><i>t</i><span class="rm">+1,1</span></span><span class="rm">}</span></span><span class="rm">)</span><span style="display:inline-block;padding:0 0.22em"><span class="rm">+</span></span><i>&#945;D</i><span class="sb"><i>KL</i></span><span class="rm">(</span><i>&#960;</i><span class="sb"><span class="rm">mix</span></span><span class="rm">||</span><i>&#960;</i><span class="sb"><span class="rm">perm</span></span><span class="rm">))</span></span><span id="bp_eqL" style="display:inline-block;width:0;height:0;vertical-align:baseline"></span></div>
<div class="t eq" style="left:3046px;top:756.0px;font-size:40px;line-height:52.0px;color:#111;letter-spacing:0.36px;transform:scaleX(1.0377);transform-origin:0 0"><span id="eqP1a"><span class="cal">T</span><span class="sb"><i>a</i></span><i>V</i><span class="ss"><span class="ssu"><i>&#960;</i></span><span class="ssb"><i>a</i></span></span><span class="rm">(</span><i>s</i><span class="rm">)</span><span style="display:inline-block;padding:0 0.22em"><span class="rm">=</span></span><span class="bbm">E</span><span class="sb"><i>a</i><span class="rm">&#8764;</span><i>&#960;</i></span><span class="rm">[</span><i>r</i><span class="rm">(</span><i>s, a</i><span class="rm">)</span><span style="display:inline-block;padding:0 0.22em"><span class="rm">+</span></span><span class="fr"><span class="frn"><i>&#947;</i></span><span class="frd"><span class="rm">1 + </span><i>&#945;</i></span></span><span style="display:inline-block;width:0.2em"></span><span class="ul"><span class="ulb"><span class="rm">inf</span></span><span class="ull"><i>&#955;,&#956;</i><span class="sb2"><span class="rm">1</span></span><i>,&#956;</i><span class="sb2"><span class="rm">2</span></span><i>,&#956;</i></span></span><span style="display:inline-block;width:0.1em"></span><span class="rm">(</span><span class="bbm">E</span><span class="sb"><i>s&#8242;</i><span class="rm">&#8764;</span><i>P</i><span class="su2"><i>o</i></span></span><span class="rm">[</span><i>V</i><span class="ss"><span class="ssu"><i>&#960;</i></span><span class="ssb"><i>a</i></span></span><span class="rm">(</span><i>s&#8242;</i><span class="rm">)</span><span style="display:inline-block;padding:0 0.22em"><span class="rm">&#8722;</span></span><i>&#956;</i><span class="sb"><span class="rm">1</span></span><span class="rm">(</span><i>s&#8242;</i><span class="rm">)]</span><span class="sb"><span class="rm">+</span></span><span class="rm">+</span></span><span id="bp_eqP1a" style="display:inline-block;width:0;height:0;vertical-align:baseline"></span></div>
<div class="t eq" style="left:3524.5px;top:838.4px;font-size:40px;line-height:52.0px;color:#111;letter-spacing:0.33px;transform:scaleX(1.0268);transform-origin:0 0"><span id="eqP1b"><i>&#945;</i><span class="bbm">E</span><span class="sb"><i>s&#8242;</i><span class="rm">&#8764;</span><i>P</i><span class="su2"><i>w</i></span></span><span class="rm">[</span><i>V</i><span class="ss"><span class="ssu"><i>&#960;</i></span><span class="ssb"><i>a</i></span></span><span class="rm">(</span><i>s&#8242;</i><span class="rm">)</span><span style="display:inline-block;padding:0 0.22em"><span class="rm">&#8722;</span></span><i>&#956;</i><span class="sb"><span class="rm">2</span></span><span class="rm">(</span><i>s&#8242;</i><span class="rm">)]</span><span class="sb"><span class="rm">+</span></span><span style="display:inline-block;padding:0 0.22em"><span class="rm">+</span></span><i>&#956;</i><span style="display:inline-block;padding:0 0.22em"><span class="rm">+</span></span><i>&#955;&#961;</i><span class="rm">(1</span><span style="display:inline-block;padding:0 0.22em"><span class="rm">+</span></span><i>&#945;</i><span class="rm">))]</span></span><span id="bp_eqP1b" style="display:inline-block;width:0;height:0;vertical-align:baseline"></span></div>
<svg style="left:1556px;top:1514px" width="1320" height="209" viewBox="1556 1514 1320 209"><rect x="1559" y="1517" width="1314" height="203" rx="30" fill="none" stroke="#000" stroke-width="2.2" stroke-dasharray="10.5 6"/></svg>
<svg style="left:1555px;top:2132px" width="1321" height="160.5" viewBox="1555 2132 1321 160.5"><rect x="1558" y="2135" width="1315" height="154.5" rx="28" fill="none" stroke="#000" stroke-width="2.2" stroke-dasharray="10.5 6"/></svg>
<svg style="left:3002px;top:515.5px" width="1231" height="398.5" viewBox="3002 515.5 1231 398.5"><rect x="3005" y="518.5" width="1225" height="392.5" rx="44" fill="none" stroke="#000" stroke-width="2.2" stroke-dasharray="10.5 6"/></svg>
<svg style="left:2830px;top:120px" width="160" height="240" viewBox="0 0 1045 1568"><defs><clipPath id="sunclip"><rect x="0" y="0" width="1045" height="338"/><rect x="0" y="350" width="1045" height="22"/><rect x="0" y="388" width="1045" height="20"/><rect x="0" y="425" width="1045" height="18"/><rect x="0" y="457" width="1045" height="15"/><rect x="0" y="485" width="1045" height="15"/></clipPath></defs><circle cx="505" cy="292" r="207" fill="#A3813A" clip-path="url(#sunclip)"/><path d="M112,520 H420 Q480,525 505,575 Q530,525 580,520 H893 L955,612 H675 Q605,620 580,678 H425 Q400,620 340,612 H52 Z" fill="#003471"/><path d="M118,652 V1110 Q130,1290 280,1370" fill="none" stroke="#003471" stroke-width="77"/><path d="M237,652 V1110 Q250,1220 342,1275" fill="none" stroke="#003471" stroke-width="75"/><path d="M889,652 V1110 Q877,1290 730,1370" fill="none" stroke="#003471" stroke-width="77"/><path d="M774,652 V1110 Q760,1220 670,1275" fill="none" stroke="#003471" stroke-width="75"/><path d="M425,703 H483 V1210 L378,1405 H632 L525,1210 V703 H587 V1210 L760,1500 H250 L425,1210 Z" fill="#A3813A"/></svg>
<svg style="left:3000px;top:130px" width="370" height="60" viewBox="0 0 2352 381"><path d="M285,48 L62,72 M40,122 H322 M181,50 V200 M170,135 Q120,175 45,195 M195,135 Q250,175 322,192 M90,205 V328 M90,212 H255 V328 M90,266 H255 M90,318 H255" fill="none" stroke="#003471" stroke-width="30" stroke-linecap="butt" stroke-linejoin="miter"/><path d="M448,62 L495,98 M435,140 L490,172 M440,318 L492,228 M545,98 H705 M585,45 V152 M665,45 V152 M510,152 H712 M600,155 Q565,200 515,222 M625,155 Q665,195 712,215 M560,218 H690 V262 H560 M560,218 V300 H700" fill="none" stroke="#003471" stroke-width="30" stroke-linecap="butt" stroke-linejoin="miter"/><path d="M945,50 L830,72 M820,130 H945 M885,45 V330 M880,140 Q860,215 825,265 M895,152 L945,215 M985,75 L1025,108 M975,150 L1025,182 M950,250 L1105,218 M1065,45 V330" fill="none" stroke="#003471" stroke-width="30" stroke-linecap="butt" stroke-linejoin="miter"/><path d="M1215,108 H1310 M1265,45 V305 Q1265,320 1235,322 M1215,215 L1310,192 M1325,102 H1495 M1410,45 V190 M1340,192 H1462 Q1420,280 1305,320 M1360,235 Q1420,295 1495,322" fill="none" stroke="#003471" stroke-width="30" stroke-linecap="butt" stroke-linejoin="miter"/><path d="M1605,130 H1885 M1745,45 V140 Q1720,255 1610,322 M1760,175 Q1810,270 1885,322" fill="none" stroke="#003471" stroke-width="30" stroke-linecap="butt" stroke-linejoin="miter"/><path d="M2022,62 V150 H2258 V62 M2030,62 H2070 M2210,62 H2255 M2100,52 L2172,138 M2172,52 L2100,138 M1995,205 V172 H2278 V205 M2050,215 H2180 L2125,248 M1990,268 H2282 M2140,250 V320 Q2140,328 2088,322" fill="none" stroke="#003471" stroke-width="30" stroke-linecap="butt" stroke-linejoin="miter"/></svg>
<svg style="left:3001.7px;top:186.4px" width="404.0" height="65" viewBox="3001.7 186.4 404.0 65"><text x="3006.7" y="236.4" font-size="50" font-family="Liberation Sans" fill="#003471" textLength="394.0" lengthAdjust="spacingAndGlyphs">THE HONG KONG</text></svg>
<svg style="left:3003.6px;top:242.89999999999998px" width="530.7000000000003" height="65" viewBox="3003.6 242.89999999999998 530.7000000000003 65"><text x="3008.6" y="292.9" font-size="50" font-family="Liberation Sans" fill="#003471" textLength="520.7000000000003" lengthAdjust="spacingAndGlyphs">UNIVERSITY OF SCIENCE</text></svg>
<svg style="left:3001.7px;top:299px" width="435.0" height="65" viewBox="3001.7 299 435.0 65"><text x="3006.7" y="349" font-size="50" font-family="Liberation Sans" fill="#003471" textLength="425.0" lengthAdjust="spacingAndGlyphs">AND TECHNOLOGY</text></svg>
<svg style="left:3725px;top:190.0px" width="463" height="53" viewBox="3725 190.0 463 53"><text x="3730" y="230.5" font-size="40.5" font-family="Liberation Sans" fill="#2F3033" textLength="453" lengthAdjust="spacingAndGlyphs">NEURAL INFORMATION</text></svg>
<svg style="left:3725px;top:231.0px" width="463" height="53" viewBox="3725 231.0 463 53"><text x="3730" y="271.5" font-size="40.5" font-family="Liberation Sans" fill="#2F3033" textLength="453" lengthAdjust="spacingAndGlyphs">PROCESSING SYSTEMS</text></svg>
<svg style="left:3600px;top:100px" width="270" height="270" viewBox="0 0 1568 1568"><ellipse cx="800" cy="125" rx="42" ry="58" transform="rotate(-15 800 125)" fill="#674287"/><ellipse cx="515" cy="225" rx="50" ry="62" transform="rotate(-35 515 225)" fill="#674287"/><ellipse cx="315" cy="415" rx="58" ry="50" transform="rotate(20 315 415)" fill="#674287"/><ellipse cx="310" cy="565" rx="58" ry="48" transform="rotate(20 310 565)" fill="#674287"/><ellipse cx="480" cy="492" rx="45" ry="40" transform="rotate(15 480 492)" fill="#674287"/><ellipse cx="720" cy="308" rx="38" ry="45" transform="rotate(-20 720 308)" fill="#674287"/><ellipse cx="945" cy="265" rx="32" ry="42" transform="rotate(0 945 265)" fill="#674287"/><ellipse cx="1045" cy="278" rx="28" ry="38" transform="rotate(0 1045 278)" fill="#674287"/><ellipse cx="1065" cy="155" rx="35" ry="52" transform="rotate(-10 1065 155)" fill="#674287"/><ellipse cx="862" cy="390" rx="28" ry="32" transform="rotate(0 862 390)" fill="#674287"/><ellipse cx="1035" cy="370" rx="22" ry="28" transform="rotate(0 1035 370)" fill="#674287"/><ellipse cx="1138" cy="315" rx="25" ry="33" transform="rotate(0 1138 315)" fill="#674287"/><ellipse cx="1258" cy="272" rx="25" ry="38" transform="rotate(0 1258 272)" fill="#674287"/><ellipse cx="703" cy="480" rx="32" ry="35" transform="rotate(0 703 480)" fill="#674287"/><ellipse cx="1383" cy="412" rx="18" ry="28" transform="rotate(15 1383 412)" fill="#674287"/><ellipse cx="1423" cy="463" rx="12" ry="18" transform="rotate(0 1423 463)" fill="#674287"/><ellipse cx="222" cy="437" rx="20" ry="12" transform="rotate(0 222 437)" fill="#674287"/><ellipse cx="198" cy="497" rx="28" ry="20" transform="rotate(0 198 497)" fill="#674287"/><ellipse cx="385" cy="300" rx="55" ry="45" transform="rotate(20 385 300)" fill="#674287"/><ellipse cx="660" cy="160" rx="48" ry="55" transform="rotate(-20 660 160)" fill="#674287"/><ellipse cx="940" cy="125" rx="40" ry="55" transform="rotate(0 940 125)" fill="#674287"/><ellipse cx="780" cy="420" rx="25" ry="28" transform="rotate(0 780 420)" fill="#674287"/><ellipse cx="950" cy="370" rx="25" ry="30" transform="rotate(0 950 370)" fill="#674287"/><ellipse cx="605" cy="555" rx="30" ry="30" transform="rotate(0 605 555)" fill="#674287"/><ellipse cx="1170" cy="190" rx="30" ry="38" transform="rotate(0 1170 190)" fill="#674287"/><ellipse cx="1325" cy="350" rx="25" ry="30" transform="rotate(0 1325 350)" fill="#674287"/><polyline points="385,300 470,340 600,345 620,450 605,550" fill="none" stroke="#674287" stroke-width="52" stroke-linecap="round" stroke-linejoin="round"/><polyline points="600,345 700,400 780,420" fill="none" stroke="#674287" stroke-width="44" stroke-linecap="round" stroke-linejoin="round"/><polyline points="660,160 720,220 800,235 880,200 940,130" fill="none" stroke="#674287" stroke-width="52" stroke-linecap="round" stroke-linejoin="round"/><polyline points="800,235 870,300 950,370" fill="none" stroke="#674287" stroke-width="44" stroke-linecap="round" stroke-linejoin="round"/><polyline points="1170,190 1195,300 1265,355 1325,350" fill="none" stroke="#674287" stroke-width="40" stroke-linecap="round" stroke-linejoin="round"/><ellipse cx="135" cy="675" rx="38" ry="28" transform="rotate(-15 135 675)" fill="#8F6BA5"/><ellipse cx="232" cy="760" rx="32" ry="27" transform="rotate(0 232 760)" fill="#8F6BA5"/><ellipse cx="330" cy="822" rx="28" ry="22" transform="rotate(0 330 822)" fill="#8F6BA5"/><ellipse cx="130" cy="900" rx="50" ry="40" transform="rotate(-20 130 900)" fill="#8F6BA5"/><ellipse cx="242" cy="855" rx="35" ry="30" transform="rotate(-20 242 855)" fill="#8F6BA5"/><ellipse cx="283" cy="955" rx="42" ry="35" transform="rotate(-25 283 955)" fill="#8F6BA5"/><ellipse cx="432" cy="962" rx="32" ry="32" transform="rotate(0 432 962)" fill="#8F6BA5"/><ellipse cx="590" cy="1058" rx="32" ry="35" transform="rotate(0 590 1058)" fill="#8F6BA5"/><ellipse cx="232" cy="1143" rx="50" ry="55" transform="rotate(30 232 1143)" fill="#8F6BA5"/><ellipse cx="430" cy="1125" rx="42" ry="42" transform="rotate(0 430 1125)" fill="#8F6BA5"/><ellipse cx="705" cy="1250" rx="38" ry="48" transform="rotate(0 705 1250)" fill="#8F6BA5"/><ellipse cx="455" cy="1345" rx="48" ry="62" transform="rotate(25 455 1345)" fill="#8F6BA5"/><ellipse cx="718" cy="1430" rx="48" ry="62" transform="rotate(0 718 1430)" fill="#8F6BA5"/><ellipse cx="855" cy="1362" rx="45" ry="62" transform="rotate(0 855 1362)" fill="#8F6BA5"/><ellipse cx="180" cy="580" rx="30" ry="25" transform="rotate(0 180 580)" fill="#8F6BA5"/><ellipse cx="115" cy="780" rx="42" ry="35" transform="rotate(0 115 780)" fill="#8F6BA5"/><ellipse cx="165" cy="1030" rx="50" ry="40" transform="rotate(0 165 1030)" fill="#8F6BA5"/><ellipse cx="375" cy="890" rx="25" ry="28" transform="rotate(0 375 890)" fill="#8F6BA5"/><ellipse cx="330" cy="1255" rx="50" ry="55" transform="rotate(20 330 1255)" fill="#8F6BA5"/><ellipse cx="505" cy="1020" rx="28" ry="30" transform="rotate(0 505 1020)" fill="#8F6BA5"/><ellipse cx="585" cy="1420" rx="48" ry="55" transform="rotate(0 585 1420)" fill="#8F6BA5"/><ellipse cx="700" cy="1110" rx="30" ry="32" transform="rotate(0 700 1110)" fill="#8F6BA5"/><polyline points="180,580 215,650 170,740 115,780" fill="none" stroke="#8F6BA5" stroke-width="44" stroke-linecap="round" stroke-linejoin="round"/><polyline points="165,1030 290,1010 375,890" fill="none" stroke="#8F6BA5" stroke-width="44" stroke-linecap="round" stroke-linejoin="round"/><polyline points="290,1010 345,1100 330,1250" fill="none" stroke="#8F6BA5" stroke-width="52" stroke-linecap="round" stroke-linejoin="round"/><polyline points="505,1020 510,1210 585,1420" fill="none" stroke="#8F6BA5" stroke-width="50" stroke-linecap="round" stroke-linejoin="round"/><polyline points="510,1120 600,1160 700,1110" fill="none" stroke="#8F6BA5" stroke-width="42" stroke-linecap="round" stroke-linejoin="round"/></svg>
<svg style="left:4027px;top:2612px" width="227.5" height="227.5" viewBox="0 0 33 33"><g fill="#1D4384"><circle cx="15.5" cy="21.5" r="0.47"/><rect x="15.5" y="21.3" width="1" height="0.4"/><circle cx="7.5" cy="17.5" r="0.47"/><rect x="7.5" y="17.3" width="1" height="0.4"/><circle cx="15.5" cy="30.5" r="0.47"/><rect x="15.5" y="30.3" width="1" height="0.4"/><circle cx="19.5" cy="0.5" r="0.47"/><rect x="19.5" y="0.3" width="1" height="0.4"/><rect x="19.3" y="0.5" width="0.4" height="1"/><circle cx="29.5" cy="32.5" r="0.47"/><circle cx="8.5" cy="9.5" r="0.47"/><rect x="8.5" y="9.3" width="1" height="0.4"/><circle cx="8.5" cy="18.5" r="0.47"/><rect x="8.3" y="18.5" width="0.4" height="1"/><circle cx="11.5" cy="14.5" r="0.47"/><rect x="11.5" y="14.3" width="1" height="0.4"/><circle cx="0.5" cy="23.5" r="0.47"/><rect x="0.5" y="23.3" width="1" height="0.4"/><circle cx="10.5" cy="27.5" r="0.47"/><rect x="10.5" y="27.3" width="1" height="0.4"/><rect x="10.3" y="27.5" width="0.4" height="1"/><circle cx="22.5" cy="10.5" r="0.47"/><rect x="22.5" y="10.3" width="1" height="0.4"/><rect x="22.3" y="10.5" width="0.4" height="1"/><circle cx="14.5" cy="15.5" r="0.47"/><circle cx="22.5" cy="28.5" r="0.47"/><rect x="22.5" y="28.3" width="1" height="0.4"/><circle cx="15.5" cy="7.5" r="0.47"/><rect x="15.5" y="7.3" width="1" height="0.4"/><rect x="15.3" y="7.5" width="0.4" height="1"/><circle cx="18.5" cy="3.5" r="0.47"/><rect x="18.3" y="3.5" width="0.4" height="1"/><circle cx="7.5" cy="12.5" r="0.47"/><rect x="7.3" y="12.5" width="0.4" height="1"/><circle cx="15.5" cy="25.5" r="0.47"/><rect x="15.5" y="25.3" width="1" height="0.4"/><rect x="15.3" y="25.5" width="0.4" height="1"/><circle cx="18.5" cy="30.5" r="0.47"/><rect x="18.3" y="30.5" width="0.4" height="1"/><circle cx="27.5" cy="8.5" r="0.47"/><rect x="27.3" y="8.5" width="0.4" height="1"/><circle cx="29.5" cy="27.5" r="0.47"/><rect x="29.5" y="27.3" width="1" height="0.4"/><circle cx="11.5" cy="0.5" r="0.47"/><rect x="11.3" y="0.5" width="0.4" height="1"/><circle cx="21.5" cy="32.5" r="0.47"/><rect x="21.5" y="32.3" width="1" height="0.4"/><circle cx="0.5" cy="9.5" r="0.47"/><rect x="0.5" y="9.3" width="1" height="0.4"/><circle cx="25.5" cy="20.5" r="0.47"/><rect x="25.5" y="20.3" width="1" height="0.4"/><circle cx="25.5" cy="29.5" r="0.47"/><circle cx="22.5" cy="5.5" r="0.47"/><rect x="22.5" y="5.3" width="1" height="0.4"/><rect x="22.3" y="5.5" width="0.4" height="1"/><circle cx="3.5" cy="10.5" r="0.47"/><rect x="3.5" y="10.3" width="1" height="0.4"/><circle cx="14.5" cy="10.5" r="0.47"/><rect x="14.5" y="10.3" width="1" height="0.4"/><circle cx="22.5" cy="23.5" r="0.47"/><circle cx="22.5" cy="32.5" r="0.47"/><rect x="22.5" y="32.3" width="1" height="0.4"/><circle cx="14.5" cy="28.5" r="0.47"/><rect x="14.5" y="28.3" width="1" height="0.4"/><rect x="14.3" y="28.5" width="0.4" height="1"/><circle cx="15.5" cy="2.5" r="0.47"/><rect x="15.5" y="2.3" width="1" height="0.4"/><circle cx="15.5" cy="11.5" r="0.47"/><rect x="15.5" y="11.3" width="1" height="0.4"/><rect x="15.3" y="11.5" width="0.4" height="1"/><circle cx="26.5" cy="11.5" r="0.47"/><circle cx="26.5" cy="20.5" r="0.47"/><rect x="26.5" y="20.3" width="1" height="0.4"/><circle cx="18.5" cy="16.5" r="0.47"/><rect x="18.5" y="16.3" width="1" height="0.4"/><circle cx="29.5" cy="31.5" r="0.47"/><rect x="29.3" y="31.5" width="0.4" height="1"/><circle cx="10.5" cy="8.5" r="0.47"/><rect x="10.5" y="8.3" width="1" height="0.4"/><circle cx="10.5" cy="17.5" r="0.47"/><circle cx="2.5" cy="13.5" r="0.47"/><rect x="2.5" y="13.3" width="1" height="0.4"/><circle cx="2.5" cy="22.5" r="0.47"/><rect x="2.5" y="22.3" width="1" height="0.4"/><circle cx="25.5" cy="24.5" r="0.47"/><rect x="25.5" y="24.3" width="1" height="0.4"/><circle cx="22.5" cy="18.5" r="0.47"/><rect x="22.5" y="18.3" width="1" height="0.4"/><circle cx="3.5" cy="14.5" r="0.47"/><circle cx="14.5" cy="14.5" r="0.47"/><rect x="14.3" y="14.5" width="0.4" height="1"/><circle cx="14.5" cy="23.5" r="0.47"/><rect x="14.5" y="23.3" width="1" height="0.4"/><circle cx="17.5" cy="25.5" r="0.47"/><rect x="17.3" y="25.5" width="0.4" height="1"/><circle cx="28.5" cy="25.5" r="0.47"/><rect x="28.3" y="25.5" width="0.4" height="1"/><circle cx="7.5" cy="11.5" r="0.47"/><rect x="7.3" y="11.5" width="0.4" height="1"/><circle cx="9.5" cy="30.5" r="0.47"/><circle cx="29.5" cy="8.5" r="0.47"/><rect x="29.5" y="8.3" width="1" height="0.4"/><rect x="29.3" y="8.5" width="0.4" height="1"/><circle cx="6.5" cy="24.5" r="0.47"/><circle cx="10.5" cy="12.5" r="0.47"/><rect x="10.5" y="12.3" width="1" height="0.4"/><circle cx="2.5" cy="8.5" r="0.47"/><circle cx="2.5" cy="17.5" r="0.47"/><circle cx="25.5" cy="19.5" r="0.47"/><rect x="25.5" y="19.3" width="1" height="0.4"/><rect x="25.3" y="19.5" width="0.4" height="1"/><circle cx="25.5" cy="28.5" r="0.47"/><rect x="25.5" y="28.3" width="1" height="0.4"/><rect x="25.3" y="28.5" width="0.4" height="1"/><circle cx="22.5" cy="13.5" r="0.47"/><rect x="22.5" y="13.3" width="1" height="0.4"/><circle cx="3.5" cy="9.5" r="0.47"/><rect x="3.3" y="9.5" width="0.4" height="1"/><circle cx="14.5" cy="9.5" r="0.47"/><rect x="14.3" y="9.5" width="0.4" height="1"/><circle cx="17.5" cy="20.5" r="0.47"/><rect x="17.5" y="20.3" width="1" height="0.4"/><rect x="17.3" y="20.5" width="0.4" height="1"/><circle cx="28.5" cy="20.5" r="0.47"/><rect x="28.5" y="20.3" width="1" height="0.4"/><circle cx="17.5" cy="29.5" r="0.47"/><circle cx="6.5" cy="10.5" r="0.47"/><rect x="6.5" y="10.3" width="1" height="0.4"/><circle cx="29.5" cy="12.5" r="0.47"/><rect x="29.5" y="12.3" width="1" height="0.4"/><circle cx="21.5" cy="8.5" r="0.47"/><circle cx="29.5" cy="21.5" r="0.47"/><circle cx="21.5" cy="26.5" r="0.47"/><rect x="21.5" y="26.3" width="1" height="0.4"/><circle cx="10.5" cy="16.5" r="0.47"/><rect x="10.5" y="16.3" width="1" height="0.4"/><rect x="10.3" y="16.5" width="0.4" height="1"/><circle cx="2.5" cy="12.5" r="0.47"/><rect x="2.3" y="12.5" width="0.4" height="1"/><circle cx="25.5" cy="14.5" r="0.47"/><rect x="25.5" y="14.3" width="1" height="0.4"/><circle cx="10.5" cy="25.5" r="0.47"/><circle cx="2.5" cy="21.5" r="0.47"/><rect x="2.5" y="21.3" width="1" height="0.4"/><rect x="2.3" y="21.5" width="0.4" height="1"/><circle cx="13.5" cy="27.5" r="0.47"/><circle cx="24.5" cy="27.5" r="0.47"/><rect x="24.3" y="27.5" width="0.4" height="1"/><circle cx="14.5" cy="4.5" r="0.47"/><circle cx="17.5" cy="15.5" r="0.47"/><rect x="17.3" y="15.5" width="0.4" height="1"/><circle cx="28.5" cy="15.5" r="0.47"/><rect x="28.5" y="15.3" width="1" height="0.4"/><circle cx="9.5" cy="11.5" r="0.47"/><rect x="9.5" y="11.3" width="1" height="0.4"/><rect x="9.3" y="11.5" width="0.4" height="1"/><circle cx="5.5" cy="22.5" r="0.47"/><rect x="5.5" y="22.3" width="1" height="0.4"/><circle cx="17.5" cy="24.5" r="0.47"/><rect x="17.5" y="24.3" width="1" height="0.4"/><rect x="17.3" y="24.5" width="0.4" height="1"/><circle cx="28.5" cy="24.5" r="0.47"/><rect x="28.3" y="24.5" width="0.4" height="1"/><circle cx="9.5" cy="20.5" r="0.47"/><rect x="9.5" y="20.3" width="1" height="0.4"/><rect x="9.3" y="20.5" width="0.4" height="1"/><circle cx="9.5" cy="29.5" r="0.47"/><rect x="9.5" y="29.3" width="1" height="0.4"/><rect x="9.3" y="29.5" width="0.4" height="1"/><circle cx="6.5" cy="14.5" r="0.47"/><rect x="6.5" y="14.3" width="1" height="0.4"/><circle cx="29.5" cy="16.5" r="0.47"/><circle cx="21.5" cy="12.5" r="0.47"/><rect x="21.5" y="12.3" width="1" height="0.4"/><circle cx="21.5" cy="21.5" r="0.47"/><rect x="21.5" y="21.3" width="1" height="0.4"/><circle cx="21.5" cy="30.5" r="0.47"/><circle cx="10.5" cy="11.5" r="0.47"/><rect x="10.5" y="11.3" width="1" height="0.4"/><rect x="10.3" y="11.5" width="0.4" height="1"/><circle cx="13.5" cy="13.5" r="0.47"/><rect x="13.3" y="13.5" width="0.4" height="1"/><circle cx="24.5" cy="13.5" r="0.47"/><circle cx="13.5" cy="22.5" r="0.47"/><rect x="13.3" y="22.5" width="0.4" height="1"/><circle cx="24.5" cy="22.5" r="0.47"/><circle cx="16.5" cy="18.5" r="0.47"/><rect x="16.3" y="18.5" width="0.4" height="1"/><circle cx="13.5" cy="31.5" r="0.47"/><circle cx="28.5" cy="10.5" r="0.47"/><rect x="28.3" y="10.5" width="0.4" height="1"/><circle cx="5.5" cy="17.5" r="0.47"/><rect x="5.3" y="17.5" width="0.4" height="1"/><circle cx="28.5" cy="19.5" r="0.47"/><rect x="28.5" y="19.3" width="1" height="0.4"/><rect x="28.3" y="19.5" width="0.4" height="1"/><circle cx="17.5" cy="28.5" r="0.47"/><rect x="17.5" y="28.3" width="1" height="0.4"/><rect x="17.3" y="28.5" width="0.4" height="1"/><circle cx="28.5" cy="28.5" r="0.47"/><circle cx="21.5" cy="7.5" r="0.47"/><rect x="21.5" y="7.3" width="1" height="0.4"/><rect x="21.3" y="7.5" width="0.4" height="1"/><circle cx="6.5" cy="18.5" r="0.47"/><circle cx="21.5" cy="16.5" r="0.47"/><rect x="21.5" y="16.3" width="1" height="0.4"/><circle cx="20.5" cy="20.5" r="0.47"/><circle cx="20.5" cy="29.5" r="0.47"/><rect x="20.3" y="29.5" width="0.4" height="1"/><circle cx="31.5" cy="29.5" r="0.47"/><rect x="31.5" y="29.3" width="1" height="0.4"/><circle cx="10.5" cy="6.5" r="0.47"/><circle cx="12.5" cy="25.5" r="0.47"/><circle cx="32.5" cy="12.5" r="0.47"/><circle cx="13.5" cy="8.5" r="0.47"/><rect x="13.5" y="8.3" width="1" height="0.4"/><circle cx="32.5" cy="21.5" r="0.47"/><circle cx="13.5" cy="17.5" r="0.47"/><rect x="13.3" y="17.5" width="0.4" height="1"/><circle cx="32.5" cy="30.5" r="0.47"/><circle cx="1.5" cy="24.5" r="0.47"/><rect x="1.5" y="24.3" width="1" height="0.4"/><circle cx="24.5" cy="26.5" r="0.47"/><rect x="24.3" y="26.5" width="0.4" height="1"/><circle cx="16.5" cy="22.5" r="0.47"/><rect x="16.5" y="22.3" width="1" height="0.4"/><circle cx="5.5" cy="12.5" r="0.47"/><rect x="5.5" y="12.3" width="1" height="0.4"/><rect x="5.3" y="12.5" width="0.4" height="1"/><circle cx="28.5" cy="14.5" r="0.47"/><rect x="28.5" y="14.3" width="1" height="0.4"/><rect x="28.3" y="14.5" width="0.4" height="1"/><circle cx="5.5" cy="21.5" r="0.47"/><rect x="5.3" y="21.5" width="0.4" height="1"/><circle cx="17.5" cy="23.5" r="0.47"/><rect x="17.3" y="23.5" width="0.4" height="1"/><circle cx="28.5" cy="23.5" r="0.47"/><rect x="28.5" y="23.3" width="1" height="0.4"/><rect x="28.3" y="23.5" width="0.4" height="1"/><circle cx="9.5" cy="19.5" r="0.47"/><rect x="9.3" y="19.5" width="0.4" height="1"/><circle cx="21.5" cy="2.5" r="0.47"/><rect x="21.5" y="2.3" width="1" height="0.4"/><circle cx="19.5" cy="32.5" r="0.47"/><rect x="19.5" y="32.3" width="1" height="0.4"/><circle cx="31.5" cy="24.5" r="0.47"/><circle cx="12.5" cy="29.5" r="0.47"/><circle cx="23.5" cy="29.5" r="0.47"/><rect x="23.5" y="29.3" width="1" height="0.4"/><circle cx="24.5" cy="3.5" r="0.47"/><rect x="24.3" y="3.5" width="0.4" height="1"/><circle cx="32.5" cy="25.5" r="0.47"/><circle cx="16.5" cy="8.5" r="0.47"/><rect x="16.3" y="8.5" width="0.4" height="1"/><circle cx="13.5" cy="21.5" r="0.47"/><rect x="13.5" y="21.3" width="1" height="0.4"/><rect x="13.3" y="21.5" width="0.4" height="1"/><circle cx="16.5" cy="17.5" r="0.47"/><rect x="16.3" y="17.5" width="0.4" height="1"/><circle cx="13.5" cy="30.5" r="0.47"/><rect x="13.5" y="30.3" width="1" height="0.4"/><rect x="13.3" y="30.5" width="0.4" height="1"/><circle cx="16.5" cy="26.5" r="0.47"/><rect x="16.5" y="26.3" width="1" height="0.4"/><circle cx="28.5" cy="9.5" r="0.47"/><rect x="28.5" y="9.3" width="1" height="0.4"/><rect x="28.3" y="9.5" width="0.4" height="1"/><circle cx="9.5" cy="5.5" r="0.47"/><rect x="9.5" y="5.3" width="1" height="0.4"/><circle cx="9.5" cy="14.5" r="0.47"/><rect x="9.5" y="14.3" width="1" height="0.4"/><circle cx="27.5" cy="22.5" r="0.47"/><rect x="27.3" y="22.5" width="0.4" height="1"/><circle cx="27.5" cy="31.5" r="0.47"/><circle cx="30.5" cy="27.5" r="0.47"/><rect x="30.5" y="27.3" width="1" height="0.4"/><circle cx="20.5" cy="1.5" r="0.47"/><circle cx="20.5" cy="10.5" r="0.47"/><rect x="20.5" y="10.3" width="1" height="0.4"/><circle cx="12.5" cy="6.5" r="0.47"/><rect x="12.3" y="6.5" width="0.4" height="1"/><circle cx="31.5" cy="19.5" r="0.47"/><circle cx="31.5" cy="28.5" r="0.47"/><rect x="31.5" y="28.3" width="1" height="0.4"/><rect x="31.3" y="28.5" width="0.4" height="1"/><circle cx="12.5" cy="24.5" r="0.47"/><rect x="12.5" y="24.3" width="1" height="0.4"/><rect x="12.3" y="24.5" width="0.4" height="1"/><circle cx="4.5" cy="20.5" r="0.47"/><rect x="4.5" y="20.3" width="1" height="0.4"/><circle cx="32.5" cy="11.5" r="0.47"/><rect x="32.3" y="11.5" width="0.4" height="1"/><circle cx="13.5" cy="7.5" r="0.47"/><rect x="13.5" y="7.3" width="1" height="0.4"/><rect x="13.3" y="7.5" width="0.4" height="1"/><circle cx="16.5" cy="3.5" r="0.47"/><rect x="16.3" y="3.5" width="0.4" height="1"/><circle cx="24.5" cy="16.5" r="0.47"/><circle cx="1.5" cy="23.5" r="0.47"/><rect x="1.3" y="23.5" width="0.4" height="1"/><circle cx="24.5" cy="25.5" r="0.47"/><rect x="24.3" y="25.5" width="0.4" height="1"/><circle cx="16.5" cy="21.5" r="0.47"/><rect x="16.5" y="21.3" width="1" height="0.4"/><rect x="16.3" y="21.5" width="0.4" height="1"/><circle cx="16.5" cy="30.5" r="0.47"/><circle cx="5.5" cy="11.5" r="0.47"/><rect x="5.3" y="11.5" width="0.4" height="1"/><circle cx="9.5" cy="9.5" r="0.47"/><circle cx="27.5" cy="17.5" r="0.47"/><rect x="27.5" y="17.3" width="1" height="0.4"/><circle cx="8.5" cy="22.5" r="0.47"/><circle cx="30.5" cy="22.5" r="0.47"/><rect x="30.5" y="22.3" width="1" height="0.4"/><circle cx="0.5" cy="18.5" r="0.47"/><rect x="0.5" y="18.3" width="1" height="0.4"/><rect x="0.3" y="18.5" width="0.4" height="1"/><circle cx="11.5" cy="18.5" r="0.47"/><rect x="11.5" y="18.3" width="1" height="0.4"/><rect x="11.3" y="18.5" width="0.4" height="1"/><circle cx="8.5" cy="31.5" r="0.47"/><circle cx="11.5" cy="27.5" r="0.47"/><circle cx="20.5" cy="5.5" r="0.47"/><rect x="20.5" y="5.3" width="1" height="0.4"/><rect x="20.3" y="5.5" width="0.4" height="1"/><circle cx="23.5" cy="1.5" r="0.47"/><circle cx="12.5" cy="10.5" r="0.47"/><circle cx="23.5" cy="10.5" r="0.47"/><rect x="23.5" y="10.3" width="1" height="0.4"/><circle cx="23.5" cy="19.5" r="0.47"/><circle cx="20.5" cy="32.5" r="0.47"/><rect x="20.5" y="32.3" width="1" height="0.4"/><circle cx="4.5" cy="15.5" r="0.47"/><rect x="4.3" y="15.5" width="0.4" height="1"/><circle cx="31.5" cy="32.5" r="0.47"/><circle cx="23.5" cy="28.5" r="0.47"/><rect x="23.5" y="28.3" width="1" height="0.4"/><rect x="23.3" y="28.5" width="0.4" height="1"/><circle cx="1.5" cy="9.5" r="0.47"/><circle cx="24.5" cy="11.5" r="0.47"/><circle cx="16.5" cy="7.5" r="0.47"/><rect x="16.3" y="7.5" width="0.4" height="1"/><circle cx="1.5" cy="18.5" r="0.47"/><circle cx="16.5" cy="16.5" r="0.47"/><rect x="16.5" y="16.3" width="1" height="0.4"/><rect x="16.3" y="16.5" width="0.4" height="1"/><circle cx="15.5" cy="20.5" r="0.47"/><rect x="15.3" y="20.5" width="0.4" height="1"/><circle cx="15.5" cy="29.5" r="0.47"/><rect x="15.5" y="29.3" width="1" height="0.4"/><rect x="15.3" y="29.5" width="0.4" height="1"/><circle cx="27.5" cy="12.5" r="0.47"/><circle cx="19.5" cy="8.5" r="0.47"/><circle cx="30.5" cy="8.5" r="0.47"/><rect x="30.5" y="8.3" width="1" height="0.4"/><circle cx="27.5" cy="21.5" r="0.47"/><rect x="27.3" y="21.5" width="0.4" height="1"/><circle cx="8.5" cy="17.5" r="0.47"/><rect x="8.3" y="17.5" width="0.4" height="1"/><circle cx="27.5" cy="30.5" r="0.47"/><rect x="27.5" y="30.3" width="1" height="0.4"/><rect x="27.3" y="30.5" width="0.4" height="1"/><circle cx="0.5" cy="13.5" r="0.47"/><rect x="0.5" y="13.3" width="1" height="0.4"/><circle cx="11.5" cy="13.5" r="0.47"/><rect x="11.5" y="13.3" width="1" height="0.4"/><rect x="11.3" y="13.5" width="0.4" height="1"/><circle cx="30.5" cy="26.5" r="0.47"/><rect x="30.5" y="26.3" width="1" height="0.4"/><rect x="30.3" y="26.5" width="0.4" height="1"/><circle cx="20.5" cy="0.5" r="0.47"/><rect x="20.5" y="0.3" width="1" height="0.4"/><rect x="20.3" y="0.5" width="0.4" height="1"/><circle cx="20.5" cy="9.5" r="0.47"/><rect x="20.3" y="9.5" width="0.4" height="1"/><circle cx="23.5" cy="5.5" r="0.47"/><rect x="23.5" y="5.3" width="1" height="0.4"/><circle cx="20.5" cy="18.5" r="0.47"/><circle cx="12.5" cy="14.5" r="0.47"/><rect x="12.5" y="14.3" width="1" height="0.4"/><circle cx="23.5" cy="14.5" r="0.47"/><circle cx="4.5" cy="10.5" r="0.47"/><rect x="4.5" y="10.3" width="1" height="0.4"/><circle cx="12.5" cy="23.5" r="0.47"/><rect x="12.5" y="23.3" width="1" height="0.4"/><rect x="12.3" y="23.5" width="0.4" height="1"/><circle cx="24.5" cy="6.5" r="0.47"/><circle cx="16.5" cy="2.5" r="0.47"/><rect x="16.5" y="2.3" width="1" height="0.4"/><rect x="16.3" y="2.5" width="0.4" height="1"/><circle cx="1.5" cy="13.5" r="0.47"/><rect x="1.5" y="13.3" width="1" height="0.4"/><circle cx="26.5" cy="15.5" r="0.47"/><rect x="26.5" y="15.3" width="1" height="0.4"/><circle cx="26.5" cy="24.5" r="0.47"/><rect x="26.5" y="24.3" width="1" height="0.4"/><circle cx="7.5" cy="20.5" r="0.47"/><circle cx="18.5" cy="20.5" r="0.47"/><circle cx="8.5" cy="3.5" r="0.47"/><circle cx="27.5" cy="16.5" r="0.47"/><rect x="27.3" y="16.5" width="0.4" height="1"/><circle cx="19.5" cy="12.5" r="0.47"/><rect x="19.5" y="12.3" width="1" height="0.4"/><circle cx="30.5" cy="12.5" r="0.47"/><rect x="30.5" y="12.3" width="1" height="0.4"/><circle cx="11.5" cy="8.5" r="0.47"/><circle cx="8.5" cy="21.5" r="0.47"/><rect x="8.5" y="21.3" width="1" height="0.4"/><rect x="8.3" y="21.5" width="0.4" height="1"/><circle cx="19.5" cy="21.5" r="0.47"/><circle cx="0.5" cy="17.5" r="0.47"/><rect x="0.3" y="17.5" width="0.4" height="1"/><circle cx="8.5" cy="30.5" r="0.47"/><rect x="8.5" y="30.3" width="1" height="0.4"/><rect x="8.3" y="30.5" width="0.4" height="1"/><circle cx="11.5" cy="26.5" r="0.47"/><rect x="11.3" y="26.5" width="0.4" height="1"/><circle cx="20.5" cy="4.5" r="0.47"/><rect x="20.5" y="4.3" width="1" height="0.4"/><rect x="20.3" y="4.5" width="0.4" height="1"/><circle cx="12.5" cy="9.5" r="0.47"/><rect x="12.3" y="9.5" width="0.4" height="1"/><circle cx="23.5" cy="18.5" r="0.47"/><rect x="23.3" y="18.5" width="0.4" height="1"/><circle cx="22.5" cy="31.5" r="0.47"/><rect x="22.5" y="31.3" width="1" height="0.4"/><rect x="22.3" y="31.5" width="0.4" height="1"/><circle cx="15.5" cy="10.5" r="0.47"/><rect x="15.5" y="10.3" width="1" height="0.4"/><rect x="15.3" y="10.5" width="0.4" height="1"/><circle cx="18.5" cy="6.5" r="0.47"/><circle cx="15.5" cy="19.5" r="0.47"/><rect x="15.5" y="19.3" width="1" height="0.4"/><rect x="15.3" y="19.5" width="0.4" height="1"/><circle cx="26.5" cy="19.5" r="0.47"/><rect x="26.3" y="19.5" width="0.4" height="1"/><circle cx="15.5" cy="28.5" r="0.47"/><rect x="15.5" y="28.3" width="1" height="0.4"/><rect x="15.3" y="28.5" width="0.4" height="1"/><circle cx="26.5" cy="28.5" r="0.47"/><rect x="26.5" y="28.3" width="1" height="0.4"/><circle cx="18.5" cy="24.5" r="0.47"/><rect x="18.5" y="24.3" width="1" height="0.4"/><circle cx="19.5" cy="7.5" r="0.47"/><rect x="19.3" y="7.5" width="0.4" height="1"/><circle cx="27.5" cy="20.5" r="0.47"/><rect x="27.5" y="20.3" width="1" height="0.4"/><rect x="27.3" y="20.5" width="0.4" height="1"/><circle cx="11.5" cy="3.5" r="0.47"/><circle cx="19.5" cy="16.5" r="0.47"/><circle cx="0.5" cy="12.5" r="0.47"/><rect x="0.3" y="12.5" width="0.4" height="1"/><circle cx="11.5" cy="12.5" r="0.47"/><rect x="11.5" y="12.3" width="1" height="0.4"/><rect x="11.3" y="12.5" width="0.4" height="1"/><circle cx="23.5" cy="4.5" r="0.47"/><rect x="23.5" y="4.3" width="1" height="0.4"/><rect x="23.3" y="4.5" width="0.4" height="1"/><circle cx="3.5" cy="13.5" r="0.47"/><rect x="3.5" y="13.3" width="1" height="0.4"/><rect x="3.3" y="13.5" width="0.4" height="1"/><circle cx="22.5" cy="26.5" r="0.47"/><rect x="22.5" y="26.3" width="1" height="0.4"/><circle cx="3.5" cy="22.5" r="0.47"/><circle cx="26.5" cy="14.5" r="0.47"/><rect x="26.5" y="14.3" width="1" height="0.4"/><rect x="26.3" y="14.5" width="0.4" height="1"/><circle cx="7.5" cy="10.5" r="0.47"/><rect x="7.3" y="10.5" width="0.4" height="1"/><circle cx="15.5" cy="23.5" r="0.47"/><circle cx="26.5" cy="23.5" r="0.47"/><rect x="26.5" y="23.3" width="1" height="0.4"/><rect x="26.3" y="23.5" width="0.4" height="1"/><circle cx="18.5" cy="28.5" r="0.47"/><rect x="18.5" y="28.3" width="1" height="0.4"/><circle cx="8.5" cy="2.5" r="0.47"/><rect x="8.3" y="2.5" width="0.4" height="1"/><circle cx="19.5" cy="2.5" r="0.47"/><circle cx="19.5" cy="11.5" r="0.47"/><rect x="19.3" y="11.5" width="0.4" height="1"/><circle cx="11.5" cy="16.5" r="0.47"/><circle cx="10.5" cy="20.5" r="0.47"/><circle cx="10.5" cy="29.5" r="0.47"/><rect x="10.5" y="29.3" width="1" height="0.4"/><circle cx="22.5" cy="3.5" r="0.47"/><rect x="22.5" y="3.3" width="1" height="0.4"/><circle cx="22.5" cy="12.5" r="0.47"/><rect x="22.5" y="12.3" width="1" height="0.4"/><rect x="22.3" y="12.5" width="0.4" height="1"/><circle cx="14.5" cy="8.5" r="0.47"/><rect x="14.5" y="8.3" width="1" height="0.4"/><rect x="14.3" y="8.5" width="0.4" height="1"/><circle cx="22.5" cy="21.5" r="0.47"/><circle cx="14.5" cy="26.5" r="0.47"/><rect x="14.5" y="26.3" width="1" height="0.4"/><circle cx="15.5" cy="0.5" r="0.47"/><circle cx="26.5" cy="9.5" r="0.47"/><rect x="26.5" y="9.3" width="1" height="0.4"/><circle cx="18.5" cy="5.5" r="0.47"/><rect x="18.5" y="5.3" width="1" height="0.4"/><rect x="18.3" y="5.5" width="0.4" height="1"/><circle cx="15.5" cy="18.5" r="0.47"/><rect x="15.5" y="18.3" width="1" height="0.4"/><rect x="15.3" y="18.5" width="0.4" height="1"/><circle cx="7.5" cy="14.5" r="0.47"/><rect x="7.5" y="14.3" width="1" height="0.4"/><circle cx="18.5" cy="14.5" r="0.47"/><rect x="18.5" y="14.3" width="1" height="0.4"/><circle cx="7.5" cy="23.5" r="0.47"/><circle cx="29.5" cy="20.5" r="0.47"/><rect x="29.3" y="20.5" width="0.4" height="1"/><circle cx="21.5" cy="25.5" r="0.47"/><rect x="21.5" y="25.3" width="1" height="0.4"/><rect x="21.3" y="25.5" width="0.4" height="1"/><circle cx="10.5" cy="15.5" r="0.47"/><rect x="10.3" y="15.5" width="0.4" height="1"/><circle cx="25.5" cy="31.5" r="0.47"/><circle cx="22.5" cy="7.5" r="0.47"/><circle cx="14.5" cy="3.5" r="0.47"/><rect x="14.3" y="3.5" width="0.4" height="1"/><circle cx="22.5" cy="16.5" r="0.47"/><circle cx="14.5" cy="12.5" r="0.47"/><rect x="14.5" y="12.3" width="1" height="0.4"/><circle cx="22.5" cy="25.5" r="0.47"/><rect x="22.3" y="25.5" width="0.4" height="1"/><circle cx="3.5" cy="21.5" r="0.47"/><rect x="3.3" y="21.5" width="0.4" height="1"/><circle cx="14.5" cy="21.5" r="0.47"/><rect x="14.5" y="21.3" width="1" height="0.4"/><circle cx="14.5" cy="30.5" r="0.47"/><rect x="14.5" y="30.3" width="1" height="0.4"/><circle cx="17.5" cy="32.5" r="0.47"/><circle cx="18.5" cy="18.5" r="0.47"/><circle cx="29.5" cy="15.5" r="0.47"/><rect x="29.3" y="15.5" width="0.4" height="1"/><circle cx="6.5" cy="22.5" r="0.47"/><circle cx="25.5" cy="8.5" r="0.47"/><circle cx="2.5" cy="15.5" r="0.47"/><circle cx="10.5" cy="28.5" r="0.47"/><rect x="10.3" y="28.5" width="0.4" height="1"/><circle cx="2.5" cy="24.5" r="0.47"/><circle cx="22.5" cy="2.5" r="0.47"/><rect x="22.3" y="2.5" width="0.4" height="1"/><circle cx="22.5" cy="11.5" r="0.47"/><rect x="22.3" y="11.5" width="0.4" height="1"/><circle cx="14.5" cy="7.5" r="0.47"/><rect x="14.5" y="7.3" width="1" height="0.4"/><rect x="14.3" y="7.5" width="0.4" height="1"/><circle cx="3.5" cy="16.5" r="0.47"/><rect x="3.5" y="16.3" width="1" height="0.4"/><circle cx="28.5" cy="27.5" r="0.47"/><rect x="28.5" y="27.3" width="1" height="0.4"/><rect x="28.3" y="27.5" width="0.4" height="1"/><circle cx="18.5" cy="4.5" r="0.47"/><rect x="18.3" y="4.5" width="0.4" height="1"/><circle cx="9.5" cy="23.5" r="0.47"/><rect x="9.5" y="23.3" width="1" height="0.4"/><circle cx="9.5" cy="32.5" r="0.47"/><rect x="9.5" y="32.3" width="1" height="0.4"/><circle cx="6.5" cy="8.5" r="0.47"/><circle cx="29.5" cy="19.5" r="0.47"/><rect x="29.5" y="19.3" width="1" height="0.4"/><rect x="29.3" y="19.5" width="0.4" height="1"/><circle cx="21.5" cy="24.5" r="0.47"/><rect x="21.3" y="24.5" width="0.4" height="1"/><circle cx="10.5" cy="5.5" r="0.47"/><rect x="10.3" y="5.5" width="0.4" height="1"/><circle cx="10.5" cy="14.5" r="0.47"/><rect x="10.5" y="14.3" width="1" height="0.4"/><rect x="10.3" y="14.5" width="0.4" height="1"/><circle cx="2.5" cy="10.5" r="0.47"/><rect x="2.5" y="10.3" width="1" height="0.4"/><circle cx="25.5" cy="12.5" r="0.47"/><circle cx="10.5" cy="23.5" r="0.47"/><circle cx="2.5" cy="19.5" r="0.47"/><circle cx="10.5" cy="32.5" r="0.47"/><circle cx="32.5" cy="29.5" r="0.47"/><rect x="32.3" y="29.5" width="0.4" height="1"/><circle cx="22.5" cy="6.5" r="0.47"/><rect x="22.3" y="6.5" width="0.4" height="1"/><circle cx="5.5" cy="20.5" r="0.47"/><rect x="5.5" y="20.3" width="1" height="0.4"/><rect x="5.3" y="20.5" width="0.4" height="1"/><circle cx="17.5" cy="22.5" r="0.47"/><rect x="17.5" y="22.3" width="1" height="0.4"/><rect x="17.3" y="22.5" width="0.4" height="1"/><circle cx="9.5" cy="27.5" r="0.47"/><rect x="9.5" y="27.3" width="1" height="0.4"/><circle cx="6.5" cy="12.5" r="0.47"/><rect x="6.5" y="12.3" width="1" height="0.4"/><circle cx="29.5" cy="14.5" r="0.47"/><rect x="29.3" y="14.5" width="0.4" height="1"/><circle cx="21.5" cy="10.5" r="0.47"/><rect x="21.5" y="10.3" width="1" height="0.4"/><circle cx="29.5" cy="23.5" r="0.47"/><circle cx="10.5" cy="0.5" r="0.47"/><rect x="10.5" y="0.3" width="1" height="0.4"/><circle cx="32.5" cy="15.5" r="0.47"/><circle cx="24.5" cy="29.5" r="0.47"/><rect x="24.5" y="29.3" width="1" height="0.4"/><circle cx="14.5" cy="6.5" r="0.47"/><rect x="14.3" y="6.5" width="0.4" height="1"/><circle cx="16.5" cy="25.5" r="0.47"/><rect x="16.5" y="25.3" width="1" height="0.4"/><rect x="16.3" y="25.5" width="0.4" height="1"/><circle cx="28.5" cy="17.5" r="0.47"/><circle cx="5.5" cy="24.5" r="0.47"/><rect x="5.5" y="24.3" width="1" height="0.4"/><circle cx="17.5" cy="26.5" r="0.47"/><circle cx="28.5" cy="26.5" r="0.47"/><rect x="28.3" y="26.5" width="0.4" height="1"/><circle cx="29.5" cy="9.5" r="0.47"/><circle cx="21.5" cy="5.5" r="0.47"/><rect x="21.5" y="5.3" width="1" height="0.4"/><circle cx="6.5" cy="16.5" r="0.47"/><circle cx="29.5" cy="18.5" r="0.47"/><rect x="29.3" y="18.5" width="0.4" height="1"/><circle cx="31.5" cy="27.5" r="0.47"/><rect x="31.3" y="27.5" width="0.4" height="1"/><circle cx="10.5" cy="4.5" r="0.47"/><rect x="10.3" y="4.5" width="0.4" height="1"/><circle cx="12.5" cy="32.5" r="0.47"/><circle cx="23.5" cy="32.5" r="0.47"/><circle cx="32.5" cy="10.5" r="0.47"/><rect x="32.3" y="10.5" width="0.4" height="1"/><circle cx="24.5" cy="15.5" r="0.47"/><rect x="24.3" y="15.5" width="0.4" height="1"/><circle cx="13.5" cy="15.5" r="0.47"/><rect x="13.5" y="15.3" width="1" height="0.4"/><circle cx="32.5" cy="28.5" r="0.47"/><rect x="32.3" y="28.5" width="0.4" height="1"/><circle cx="16.5" cy="11.5" r="0.47"/><circle cx="1.5" cy="22.5" r="0.47"/><rect x="1.5" y="22.3" width="1" height="0.4"/><rect x="1.3" y="22.5" width="0.4" height="1"/><circle cx="13.5" cy="24.5" r="0.47"/><circle cx="24.5" cy="24.5" r="0.47"/><rect x="24.5" y="24.3" width="1" height="0.4"/><rect x="24.3" y="24.5" width="0.4" height="1"/><circle cx="16.5" cy="29.5" r="0.47"/><rect x="16.5" y="29.3" width="1" height="0.4"/><rect x="16.3" y="29.5" width="0.4" height="1"/><circle cx="5.5" cy="10.5" r="0.47"/><rect x="5.5" y="10.3" width="1" height="0.4"/><rect x="5.3" y="10.5" width="0.4" height="1"/><circle cx="9.5" cy="8.5" r="0.47"/><rect x="9.5" y="8.3" width="1" height="0.4"/><rect x="9.3" y="8.5" width="0.4" height="1"/><circle cx="5.5" cy="19.5" r="0.47"/><rect x="5.3" y="19.5" width="0.4" height="1"/><circle cx="17.5" cy="21.5" r="0.47"/><rect x="17.3" y="21.5" width="0.4" height="1"/><circle cx="28.5" cy="30.5" r="0.47"/><circle cx="9.5" cy="26.5" r="0.47"/><rect x="9.3" y="26.5" width="0.4" height="1"/><circle cx="21.5" cy="0.5" r="0.47"/><circle cx="6.5" cy="20.5" r="0.47"/><rect x="6.5" y="20.3" width="1" height="0.4"/><circle cx="31.5" cy="22.5" r="0.47"/><circle cx="12.5" cy="18.5" r="0.47"/><rect x="12.5" y="18.3" width="1" height="0.4"/><circle cx="20.5" cy="31.5" r="0.47"/><rect x="20.3" y="31.5" width="0.4" height="1"/><circle cx="4.5" cy="23.5" r="0.47"/><circle cx="13.5" cy="1.5" r="0.47"/><circle cx="1.5" cy="8.5" r="0.47"/><rect x="1.5" y="8.3" width="1" height="0.4"/><rect x="1.3" y="8.5" width="0.4" height="1"/><circle cx="24.5" cy="10.5" r="0.47"/><rect x="24.3" y="10.5" width="0.4" height="1"/><circle cx="32.5" cy="23.5" r="0.47"/><circle cx="16.5" cy="6.5" r="0.47"/><rect x="16.3" y="6.5" width="0.4" height="1"/><circle cx="16.5" cy="15.5" r="0.47"/><rect x="16.5" y="15.3" width="1" height="0.4"/><rect x="16.3" y="15.5" width="0.4" height="1"/><circle cx="24.5" cy="28.5" r="0.47"/><rect x="24.5" y="28.3" width="1" height="0.4"/><rect x="24.3" y="28.5" width="0.4" height="1"/><circle cx="5.5" cy="14.5" r="0.47"/><rect x="5.5" y="14.3" width="1" height="0.4"/><circle cx="17.5" cy="16.5" r="0.47"/><rect x="17.5" y="16.3" width="1" height="0.4"/><circle cx="9.5" cy="12.5" r="0.47"/><rect x="9.5" y="12.3" width="1" height="0.4"/><circle cx="9.5" cy="21.5" r="0.47"/><circle cx="27.5" cy="29.5" r="0.47"/><rect x="27.3" y="29.5" width="0.4" height="1"/><circle cx="21.5" cy="4.5" r="0.47"/><rect x="21.3" y="4.5" width="0.4" height="1"/><circle cx="31.5" cy="8.5" r="0.47"/><circle cx="20.5" cy="17.5" r="0.47"/><rect x="20.3" y="17.5" width="0.4" height="1"/><circle cx="12.5" cy="13.5" r="0.47"/><rect x="12.5" y="13.3" width="1" height="0.4"/><rect x="12.3" y="13.5" width="0.4" height="1"/><circle cx="23.5" cy="13.5" r="0.47"/><rect x="23.5" y="13.3" width="1" height="0.4"/><rect x="23.3" y="13.5" width="0.4" height="1"/><circle cx="31.5" cy="26.5" r="0.47"/><rect x="31.3" y="26.5" width="0.4" height="1"/><circle cx="23.5" cy="31.5" r="0.47"/><rect x="23.3" y="31.5" width="0.4" height="1"/><circle cx="13.5" cy="5.5" r="0.47"/><circle cx="24.5" cy="5.5" r="0.47"/><rect x="24.3" y="5.5" width="0.4" height="1"/><circle cx="13.5" cy="14.5" r="0.47"/><rect x="13.5" y="14.3" width="1" height="0.4"/><rect x="13.3" y="14.5" width="0.4" height="1"/><circle cx="16.5" cy="10.5" r="0.47"/><rect x="16.3" y="10.5" width="0.4" height="1"/><circle cx="1.5" cy="21.5" r="0.47"/><rect x="1.5" y="21.3" width="1" height="0.4"/><rect x="1.3" y="21.5" width="0.4" height="1"/><circle cx="13.5" cy="23.5" r="0.47"/><rect x="13.5" y="23.3" width="1" height="0.4"/><rect x="13.3" y="23.5" width="0.4" height="1"/><circle cx="16.5" cy="19.5" r="0.47"/><circle cx="16.5" cy="28.5" r="0.47"/><rect x="16.5" y="28.3" width="1" height="0.4"/><rect x="16.3" y="28.5" width="0.4" height="1"/><circle cx="17.5" cy="2.5" r="0.47"/><circle cx="5.5" cy="9.5" r="0.47"/><rect x="5.3" y="9.5" width="0.4" height="1"/><circle cx="28.5" cy="11.5" r="0.47"/><circle cx="5.5" cy="18.5" r="0.47"/><rect x="5.5" y="18.3" width="1" height="0.4"/><rect x="5.3" y="18.5" width="0.4" height="1"/><circle cx="9.5" cy="16.5" r="0.47"/><rect x="9.5" y="16.3" width="1" height="0.4"/><circle cx="27.5" cy="15.5" r="0.47"/><rect x="27.5" y="15.3" width="1" height="0.4"/><rect x="27.3" y="15.5" width="0.4" height="1"/><circle cx="27.5" cy="24.5" r="0.47"/><rect x="27.5" y="24.3" width="1" height="0.4"/><circle cx="20.5" cy="3.5" r="0.47"/><rect x="20.3" y="3.5" width="0.4" height="1"/><circle cx="20.5" cy="12.5" r="0.47"/><rect x="20.5" y="12.3" width="1" height="0.4"/><circle cx="31.5" cy="12.5" r="0.47"/><rect x="31.5" y="12.3" width="1" height="0.4"/><circle cx="20.5" cy="30.5" r="0.47"/><rect x="20.5" y="30.3" width="1" height="0.4"/><rect x="20.3" y="30.5" width="0.4" height="1"/><circle cx="4.5" cy="13.5" r="0.47"/><rect x="4.5" y="13.3" width="1" height="0.4"/><circle cx="23.5" cy="26.5" r="0.47"/><rect x="23.5" y="26.3" width="1" height="0.4"/><circle cx="13.5" cy="0.5" r="0.47"/><rect x="13.3" y="0.5" width="0.4" height="1"/><circle cx="24.5" cy="0.5" r="0.47"/><circle cx="24.5" cy="9.5" r="0.47"/><rect x="24.3" y="9.5" width="0.4" height="1"/><circle cx="13.5" cy="18.5" r="0.47"/><circle cx="16.5" cy="14.5" r="0.47"/><rect x="16.3" y="14.5" width="0.4" height="1"/><circle cx="5.5" cy="13.5" r="0.47"/><rect x="5.3" y="13.5" width="0.4" height="1"/><circle cx="27.5" cy="10.5" r="0.47"/><rect x="27.5" y="10.3" width="1" height="0.4"/><circle cx="8.5" cy="6.5" r="0.47"/><circle cx="27.5" cy="28.5" r="0.47"/><rect x="27.5" y="28.3" width="1" height="0.4"/><rect x="27.3" y="28.5" width="0.4" height="1"/><circle cx="11.5" cy="11.5" r="0.47"/><rect x="11.3" y="11.5" width="0.4" height="1"/><circle cx="8.5" cy="24.5" r="0.47"/><circle cx="19.5" cy="24.5" r="0.47"/><circle cx="0.5" cy="20.5" r="0.47"/><circle cx="11.5" cy="29.5" r="0.47"/><rect x="11.5" y="29.3" width="1" height="0.4"/><circle cx="23.5" cy="3.5" r="0.47"/><rect x="23.5" y="3.3" width="1" height="0.4"/><rect x="23.3" y="3.5" width="0.4" height="1"/><circle cx="31.5" cy="16.5" r="0.47"/><circle cx="12.5" cy="12.5" r="0.47"/><rect x="12.3" y="12.5" width="0.4" height="1"/><circle cx="23.5" cy="12.5" r="0.47"/><rect x="23.3" y="12.5" width="0.4" height="1"/><circle cx="12.5" cy="21.5" r="0.47"/><rect x="12.5" y="21.3" width="1" height="0.4"/><circle cx="13.5" cy="4.5" r="0.47"/><rect x="13.5" y="4.3" width="1" height="0.4"/><rect x="13.3" y="4.5" width="0.4" height="1"/><circle cx="24.5" cy="4.5" r="0.47"/><rect x="24.3" y="4.5" width="0.4" height="1"/><circle cx="16.5" cy="9.5" r="0.47"/><rect x="16.3" y="9.5" width="0.4" height="1"/><circle cx="26.5" cy="22.5" r="0.47"/><rect x="26.5" y="22.3" width="1" height="0.4"/><rect x="26.3" y="22.5" width="0.4" height="1"/><circle cx="18.5" cy="27.5" r="0.47"/><rect x="18.3" y="27.5" width="0.4" height="1"/><circle cx="8.5" cy="1.5" r="0.47"/><rect x="8.3" y="1.5" width="0.4" height="1"/><circle cx="19.5" cy="1.5" r="0.47"/><rect x="19.5" y="1.3" width="1" height="0.4"/><rect x="19.3" y="1.5" width="0.4" height="1"/><circle cx="27.5" cy="14.5" r="0.47"/><rect x="27.5" y="14.3" width="1" height="0.4"/><rect x="27.3" y="14.5" width="0.4" height="1"/><circle cx="27.5" cy="23.5" r="0.47"/><rect x="27.5" y="23.3" width="1" height="0.4"/><rect x="27.3" y="23.5" width="0.4" height="1"/><circle cx="8.5" cy="19.5" r="0.47"/><rect x="8.5" y="19.3" width="1" height="0.4"/><circle cx="19.5" cy="19.5" r="0.47"/><circle cx="30.5" cy="19.5" r="0.47"/><rect x="30.5" y="19.3" width="1" height="0.4"/><circle cx="19.5" cy="28.5" r="0.47"/><circle cx="31.5" cy="11.5" r="0.47"/><rect x="31.5" y="11.3" width="1" height="0.4"/><rect x="31.3" y="11.5" width="0.4" height="1"/><circle cx="12.5" cy="7.5" r="0.47"/><rect x="12.5" y="7.3" width="1" height="0.4"/><circle cx="4.5" cy="12.5" r="0.47"/><rect x="4.5" y="12.3" width="1" height="0.4"/><rect x="4.3" y="12.5" width="0.4" height="1"/><circle cx="16.5" cy="4.5" r="0.47"/><circle cx="15.5" cy="8.5" r="0.47"/><rect x="15.5" y="8.3" width="1" height="0.4"/><circle cx="15.5" cy="17.5" r="0.47"/><rect x="15.5" y="17.3" width="1" height="0.4"/><rect x="15.3" y="17.5" width="0.4" height="1"/><circle cx="7.5" cy="13.5" r="0.47"/><rect x="7.3" y="13.5" width="0.4" height="1"/><circle cx="18.5" cy="13.5" r="0.47"/><rect x="18.3" y="13.5" width="0.4" height="1"/><circle cx="15.5" cy="26.5" r="0.47"/><rect x="15.5" y="26.3" width="1" height="0.4"/><circle cx="26.5" cy="26.5" r="0.47"/><circle cx="18.5" cy="22.5" r="0.47"/><circle cx="18.5" cy="31.5" r="0.47"/><circle cx="27.5" cy="9.5" r="0.47"/><rect x="27.5" y="9.3" width="1" height="0.4"/><rect x="27.3" y="9.5" width="0.4" height="1"/><circle cx="8.5" cy="5.5" r="0.47"/><rect x="8.5" y="5.3" width="1" height="0.4"/><rect x="8.3" y="5.5" width="0.4" height="1"/><circle cx="19.5" cy="5.5" r="0.47"/><rect x="19.5" y="5.3" width="1" height="0.4"/><circle cx="11.5" cy="1.5" r="0.47"/><circle cx="8.5" cy="14.5" r="0.47"/><rect x="8.5" y="14.3" width="1" height="0.4"/><circle cx="19.5" cy="14.5" r="0.47"/><circle cx="11.5" cy="10.5" r="0.47"/><rect x="11.5" y="10.3" width="1" height="0.4"/><rect x="11.3" y="10.5" width="0.4" height="1"/><circle cx="19.5" cy="23.5" r="0.47"/><rect x="19.3" y="23.5" width="0.4" height="1"/><circle cx="0.5" cy="19.5" r="0.47"/><rect x="0.3" y="19.5" width="0.4" height="1"/><circle cx="11.5" cy="19.5" r="0.47"/><circle cx="20.5" cy="6.5" r="0.47"/><circle cx="12.5" cy="2.5" r="0.47"/><circle cx="4.5" cy="16.5" r="0.47"/><circle cx="22.5" cy="15.5" r="0.47"/><rect x="22.3" y="15.5" width="0.4" height="1"/><circle cx="3.5" cy="20.5" r="0.47"/><rect x="3.5" y="20.3" width="1" height="0.4"/><rect x="3.3" y="20.5" width="0.4" height="1"/><circle cx="14.5" cy="29.5" r="0.47"/><rect x="14.5" y="29.3" width="1" height="0.4"/><rect x="14.3" y="29.5" width="0.4" height="1"/><circle cx="15.5" cy="12.5" r="0.47"/><path d="M0,0 h7 v7 h-7 Z M1,1 v5 h5 v-5 Z" fill-rule="evenodd"/><rect x="2" y="2" width="3" height="3"/><path d="M26,0 h7 v7 h-7 Z M27,1 v5 h5 v-5 Z" fill-rule="evenodd"/><rect x="28" y="2" width="3" height="3"/><path d="M0,26 h7 v7 h-7 Z M1,27 v5 h5 v-5 Z" fill-rule="evenodd"/><rect x="2" y="28" width="3" height="3"/></g></svg>
</body></html>
